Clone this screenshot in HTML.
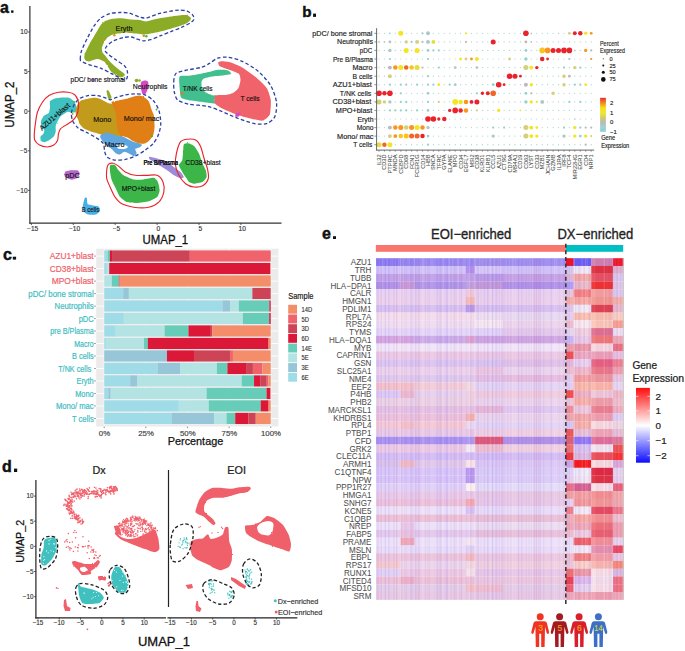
<!DOCTYPE html>
<html><head><meta charset="utf-8"><style>
html,body{margin:0;padding:0;background:#fff;width:685px;height:651px;overflow:hidden}
svg{display:block}
text{font-family:"Liberation Sans",sans-serif}
</style></head><body>
<svg width="685" height="651" viewBox="0 0 685 651">
<rect width="685" height="651" fill="#fff"/>
<defs><filter id="rough" x="-5%" y="-5%" width="110%" height="110%"><feTurbulence type="fractalNoise" baseFrequency="0.9" numOctaves="2" seed="3" result="n"/><feDisplacementMap in="SourceGraphic" in2="n" scale="1.6" xChannelSelector="R" yChannelSelector="G"/></filter></defs>
<g filter="url(#rough)">
<path d="M84.3,58.0 C84.2,57.3 84.5,54.4 84.8,53.5 C85.1,52.6 86.5,50.0 87.1,48.9 C87.7,47.8 89.8,43.4 90.5,42.1 C91.2,40.9 93.2,37.5 93.9,36.4 C94.6,35.3 96.6,31.8 97.3,30.7 C98.0,29.6 99.9,26.0 100.7,25.0 C101.5,24.0 104.2,21.7 105.3,21.1 C106.4,20.5 110.5,19.1 112.1,18.8 C113.7,18.5 119.4,18.1 121.2,18.2 C123.0,18.3 128.6,19.2 130.3,19.4 C132.0,19.6 136.6,19.6 138.2,19.8 C139.8,20.0 144.8,21.4 146.4,21.4 C148.0,21.3 152.9,19.7 154.5,19.3 C156.1,18.9 160.9,18.1 162.7,17.8 C164.5,17.5 171.1,16.5 172.9,16.2 C174.7,15.9 179.7,15.3 181.1,15.2 C182.5,15.1 186.2,14.9 187.2,15.2 C188.2,15.5 190.5,17.3 190.8,17.8 C191.1,18.3 190.7,19.8 190.3,20.3 C189.9,20.8 188.1,22.4 187.2,22.9 C186.3,23.4 182.5,24.9 181.1,25.4 C179.7,25.9 174.5,27.5 172.9,28.0 C171.3,28.5 166.4,30.0 164.7,30.5 C163.0,31.0 157.1,32.2 155.5,32.6 C153.9,33.0 149.6,33.9 148.4,34.1 C147.2,34.3 144.5,34.6 143.3,34.6 C142.1,34.6 137.4,33.8 136.1,33.6 C134.8,33.5 131.0,33.2 130.0,33.1 C129.0,33.0 126.9,32.4 125.7,32.4 C124.5,32.4 119.3,33.3 117.8,33.6 C116.3,33.9 112.1,34.8 111.0,35.3 C109.9,35.8 107.1,37.9 106.4,38.7 C105.7,39.5 104.0,42.3 103.6,43.2 C103.1,44.1 102.0,46.9 101.9,47.8 C101.8,48.7 102.1,51.5 102.4,52.3 C102.7,53.1 104.7,54.9 105.3,55.7 C105.9,56.5 107.9,59.4 108.7,60.3 C109.5,61.2 112.1,63.8 113.2,64.8 C114.3,65.8 118.9,69.6 120.0,70.5 C121.1,71.4 124.2,73.3 124.6,73.9 C125.0,74.5 124.5,75.9 124.0,76.2 C123.5,76.5 120.8,77.4 120.0,77.3 C119.2,77.2 116.4,75.6 115.5,75.0 C114.6,74.4 111.8,72.5 111.0,71.6 C110.2,70.7 108.2,67.0 107.5,66.0 C106.8,65.0 105.1,62.1 104.1,61.4 C103.1,60.7 98.8,59.1 97.3,59.1 C95.8,59.1 90.5,61.2 89.4,61.4 C88.3,61.6 86.5,61.1 86.0,60.8 C85.5,60.5 84.4,58.7 84.3,58.0 Z" fill="#8cab28"/>
<path d="M179.6,76.5 C180.6,75.4 187.1,76.0 189.3,75.7 C191.6,75.4 199.8,74.0 202.1,73.5 C204.3,73.0 210.2,71.6 211.8,71.2 C213.4,70.8 216.9,69.9 218.2,69.8 C219.5,69.7 223.5,69.7 224.6,69.8 C225.7,69.9 228.8,70.8 229.4,71.2 C230.0,71.6 231.5,73.6 231.0,74.0 C230.5,74.4 225.9,75.0 224.0,75.2 C222.1,75.5 214.0,76.2 212.0,76.5 C210.0,76.8 205.1,78.0 204.0,78.5 C202.9,79.0 201.7,81.0 201.5,82.0 C201.3,83.0 201.6,87.0 202.0,88.0 C202.4,89.0 204.9,91.8 206.0,92.5 C207.1,93.2 212.1,95.2 213.0,95.5 C213.9,95.8 215.3,95.0 215.5,95.5 C215.7,96.0 214.6,99.2 214.5,100.0 C214.4,100.8 216.3,103.3 215.0,103.5 C213.7,103.7 203.9,102.1 201.3,101.8 C198.7,101.5 191.0,100.6 189.0,100.2 C187.0,99.8 181.9,98.8 181.0,97.5 C180.1,96.2 179.7,89.1 179.6,87.0 C179.5,84.9 178.6,77.6 179.6,76.5 Z" fill="#42bf8e"/>
<path d="M218.2,62.5 C218.4,62.0 220.8,61.3 222.0,61.3 C223.2,61.3 227.9,61.7 229.9,62.3 C231.9,62.9 239.5,65.9 242.2,67.4 C244.9,68.9 254.1,75.7 256.5,77.7 C258.9,79.8 265.3,85.7 266.7,87.9 C268.1,90.1 270.5,97.4 270.8,100.1 C271.1,102.8 270.6,112.4 269.8,114.4 C269.0,116.5 264.5,120.2 262.6,120.6 C260.7,121.0 253.1,119.1 250.4,118.5 C247.8,117.9 239.0,115.4 236.1,114.4 C233.2,113.4 223.8,109.4 221.7,108.3 C219.6,107.2 215.7,104.5 215.0,103.5 C214.3,102.5 214.4,98.8 214.5,98.0 C214.6,97.2 214.4,95.6 215.5,95.3 C216.6,95.0 223.2,95.2 225.0,95.0 C226.8,94.8 231.7,93.7 233.0,93.0 C234.3,92.3 237.8,89.3 238.5,88.0 C239.2,86.7 240.4,81.4 240.5,80.0 C240.6,78.6 239.8,74.9 239.0,74.0 C238.2,73.1 233.5,71.4 232.0,70.8 C230.5,70.2 225.2,68.5 224.0,68.0 C222.8,67.5 220.1,66.5 219.5,66.0 C218.9,65.5 217.9,63.0 218.2,62.5 Z" fill="#f0636b"/>
<path d="M235.5,114.0 C235.8,113.6 238.5,112.5 239.0,112.5 C239.5,112.5 240.8,113.1 240.7,113.5 C240.6,113.9 239.0,116.2 238.5,116.5 C238.0,116.8 235.8,117.0 235.5,116.8 C235.2,116.5 235.2,114.4 235.5,114.0 Z" fill="#d54bc5"/>
<circle cx="182" cy="93.5" r="1.4" fill="#e07f19"/>
<path d="M50.0,101.3 C50.5,100.5 53.6,98.9 54.7,98.5 C55.8,98.1 60.1,97.6 61.4,97.5 C62.7,97.4 67.0,97.3 68.1,97.5 C69.1,97.7 71.2,98.9 71.9,99.4 C72.6,99.9 74.2,101.5 74.7,102.3 C75.2,103.1 76.5,106.0 76.6,107.0 C76.7,108.0 76.2,111.2 75.7,111.8 C75.2,112.4 72.7,112.7 71.9,112.7 C71.1,112.7 68.9,111.7 68.1,111.8 C67.3,111.9 65.1,113.2 64.3,113.7 C63.5,114.2 61.1,115.7 60.4,116.5 C59.7,117.3 58.1,120.3 57.6,121.3 C57.1,122.3 55.9,125.0 55.7,126.1 C55.5,127.1 55.9,130.8 55.7,131.8 C55.5,132.8 54.5,135.7 53.8,136.5 C53.1,137.3 50.0,139.7 49.0,140.3 C48.0,140.9 45.1,142.1 44.3,142.2 C43.5,142.2 41.3,141.4 40.9,140.8 C40.5,140.2 40.3,137.2 40.5,136.5 C40.7,135.8 42.9,134.4 43.3,133.7 C43.7,133.0 44.5,130.6 44.3,129.9 C44.1,129.2 41.7,127.9 41.4,127.0 C41.1,126.1 40.7,122.3 40.9,121.3 C41.1,120.2 42.8,117.2 43.3,116.5 C43.8,115.8 45.6,115.0 46.2,114.6 C46.8,114.2 48.6,113.5 49.0,112.7 C49.4,111.9 49.9,108.1 50.0,107.0 C50.1,105.9 49.5,102.1 50.0,101.3 Z" fill="#40c1c1"/>
<path d="M78.3,103.3 C78.9,102.3 80.3,100.9 81.1,100.5 C81.9,100.1 85.3,99.4 86.6,99.1 C87.8,98.8 92.3,97.8 93.6,97.7 C94.8,97.6 98.0,98.1 99.1,98.4 C100.2,98.8 103.7,100.7 104.7,101.2 C105.7,101.7 108.1,103.0 108.8,103.3 C109.5,103.6 111.2,103.7 112.0,104.0 C112.8,104.3 116.1,104.9 117.0,106.0 C117.9,107.1 120.5,113.0 121.0,115.0 C121.5,117.0 121.8,124.1 122.0,126.0 C122.2,127.9 123.1,132.7 123.0,134.0 C122.9,135.3 121.6,138.5 121.0,139.0 C120.4,139.5 118.1,139.2 117.2,139.0 C116.3,138.8 112.8,137.8 111.6,137.5 C110.3,137.2 106.1,135.9 104.7,135.5 C103.3,135.1 99.1,133.8 97.7,133.4 C96.3,133.0 92.2,132.0 90.8,131.5 C89.4,131.0 85.0,129.3 83.9,128.6 C82.8,127.9 80.3,125.0 79.7,124.1 C79.1,123.2 78.6,120.7 78.3,119.9 C78.0,119.1 76.5,116.7 76.2,115.7 C75.9,114.7 75.3,111.4 75.5,110.2 C75.7,109.0 77.7,104.3 78.3,103.3 Z" fill="#c29a1c"/>
<path d="M100.5,135.2 C101.1,134.7 105.0,133.2 106.1,133.1 C107.2,133.0 110.5,133.5 111.6,133.8 C112.7,134.1 116.1,135.6 117.2,135.9 C118.3,136.2 121.6,136.2 122.7,136.5 C123.8,136.8 127.2,138.7 128.3,139.3 C129.4,139.9 132.7,141.7 133.8,142.1 C134.9,142.5 138.5,143.2 139.3,143.5 C140.1,143.8 142.1,144.5 142.1,144.9 C142.1,145.3 140.0,147.2 139.3,147.6 C138.6,148.0 135.5,148.4 135.2,149.0 C134.9,149.6 136.7,152.5 136.6,153.2 C136.5,153.9 134.6,156.0 133.8,156.0 C133.0,156.0 129.3,153.6 128.3,153.2 C127.3,152.8 124.9,151.7 124.1,151.8 C123.3,151.9 120.7,154.5 119.9,154.6 C119.1,154.7 116.6,153.8 115.8,153.2 C115.0,152.6 112.4,149.7 111.6,149.0 C110.8,148.3 108.2,147.0 107.4,146.3 C106.6,145.6 104.0,142.9 103.3,142.1 C102.6,141.3 100.8,138.6 100.5,137.9 C100.2,137.2 99.9,135.7 100.5,135.2 Z" fill="#5ea6e0"/>
<path d="M111.6,101.9 C112.1,101.2 117.1,100.8 118.5,100.5 C119.9,100.2 124.1,99.4 125.5,99.1 C126.9,98.8 131.0,97.3 132.4,97.0 C133.8,96.7 138.1,95.5 139.3,95.6 C140.6,95.7 143.9,97.1 144.9,97.7 C145.9,98.3 148.4,100.7 149.1,101.9 C149.8,103.2 151.3,108.8 151.8,110.2 C152.3,111.6 153.6,114.0 153.9,115.7 C154.2,117.4 154.7,124.8 154.6,126.8 C154.5,128.8 153.8,133.8 153.2,135.2 C152.6,136.6 149.9,139.9 149.1,140.7 C148.3,141.5 145.9,143.2 144.9,143.5 C143.9,143.8 140.6,143.8 139.3,143.5 C138.1,143.2 133.5,141.3 132.4,140.7 C131.3,140.1 129.1,138.3 128.3,137.9 C127.5,137.5 124.8,136.8 124.0,136.5 C123.2,136.2 120.7,135.7 120.0,135.0 C119.3,134.3 117.8,131.3 117.5,130.0 C117.2,128.7 116.7,123.6 116.5,122.0 C116.3,120.4 116.3,115.5 116.0,114.0 C115.7,112.5 113.9,108.2 113.5,107.0 C113.1,105.8 111.1,102.6 111.6,101.9 Z" fill="#e07f19"/>
<path d="M110.1,165.2 C110.6,164.5 114.3,164.7 115.1,165.2 C115.9,165.7 117.7,169.3 118.5,170.3 C119.3,171.3 122.0,174.4 123.5,175.3 C125.0,176.2 131.6,179.1 133.6,179.5 C135.6,179.9 141.6,179.7 143.6,179.5 C145.6,179.3 152.3,177.6 153.7,177.8 C155.1,178.1 157.3,180.7 157.9,182.0 C158.5,183.3 159.7,188.9 159.6,190.4 C159.5,191.9 158.2,196.0 157.1,197.1 C156.0,198.2 150.7,200.7 148.7,201.3 C146.7,201.9 139.1,202.9 136.9,203.0 C134.7,203.1 128.6,202.7 126.9,202.1 C125.2,201.5 121.2,198.4 120.1,197.1 C119.0,195.8 116.7,190.4 115.9,188.7 C115.1,187.0 112.4,182.0 111.8,180.3 C111.2,178.6 110.3,173.4 110.1,171.9 C109.9,170.4 109.6,165.9 110.1,165.2 Z" fill="#3db64a"/>
<path d="M183.9,144.2 C184.5,143.4 188.0,143.2 189.0,143.4 C190.0,143.6 193.0,144.9 194.0,145.9 C195.0,146.9 198.2,151.7 199.0,153.5 C199.8,155.3 201.7,161.8 202.4,163.5 C203.1,165.2 205.4,169.0 205.8,170.3 C206.2,171.7 206.9,175.8 206.6,177.0 C206.3,178.2 203.7,181.3 202.4,182.0 C201.1,182.7 195.3,183.7 194.0,183.7 C192.7,183.7 189.8,182.7 189.0,182.0 C188.2,181.3 186.3,178.0 185.6,177.0 C184.9,176.0 183.0,173.1 182.3,171.9 C181.6,170.7 178.9,166.4 178.9,165.2 C178.9,164.0 181.9,161.5 182.3,160.2 C182.7,158.9 182.9,153.4 183.1,151.8 C183.3,150.2 183.3,145.0 183.9,144.2 Z" fill="#3db64a"/>
<path d="M149.5,156.8 C150.3,156.7 155.3,158.0 157.1,158.5 C158.9,159.0 165.4,161.1 167.1,161.9 C168.8,162.7 172.6,165.9 173.9,166.9 C175.2,167.9 179.6,170.9 180.6,171.9 C181.6,172.9 183.9,176.4 183.9,177.0 C183.9,177.6 181.6,178.5 180.6,178.3 C179.6,178.1 175.2,176.1 173.9,175.3 C172.6,174.5 168.4,171.2 167.1,170.3 C165.8,169.4 161.7,166.9 160.4,166.1 C159.1,165.3 154.8,162.6 153.7,161.9 C152.6,161.2 149.9,159.8 149.5,159.3 C149.1,158.8 148.7,156.9 149.5,156.8 Z" fill="#9d8ad8"/>
<path d="M65.4,171.5 C65.9,171.1 68.3,170.6 69.5,170.5 C70.7,170.4 76.7,170.2 77.7,170.5 C78.7,170.8 79.7,172.9 79.7,173.6 C79.7,174.3 78.5,177.1 77.7,177.7 C76.9,178.3 72.7,179.7 71.5,179.7 C70.3,179.7 66.1,177.8 65.4,177.3 C64.7,176.8 64.4,175.2 64.4,174.6 C64.4,174.0 64.9,171.9 65.4,171.5 Z" fill="#b568cc"/>
<path d="M84.8,198.1 C85.2,197.3 86.6,197.5 86.9,198.1 C87.2,198.7 86.8,203.4 87.9,204.2 C89.0,205.0 96.9,205.7 98.1,206.3 C99.3,206.9 100.3,209.6 100.1,210.4 C99.9,211.2 97.3,214.0 96.1,214.4 C94.9,214.8 89.1,214.7 87.9,214.4 C86.7,214.1 84.3,212.2 83.8,211.4 C83.3,210.6 82.7,207.6 82.8,206.3 C82.9,205.0 84.4,198.9 84.8,198.1 Z" fill="#49afe6"/>
<path d="M141.0,82.0 C141.4,81.2 144.3,80.5 145.0,80.5 C145.7,80.5 147.7,81.0 148.0,81.5 C148.3,82.0 148.6,85.0 148.5,86.0 C148.4,87.0 147.3,90.2 147.0,91.0 C146.7,91.8 145.4,94.2 145.0,94.5 C144.6,94.8 142.9,94.5 142.5,94.0 C142.1,93.5 141.2,90.2 141.0,89.0 C140.8,87.8 140.6,82.8 141.0,82.0 Z" fill="#d54bc5"/>
<path d="M106.5,91.0 C106.5,90.2 108.0,89.9 108.5,90.5 C109.0,91.1 111.3,96.1 111.5,97.0 C111.7,97.9 110.3,99.4 110.0,99.5 C109.7,99.6 108.3,98.8 108.0,98.0 C107.7,97.2 106.5,91.8 106.5,91.0 Z" fill="#8cab28"/>
</g>
<path d="M117.0,145.0 C117.8,144.5 122.5,144.2 124.0,144.5 C125.5,144.8 128.0,146.4 128.0,147.0 C128.0,147.6 125.3,148.8 124.0,149.0 C122.7,149.2 118.9,149.0 118.0,148.5 C117.1,148.0 116.2,145.5 117.0,145.0 Z" fill="#fff"/>
<circle cx="136.5" cy="80.5" r="1.8" fill="#8cab28"/>
<circle cx="114.4" cy="35.3" r="1.2" fill="#e0901c"/>
<circle cx="103.6" cy="39.8" r="0.9" fill="#e0901c"/>
<circle cx="104.1" cy="32.4" r="0.9" fill="#3cc08a"/>
<circle cx="103.0" cy="60.3" r="0.9" fill="#e0901c"/>
<circle cx="143.8" cy="35.7" r="1.3" fill="#d8901c"/>
<circle cx="146.4" cy="36.2" r="1.2" fill="#3db64a"/>
<circle cx="187.3" cy="15.3" r="0.6" fill="#f0636b"/>
<circle cx="156.5" cy="109.5" r="0.9" fill="#3db64a"/>
<circle cx="152.0" cy="136.0" r="1.1" fill="#3db64a"/>
<circle cx="74.0" cy="102.0" r="1.0" fill="#3db64a"/>
<circle cx="72.5" cy="114.0" r="1.0" fill="#c29a1c"/>
<circle cx="139.5" cy="80.5" r="1.3" fill="#8cab28"/>
<circle cx="93" cy="79.8" r="1.3" fill="#d54bc5"/>
<path d="M80.3,59.1 C80.3,57.7 80.5,53.9 81.4,51.2 C82.3,48.5 85.4,42.0 87.1,38.7 C88.8,35.4 92.1,28.9 93.9,26.2 C95.7,23.5 98.6,19.9 100.7,18.2 C102.8,16.5 107.2,14.5 109.8,13.7 C112.4,12.9 117.4,12.6 120.0,12.5 C122.6,12.4 126.4,12.5 129.1,13.1 C131.8,13.7 137.8,16.7 140.2,17.3 C142.6,17.9 144.9,18.3 147.4,17.8 C149.9,17.3 155.5,14.6 158.6,13.7 C161.7,12.8 168.2,11.6 170.9,11.1 C173.6,10.6 176.8,10.1 179.0,10.1 C181.2,10.1 185.4,10.4 187.2,11.1 C189.0,11.8 191.9,14.1 192.8,15.2 C193.7,16.3 194.2,18.3 193.9,19.3 C193.6,20.3 192.0,21.8 190.3,22.9 C188.6,24.0 183.7,26.3 181.1,27.5 C178.5,28.7 173.6,30.5 170.9,31.6 C168.2,32.7 163.4,34.6 160.7,35.7 C158.0,36.8 152.7,39.0 150.4,39.7 C148.1,40.4 145.2,40.9 143.3,40.8 C141.4,40.7 137.7,39.2 136.1,38.7 C134.5,38.2 133.1,37.2 131.4,37.0 C129.7,36.8 125.9,37.0 123.5,37.5 C121.1,38.0 115.5,39.8 113.2,41.0 C110.9,42.2 107.5,45.2 106.4,46.6 C105.3,48.0 105.0,50.1 105.3,51.2 C105.6,52.3 107.2,53.4 108.7,54.6 C110.2,55.8 114.5,58.8 116.6,60.3 C118.7,61.8 123.2,64.5 124.6,66.0 C126.0,67.5 127.1,69.9 127.4,71.6 C127.7,73.3 127.4,77.4 126.9,78.5 C126.4,79.6 125.5,80.2 123.5,79.6 C121.5,79.0 115.1,75.4 112.1,73.9 C109.1,72.4 103.7,69.4 100.7,68.2 C97.7,67.0 92.0,65.7 89.4,64.8 C86.8,63.9 82.6,62.2 81.4,61.4 C80.2,60.6 80.3,60.5 80.3,59.1 Z" fill="none" stroke="#2b3fa8" stroke-width="1.3" stroke-dasharray="3.6,2.3"/>
<path d="M173.7,81.7 C173.9,79.2 174.3,75.1 175.8,73.6 C177.3,72.1 181.6,71.3 185.0,70.5 C188.4,69.7 198.0,68.3 201.3,67.4 C204.6,66.5 207.3,64.6 209.5,63.4 C211.7,62.2 215.2,59.0 217.7,58.2 C220.2,57.4 224.6,56.8 227.9,57.2 C231.2,57.6 238.1,59.4 242.2,61.3 C246.3,63.2 254.7,68.2 258.5,71.5 C262.3,74.8 268.4,81.7 270.8,85.8 C273.2,89.9 276.0,98.1 276.5,102.2 C277.0,106.3 276.2,113.6 274.9,116.5 C273.6,119.4 269.4,122.7 266.7,123.6 C264.0,124.5 258.3,124.3 254.5,123.6 C250.7,122.9 242.5,120.1 238.1,118.5 C233.7,116.9 225.8,113.0 221.7,111.4 C217.6,109.8 211.8,107.3 207.4,106.3 C203.0,105.3 192.9,105.0 189.0,104.2 C185.1,103.4 179.8,101.7 177.8,100.1 C175.8,98.5 174.8,94.5 174.3,92.0 C173.8,89.5 173.5,84.2 173.7,81.7 Z" fill="none" stroke="#2b3fa8" stroke-width="1.3" stroke-dasharray="3.6,2.3"/>
<path d="M71.4,113.0 C71.6,110.8 73.1,106.5 74.2,104.6 C75.3,102.7 77.9,99.6 79.7,98.4 C81.5,97.2 85.6,96.0 88.0,95.6 C90.4,95.2 95.5,95.3 97.7,95.6 C99.9,95.9 103.0,97.1 104.7,97.7 C106.4,98.3 108.7,99.8 110.2,99.8 C111.7,99.8 113.8,98.4 115.8,97.7 C117.8,97.0 122.9,95.4 125.5,94.9 C128.1,94.4 132.6,93.8 135.2,93.8 C137.8,93.8 142.5,94.0 144.9,94.9 C147.3,95.8 151.3,98.5 153.2,100.5 C155.1,102.5 157.8,107.2 158.8,110.2 C159.8,113.2 160.8,119.6 160.8,122.7 C160.8,125.8 159.8,131.0 158.8,133.8 C157.8,136.6 155.1,141.3 153.2,143.5 C151.3,145.7 147.3,148.7 144.9,150.4 C142.5,152.1 137.8,154.8 135.2,156.0 C132.6,157.2 128.3,158.9 125.5,159.4 C122.7,159.9 116.8,160.4 114.4,160.1 C112.0,159.8 108.7,158.4 107.4,157.3 C106.1,156.2 105.2,153.6 104.7,151.8 C104.2,150.0 104.4,145.4 103.3,143.5 C102.2,141.6 98.6,139.4 96.4,137.9 C94.2,136.4 89.0,133.7 86.6,132.4 C84.2,131.1 80.1,129.7 78.3,128.2 C76.5,126.7 73.7,123.3 72.8,121.3 C71.9,119.3 71.2,115.2 71.4,113.0 Z" fill="none" stroke="#2b3fa8" stroke-width="1.3" stroke-dasharray="3.6,2.3"/>
<path d="M34.3,133.7 C34.4,131.2 35.3,124.2 35.7,121.3 C36.1,118.4 36.7,114.3 37.6,111.8 C38.5,109.3 40.9,104.5 42.4,102.3 C43.9,100.1 46.9,96.9 49.0,95.6 C51.1,94.3 56.0,92.7 58.5,92.3 C61.0,91.9 65.9,92.0 68.1,92.3 C70.3,92.6 73.4,93.6 74.7,94.7 C76.0,95.8 77.5,98.8 78.0,100.4 C78.5,102.0 78.7,105.0 78.5,107.0 C78.3,109.0 77.5,113.7 76.6,115.6 C75.7,117.5 73.5,119.9 71.9,121.3 C70.3,122.7 65.8,125.1 64.3,126.1 C62.8,127.1 61.2,127.9 60.4,128.9 C59.6,129.9 58.9,132.2 58.5,133.7 C58.1,135.2 58.2,138.8 57.6,140.3 C57.0,141.8 55.2,144.2 53.8,145.1 C52.4,146.0 49.0,147.0 47.1,147.0 C45.2,147.0 41.1,146.0 39.5,145.1 C37.9,144.2 35.5,141.8 34.8,140.3 C34.1,138.8 34.2,136.2 34.3,133.7 Z" fill="none" stroke="#e8262c" stroke-width="1.15"/>
<path d="M106.7,170.3 C106.9,168.4 107.5,165.3 108.4,164.4 C109.3,163.5 112.1,163.0 113.4,163.2 C114.7,163.4 116.9,164.9 118.5,166.1 C120.1,167.3 123.0,170.7 125.2,171.9 C127.4,173.1 132.4,174.8 135.3,175.3 C138.2,175.8 144.1,175.3 147.0,175.3 C149.9,175.3 155.0,174.4 157.1,175.3 C159.2,176.2 162.1,179.8 163.0,182.0 C163.9,184.2 164.4,189.4 163.8,192.1 C163.2,194.8 160.8,200.1 158.8,202.1 C156.8,204.1 152.1,206.5 148.7,207.2 C145.3,207.9 137.2,207.7 133.6,207.2 C130.0,206.7 124.3,205.1 121.8,203.8 C119.3,202.5 116.7,199.3 115.1,197.1 C113.5,194.9 111.2,189.5 110.1,187.0 C109.0,184.5 107.2,180.8 106.7,178.6 C106.2,176.4 106.5,172.2 106.7,170.3 Z" fill="none" stroke="#e8262c" stroke-width="1.15"/>
<path d="M180.6,141.7 C182.1,139.8 185.3,139.4 187.3,139.2 C189.3,139.0 193.9,139.0 195.7,140.0 C197.5,141.0 199.6,144.3 200.7,146.8 C201.8,149.3 203.2,155.6 204.1,158.5 C205.0,161.4 206.8,165.9 207.4,168.6 C208.0,171.3 208.9,176.4 208.3,178.6 C207.7,180.8 205.1,184.3 203.2,185.4 C201.3,186.5 196.3,187.2 194.0,187.0 C191.7,186.8 187.6,185.3 185.6,183.7 C183.6,182.1 180.2,177.8 178.9,175.3 C177.6,172.8 175.8,168.1 175.5,165.2 C175.2,162.3 175.7,156.6 176.4,153.5 C177.1,150.4 179.1,143.6 180.6,141.7 Z" fill="none" stroke="#e8262c" stroke-width="1.15"/>
<line x1="29.9" y1="6" x2="29.9" y2="223.7" stroke="#333" stroke-width="1.2"/>
<line x1="29.3" y1="223.1" x2="281.5" y2="223.1" stroke="#333" stroke-width="1.2"/>
<line x1="28" y1="32.0" x2="29.9" y2="32.0" stroke="#333" stroke-width="0.8"/>
<text x="27.5" y="34.3" font-size="6.5" text-anchor="end" fill="#333" font-weight="normal" stroke="#333" stroke-width="0.15" >10</text>
<line x1="28" y1="71.6" x2="29.9" y2="71.6" stroke="#333" stroke-width="0.8"/>
<text x="27.5" y="73.9" font-size="6.5" text-anchor="end" fill="#333" font-weight="normal" stroke="#333" stroke-width="0.15" >5</text>
<line x1="28" y1="111.2" x2="29.9" y2="111.2" stroke="#333" stroke-width="0.8"/>
<text x="27.5" y="113.5" font-size="6.5" text-anchor="end" fill="#333" font-weight="normal" stroke="#333" stroke-width="0.15" >0</text>
<line x1="28" y1="150.8" x2="29.9" y2="150.8" stroke="#333" stroke-width="0.8"/>
<text x="27.5" y="153.1" font-size="6.5" text-anchor="end" fill="#333" font-weight="normal" stroke="#333" stroke-width="0.15" >−5</text>
<line x1="28" y1="190.4" x2="29.9" y2="190.4" stroke="#333" stroke-width="0.8"/>
<text x="27.5" y="192.7" font-size="6.5" text-anchor="end" fill="#333" font-weight="normal" stroke="#333" stroke-width="0.15" >−10</text>
<line x1="31.4" y1="223.1" x2="31.4" y2="225" stroke="#333" stroke-width="0.8"/>
<text x="32.7" y="230.8" font-size="6.6" text-anchor="middle" fill="#333" font-weight="normal" stroke="#333" stroke-width="0.15" >−15</text>
<line x1="73.3" y1="223.1" x2="73.3" y2="225" stroke="#333" stroke-width="0.8"/>
<text x="74.6" y="230.8" font-size="6.6" text-anchor="middle" fill="#333" font-weight="normal" stroke="#333" stroke-width="0.15" >−10</text>
<line x1="115.2" y1="223.1" x2="115.2" y2="225" stroke="#333" stroke-width="0.8"/>
<text x="116.5" y="230.8" font-size="6.6" text-anchor="middle" fill="#333" font-weight="normal" stroke="#333" stroke-width="0.15" >−5</text>
<line x1="157.1" y1="223.1" x2="157.1" y2="225" stroke="#333" stroke-width="0.8"/>
<text x="158.4" y="230.8" font-size="6.6" text-anchor="middle" fill="#333" font-weight="normal" stroke="#333" stroke-width="0.15" >0</text>
<line x1="199.0" y1="223.1" x2="199.0" y2="225" stroke="#333" stroke-width="0.8"/>
<text x="200.3" y="230.8" font-size="6.6" text-anchor="middle" fill="#333" font-weight="normal" stroke="#333" stroke-width="0.15" >5</text>
<line x1="240.9" y1="223.1" x2="240.9" y2="225" stroke="#333" stroke-width="0.8"/>
<text x="242.2" y="230.8" font-size="6.6" text-anchor="middle" fill="#333" font-weight="normal" stroke="#333" stroke-width="0.15" >10</text>
<text x="165.4" y="243.9" font-size="13.3" text-anchor="middle" fill="#111" font-weight="normal" textLength="45.6" lengthAdjust="spacingAndGlyphs" stroke="#111" stroke-width="0.30" >UMAP_1</text>
<text x="14.5" y="104.6" font-size="13.3" text-anchor="middle" fill="#111" font-weight="normal" textLength="46.2" lengthAdjust="spacingAndGlyphs" transform="rotate(-90 14.5 104.6)" stroke="#111" stroke-width="0.30" >UMAP_2</text>
<text x="124.0" y="30.5" font-size="7.2" text-anchor="middle" fill="#111" font-weight="normal" stroke="#111" stroke-width="0.16" >Eryth</text>
<text x="97.8" y="82.2" font-size="7.2" text-anchor="middle" fill="#111" font-weight="normal" textLength="54.6" lengthAdjust="spacingAndGlyphs" stroke="#111" stroke-width="0.16" >pDC/ bone stromal</text>
<text x="150.2" y="89.3" font-size="7.2" text-anchor="middle" fill="#111" font-weight="normal" textLength="34.7" lengthAdjust="spacingAndGlyphs" stroke="#111" stroke-width="0.16" >Neutrophils</text>
<text x="197.6" y="90.5" font-size="7.2" text-anchor="middle" fill="#111" font-weight="normal" textLength="29.9" lengthAdjust="spacingAndGlyphs" stroke="#111" stroke-width="0.16" >T/NK cells</text>
<text x="250.0" y="100.7" font-size="7.2" text-anchor="middle" fill="#111" font-weight="normal" textLength="19.2" lengthAdjust="spacingAndGlyphs" stroke="#111" stroke-width="0.16" >T cells</text>
<text x="102.2" y="122.4" font-size="7.2" text-anchor="middle" fill="#111" font-weight="normal" stroke="#111" stroke-width="0.16" >Mono</text>
<text x="141.5" y="121.2" font-size="7.2" text-anchor="middle" fill="#111" font-weight="normal" stroke="#111" stroke-width="0.16" >Mono/ mac</text>
<text x="114.5" y="146.5" font-size="7.2" text-anchor="middle" fill="#111" font-weight="normal" stroke="#111" stroke-width="0.16" >Macro</text>
<text x="160.7" y="165.3" font-size="7.2" text-anchor="middle" fill="#111" font-weight="normal" textLength="34.4" lengthAdjust="spacingAndGlyphs" stroke="#111" stroke-width="0.16" >Pre B/Plasma</text>
<text x="203.0" y="165.3" font-size="7.2" text-anchor="middle" fill="#111" font-weight="normal" textLength="35.3" lengthAdjust="spacingAndGlyphs" stroke="#111" stroke-width="0.16" >CD38+blast</text>
<text x="72.4" y="177.6" font-size="7.2" text-anchor="middle" fill="#111" font-weight="normal" stroke="#111" stroke-width="0.16" >pDC</text>
<text x="138.5" y="191.3" font-size="7.2" text-anchor="middle" fill="#111" font-weight="normal" textLength="33.6" lengthAdjust="spacingAndGlyphs" stroke="#111" stroke-width="0.16" >MPO+blast</text>
<text x="90.4" y="211.5" font-size="7.2" text-anchor="middle" fill="#111" font-weight="normal" textLength="17.4" lengthAdjust="spacingAndGlyphs" stroke="#111" stroke-width="0.16" >B cells</text>
<text x="160.9" y="165.3" font-size="7.2" text-anchor="middle" fill="#111" font-weight="normal" textLength="34.4" lengthAdjust="spacingAndGlyphs" stroke="#111" stroke-width="0.16" >Pre B/Plasma</text>
<text x="56.2" y="118.6" font-size="7.2" text-anchor="middle" fill="#111" font-weight="normal" transform="rotate(-41 56.2 118.6)" stroke="#111" stroke-width="0.16" >AZU1+blast</text>
<text x="0.1" y="12.8" font-size="16" font-weight="bold" fill="#111" stroke="#111" stroke-width="0.45">a</text><rect x="11.1" y="10.4" width="2.4" height="2.4" fill="#111"/>
<circle cx="379.0" cy="33.3" r="0.6" fill="#9fd6d3"/>
<circle cx="384.4" cy="33.3" r="0.6" fill="#9fd6d3"/>
<circle cx="389.9" cy="33.3" r="0.84" fill="#8ed2cd"/>
<circle cx="395.3" cy="33.3" r="0.6" fill="#9fd6d3"/>
<circle cx="400.8" cy="33.3" r="2.52" fill="#f3e51f"/>
<circle cx="406.2" cy="33.3" r="0.6" fill="#9fd6d3"/>
<circle cx="411.6" cy="33.3" r="0.6" fill="#9fd6d3"/>
<circle cx="417.1" cy="33.3" r="0.6" fill="#9fd6d3"/>
<circle cx="422.5" cy="33.3" r="1.12" fill="#8ed2cd"/>
<circle cx="428.0" cy="33.3" r="1.96" fill="#a9c9c4"/>
<circle cx="433.4" cy="33.3" r="0.6" fill="#9fd6d3"/>
<circle cx="438.8" cy="33.3" r="0.6" fill="#9fd6d3"/>
<circle cx="444.3" cy="33.3" r="0.6" fill="#9fd6d3"/>
<circle cx="449.7" cy="33.3" r="0.6" fill="#9fd6d3"/>
<circle cx="455.2" cy="33.3" r="0.6" fill="#9fd6d3"/>
<circle cx="460.6" cy="33.3" r="0.6" fill="#9fd6d3"/>
<circle cx="466.0" cy="33.3" r="1.12" fill="#f3e51f"/>
<circle cx="471.5" cy="33.3" r="0.6" fill="#9fd6d3"/>
<circle cx="476.9" cy="33.3" r="0.6" fill="#9fd6d3"/>
<circle cx="482.4" cy="33.3" r="0.6" fill="#9fd6d3"/>
<circle cx="487.8" cy="33.3" r="0.6" fill="#9fd6d3"/>
<circle cx="493.2" cy="33.3" r="0.6" fill="#9fd6d3"/>
<circle cx="498.7" cy="33.3" r="0.6" fill="#9fd6d3"/>
<circle cx="504.1" cy="33.3" r="0.6" fill="#9fd6d3"/>
<circle cx="509.6" cy="33.3" r="0.6" fill="#9fd6d3"/>
<circle cx="515.0" cy="33.3" r="0.6" fill="#9fd6d3"/>
<circle cx="520.4" cy="33.3" r="0.6" fill="#9fd6d3"/>
<circle cx="525.9" cy="33.3" r="2.80" fill="#e8232b"/>
<circle cx="531.3" cy="33.3" r="0.84" fill="#8ed2cd"/>
<circle cx="536.8" cy="33.3" r="0.6" fill="#9fd6d3"/>
<circle cx="542.2" cy="33.3" r="0.6" fill="#9fd6d3"/>
<circle cx="547.6" cy="33.3" r="0.6" fill="#9fd6d3"/>
<circle cx="553.1" cy="33.3" r="0.6" fill="#9fd6d3"/>
<circle cx="558.5" cy="33.3" r="0.67" fill="#bababa"/>
<circle cx="564.0" cy="33.3" r="0.6" fill="#9fd6d3"/>
<circle cx="569.4" cy="33.3" r="1.40" fill="#d3cf7a"/>
<circle cx="574.8" cy="33.3" r="1.96" fill="#e8232b"/>
<circle cx="580.3" cy="33.3" r="2.24" fill="#e8232b"/>
<circle cx="585.7" cy="33.3" r="1.68" fill="#f3e51f"/>
<circle cx="591.2" cy="33.3" r="1.40" fill="#f8961f"/>
<line x1="374.4" y1="33.3" x2="376.6" y2="33.3" stroke="#444" stroke-width="0.6"/>
<text x="372.3" y="35.8" font-size="7.2" text-anchor="end" fill="#222" font-weight="normal" textLength="60.0" lengthAdjust="spacingAndGlyphs" stroke="#222" stroke-width="0.16" >pDC/ bone stromal</text>
<circle cx="379.0" cy="41.9" r="0.84" fill="#bababa"/>
<circle cx="384.4" cy="41.9" r="0.84" fill="#bababa"/>
<circle cx="389.9" cy="41.9" r="1.40" fill="#a9c9c4"/>
<circle cx="395.3" cy="41.9" r="0.6" fill="#9fd6d3"/>
<circle cx="400.8" cy="41.9" r="0.6" fill="#9fd6d3"/>
<circle cx="406.2" cy="41.9" r="1.68" fill="#d3cf7a"/>
<circle cx="411.6" cy="41.9" r="1.12" fill="#8ed2cd"/>
<circle cx="417.1" cy="41.9" r="1.96" fill="#d3cf7a"/>
<circle cx="422.5" cy="41.9" r="1.12" fill="#bababa"/>
<circle cx="428.0" cy="41.9" r="1.96" fill="#a9c9c4"/>
<circle cx="433.4" cy="41.9" r="1.96" fill="#e3de3c"/>
<circle cx="438.8" cy="41.9" r="0.6" fill="#9fd6d3"/>
<circle cx="444.3" cy="41.9" r="0.6" fill="#9fd6d3"/>
<circle cx="449.7" cy="41.9" r="0.6" fill="#9fd6d3"/>
<circle cx="455.2" cy="41.9" r="0.6" fill="#9fd6d3"/>
<circle cx="460.6" cy="41.9" r="0.6" fill="#9fd6d3"/>
<circle cx="466.0" cy="41.9" r="1.12" fill="#bababa"/>
<circle cx="471.5" cy="41.9" r="0.6" fill="#9fd6d3"/>
<circle cx="476.9" cy="41.9" r="0.6" fill="#9fd6d3"/>
<circle cx="482.4" cy="41.9" r="0.6" fill="#9fd6d3"/>
<circle cx="487.8" cy="41.9" r="0.6" fill="#9fd6d3"/>
<circle cx="493.2" cy="41.9" r="2.52" fill="#e8232b"/>
<circle cx="498.7" cy="41.9" r="0.6" fill="#9fd6d3"/>
<circle cx="504.1" cy="41.9" r="0.6" fill="#9fd6d3"/>
<circle cx="509.6" cy="41.9" r="0.6" fill="#9fd6d3"/>
<circle cx="515.0" cy="41.9" r="0.6" fill="#9fd6d3"/>
<circle cx="520.4" cy="41.9" r="0.6" fill="#9fd6d3"/>
<circle cx="525.9" cy="41.9" r="1.40" fill="#bababa"/>
<circle cx="531.3" cy="41.9" r="0.84" fill="#8ed2cd"/>
<circle cx="536.8" cy="41.9" r="0.6" fill="#9fd6d3"/>
<circle cx="542.2" cy="41.9" r="0.6" fill="#9fd6d3"/>
<circle cx="547.6" cy="41.9" r="0.6" fill="#9fd6d3"/>
<circle cx="553.1" cy="41.9" r="0.6" fill="#9fd6d3"/>
<circle cx="558.5" cy="41.9" r="0.6" fill="#9fd6d3"/>
<circle cx="564.0" cy="41.9" r="0.6" fill="#9fd6d3"/>
<circle cx="569.4" cy="41.9" r="0.6" fill="#9fd6d3"/>
<circle cx="574.8" cy="41.9" r="0.6" fill="#9fd6d3"/>
<circle cx="580.3" cy="41.9" r="0.6" fill="#9fd6d3"/>
<circle cx="585.7" cy="41.9" r="0.6" fill="#9fd6d3"/>
<circle cx="591.2" cy="41.9" r="0.6" fill="#9fd6d3"/>
<line x1="374.4" y1="41.9" x2="376.6" y2="41.9" stroke="#444" stroke-width="0.6"/>
<text x="373.0" y="44.4" font-size="7.2" text-anchor="end" fill="#222" font-weight="normal" textLength="36.0" lengthAdjust="spacingAndGlyphs" stroke="#222" stroke-width="0.16" >Neutrophils</text>
<circle cx="379.0" cy="50.4" r="0.6" fill="#9fd6d3"/>
<circle cx="384.4" cy="50.4" r="0.6" fill="#9fd6d3"/>
<circle cx="389.9" cy="50.4" r="1.68" fill="#a9c9c4"/>
<circle cx="395.3" cy="50.4" r="0.6" fill="#9fd6d3"/>
<circle cx="400.8" cy="50.4" r="0.6" fill="#9fd6d3"/>
<circle cx="406.2" cy="50.4" r="2.52" fill="#f3e51f"/>
<circle cx="411.6" cy="50.4" r="0.6" fill="#9fd6d3"/>
<circle cx="417.1" cy="50.4" r="2.52" fill="#f3e51f"/>
<circle cx="422.5" cy="50.4" r="0.6" fill="#9fd6d3"/>
<circle cx="428.0" cy="50.4" r="1.40" fill="#8ed2cd"/>
<circle cx="433.4" cy="50.4" r="1.12" fill="#8ed2cd"/>
<circle cx="438.8" cy="50.4" r="1.12" fill="#a9c9c4"/>
<circle cx="444.3" cy="50.4" r="0.6" fill="#9fd6d3"/>
<circle cx="449.7" cy="50.4" r="0.6" fill="#9fd6d3"/>
<circle cx="455.2" cy="50.4" r="0.6" fill="#9fd6d3"/>
<circle cx="460.6" cy="50.4" r="0.6" fill="#9fd6d3"/>
<circle cx="466.0" cy="50.4" r="0.6" fill="#9fd6d3"/>
<circle cx="471.5" cy="50.4" r="0.6" fill="#9fd6d3"/>
<circle cx="476.9" cy="50.4" r="0.6" fill="#9fd6d3"/>
<circle cx="482.4" cy="50.4" r="0.6" fill="#9fd6d3"/>
<circle cx="487.8" cy="50.4" r="0.6" fill="#9fd6d3"/>
<circle cx="493.2" cy="50.4" r="0.6" fill="#9fd6d3"/>
<circle cx="498.7" cy="50.4" r="0.6" fill="#9fd6d3"/>
<circle cx="504.1" cy="50.4" r="0.6" fill="#9fd6d3"/>
<circle cx="509.6" cy="50.4" r="0.6" fill="#9fd6d3"/>
<circle cx="515.0" cy="50.4" r="0.6" fill="#9fd6d3"/>
<circle cx="520.4" cy="50.4" r="0.6" fill="#9fd6d3"/>
<circle cx="525.9" cy="50.4" r="1.40" fill="#8ed2cd"/>
<circle cx="531.3" cy="50.4" r="0.6" fill="#9fd6d3"/>
<circle cx="536.8" cy="50.4" r="0.6" fill="#9fd6d3"/>
<circle cx="542.2" cy="50.4" r="2.80" fill="#f9c41b"/>
<circle cx="547.6" cy="50.4" r="2.80" fill="#f8961f"/>
<circle cx="553.1" cy="50.4" r="2.52" fill="#e8232b"/>
<circle cx="558.5" cy="50.4" r="2.52" fill="#e8232b"/>
<circle cx="564.0" cy="50.4" r="2.80" fill="#e8232b"/>
<circle cx="569.4" cy="50.4" r="2.80" fill="#e8232b"/>
<circle cx="574.8" cy="50.4" r="0.84" fill="#bababa"/>
<circle cx="580.3" cy="50.4" r="0.6" fill="#9fd6d3"/>
<circle cx="585.7" cy="50.4" r="1.68" fill="#f8961f"/>
<circle cx="591.2" cy="50.4" r="1.12" fill="#bababa"/>
<line x1="374.4" y1="50.4" x2="376.6" y2="50.4" stroke="#444" stroke-width="0.6"/>
<text x="372.3" y="52.9" font-size="7.2" text-anchor="end" fill="#222" font-weight="normal" textLength="12.5" lengthAdjust="spacingAndGlyphs" stroke="#222" stroke-width="0.16" >pDC</text>
<circle cx="379.0" cy="59.0" r="0.6" fill="#9fd6d3"/>
<circle cx="384.4" cy="59.0" r="0.6" fill="#9fd6d3"/>
<circle cx="389.9" cy="59.0" r="1.12" fill="#8ed2cd"/>
<circle cx="395.3" cy="59.0" r="0.6" fill="#9fd6d3"/>
<circle cx="400.8" cy="59.0" r="0.6" fill="#9fd6d3"/>
<circle cx="406.2" cy="59.0" r="0.6" fill="#9fd6d3"/>
<circle cx="411.6" cy="59.0" r="0.6" fill="#9fd6d3"/>
<circle cx="417.1" cy="59.0" r="0.6" fill="#9fd6d3"/>
<circle cx="422.5" cy="59.0" r="0.6" fill="#9fd6d3"/>
<circle cx="428.0" cy="59.0" r="1.12" fill="#8ed2cd"/>
<circle cx="433.4" cy="59.0" r="0.6" fill="#9fd6d3"/>
<circle cx="438.8" cy="59.0" r="0.6" fill="#9fd6d3"/>
<circle cx="444.3" cy="59.0" r="0.6" fill="#9fd6d3"/>
<circle cx="449.7" cy="59.0" r="0.6" fill="#9fd6d3"/>
<circle cx="455.2" cy="59.0" r="0.6" fill="#9fd6d3"/>
<circle cx="460.6" cy="59.0" r="1.40" fill="#f3e51f"/>
<circle cx="466.0" cy="59.0" r="1.40" fill="#d3cf7a"/>
<circle cx="471.5" cy="59.0" r="1.40" fill="#f8961f"/>
<circle cx="476.9" cy="59.0" r="1.96" fill="#f3e51f"/>
<circle cx="482.4" cy="59.0" r="0.6" fill="#9fd6d3"/>
<circle cx="487.8" cy="59.0" r="0.6" fill="#9fd6d3"/>
<circle cx="493.2" cy="59.0" r="0.6" fill="#9fd6d3"/>
<circle cx="498.7" cy="59.0" r="0.6" fill="#9fd6d3"/>
<circle cx="504.1" cy="59.0" r="0.6" fill="#9fd6d3"/>
<circle cx="509.6" cy="59.0" r="1.40" fill="#d3cf7a"/>
<circle cx="515.0" cy="59.0" r="0.6" fill="#9fd6d3"/>
<circle cx="520.4" cy="59.0" r="0.6" fill="#9fd6d3"/>
<circle cx="525.9" cy="59.0" r="1.68" fill="#8ed2cd"/>
<circle cx="531.3" cy="59.0" r="0.6" fill="#9fd6d3"/>
<circle cx="536.8" cy="59.0" r="0.6" fill="#9fd6d3"/>
<circle cx="542.2" cy="59.0" r="2.24" fill="#e8232b"/>
<circle cx="547.6" cy="59.0" r="1.40" fill="#e8232b"/>
<circle cx="553.1" cy="59.0" r="0.6" fill="#9fd6d3"/>
<circle cx="558.5" cy="59.0" r="0.6" fill="#9fd6d3"/>
<circle cx="564.0" cy="59.0" r="0.6" fill="#9fd6d3"/>
<circle cx="569.4" cy="59.0" r="1.12" fill="#bababa"/>
<circle cx="574.8" cy="59.0" r="0.6" fill="#9fd6d3"/>
<circle cx="580.3" cy="59.0" r="0.6" fill="#9fd6d3"/>
<circle cx="585.7" cy="59.0" r="0.6" fill="#9fd6d3"/>
<circle cx="591.2" cy="59.0" r="1.12" fill="#f8961f"/>
<line x1="374.4" y1="59.0" x2="376.6" y2="59.0" stroke="#444" stroke-width="0.6"/>
<text x="373.0" y="61.5" font-size="7.2" text-anchor="end" fill="#222" font-weight="normal" textLength="40.0" lengthAdjust="spacingAndGlyphs" stroke="#222" stroke-width="0.16" >Pre B/Plasma</text>
<circle cx="379.0" cy="67.6" r="0.6" fill="#9fd6d3"/>
<circle cx="384.4" cy="67.6" r="0.6" fill="#9fd6d3"/>
<circle cx="389.9" cy="67.6" r="1.96" fill="#bababa"/>
<circle cx="395.3" cy="67.6" r="2.24" fill="#f8961f"/>
<circle cx="400.8" cy="67.6" r="2.52" fill="#f3e51f"/>
<circle cx="406.2" cy="67.6" r="2.24" fill="#f06528"/>
<circle cx="411.6" cy="67.6" r="2.24" fill="#f9c41b"/>
<circle cx="417.1" cy="67.6" r="2.52" fill="#e3de3c"/>
<circle cx="422.5" cy="67.6" r="1.12" fill="#bababa"/>
<circle cx="428.0" cy="67.6" r="0.6" fill="#9fd6d3"/>
<circle cx="433.4" cy="67.6" r="0.6" fill="#9fd6d3"/>
<circle cx="438.8" cy="67.6" r="1.12" fill="#8ed2cd"/>
<circle cx="444.3" cy="67.6" r="0.6" fill="#9fd6d3"/>
<circle cx="449.7" cy="67.6" r="0.6" fill="#9fd6d3"/>
<circle cx="455.2" cy="67.6" r="1.40" fill="#a9c9c4"/>
<circle cx="460.6" cy="67.6" r="0.6" fill="#9fd6d3"/>
<circle cx="466.0" cy="67.6" r="0.6" fill="#9fd6d3"/>
<circle cx="471.5" cy="67.6" r="0.6" fill="#9fd6d3"/>
<circle cx="476.9" cy="67.6" r="1.40" fill="#a9c9c4"/>
<circle cx="482.4" cy="67.6" r="0.6" fill="#9fd6d3"/>
<circle cx="487.8" cy="67.6" r="0.6" fill="#9fd6d3"/>
<circle cx="493.2" cy="67.6" r="0.6" fill="#9fd6d3"/>
<circle cx="498.7" cy="67.6" r="0.6" fill="#9fd6d3"/>
<circle cx="504.1" cy="67.6" r="0.6" fill="#9fd6d3"/>
<circle cx="509.6" cy="67.6" r="0.6" fill="#9fd6d3"/>
<circle cx="515.0" cy="67.6" r="0.6" fill="#9fd6d3"/>
<circle cx="520.4" cy="67.6" r="0.6" fill="#9fd6d3"/>
<circle cx="525.9" cy="67.6" r="2.52" fill="#d3cf7a"/>
<circle cx="531.3" cy="67.6" r="1.96" fill="#f3e51f"/>
<circle cx="536.8" cy="67.6" r="1.68" fill="#e8232b"/>
<circle cx="542.2" cy="67.6" r="0.6" fill="#9fd6d3"/>
<circle cx="547.6" cy="67.6" r="0.6" fill="#9fd6d3"/>
<circle cx="553.1" cy="67.6" r="0.6" fill="#9fd6d3"/>
<circle cx="558.5" cy="67.6" r="0.6" fill="#9fd6d3"/>
<circle cx="564.0" cy="67.6" r="1.12" fill="#8ed2cd"/>
<circle cx="569.4" cy="67.6" r="0.6" fill="#9fd6d3"/>
<circle cx="574.8" cy="67.6" r="1.68" fill="#d3cf7a"/>
<circle cx="580.3" cy="67.6" r="1.12" fill="#8ed2cd"/>
<circle cx="585.7" cy="67.6" r="0.6" fill="#9fd6d3"/>
<circle cx="591.2" cy="67.6" r="0.6" fill="#9fd6d3"/>
<line x1="374.4" y1="67.6" x2="376.6" y2="67.6" stroke="#444" stroke-width="0.6"/>
<text x="372.5" y="70.1" font-size="7.2" text-anchor="end" fill="#222" font-weight="normal" textLength="20.0" lengthAdjust="spacingAndGlyphs" stroke="#222" stroke-width="0.16" >Macro</text>
<circle cx="379.0" cy="76.2" r="0.6" fill="#9fd6d3"/>
<circle cx="384.4" cy="76.2" r="0.6" fill="#9fd6d3"/>
<circle cx="389.9" cy="76.2" r="1.96" fill="#d3cf7a"/>
<circle cx="395.3" cy="76.2" r="0.6" fill="#9fd6d3"/>
<circle cx="400.8" cy="76.2" r="0.6" fill="#9fd6d3"/>
<circle cx="406.2" cy="76.2" r="0.6" fill="#9fd6d3"/>
<circle cx="411.6" cy="76.2" r="0.6" fill="#9fd6d3"/>
<circle cx="417.1" cy="76.2" r="0.6" fill="#9fd6d3"/>
<circle cx="422.5" cy="76.2" r="0.6" fill="#9fd6d3"/>
<circle cx="428.0" cy="76.2" r="1.12" fill="#8ed2cd"/>
<circle cx="433.4" cy="76.2" r="0.6" fill="#9fd6d3"/>
<circle cx="438.8" cy="76.2" r="0.6" fill="#9fd6d3"/>
<circle cx="444.3" cy="76.2" r="0.6" fill="#9fd6d3"/>
<circle cx="449.7" cy="76.2" r="0.6" fill="#9fd6d3"/>
<circle cx="455.2" cy="76.2" r="0.6" fill="#9fd6d3"/>
<circle cx="460.6" cy="76.2" r="0.6" fill="#9fd6d3"/>
<circle cx="466.0" cy="76.2" r="0.6" fill="#9fd6d3"/>
<circle cx="471.5" cy="76.2" r="0.6" fill="#9fd6d3"/>
<circle cx="476.9" cy="76.2" r="0.6" fill="#9fd6d3"/>
<circle cx="482.4" cy="76.2" r="0.6" fill="#9fd6d3"/>
<circle cx="487.8" cy="76.2" r="0.6" fill="#9fd6d3"/>
<circle cx="493.2" cy="76.2" r="0.6" fill="#9fd6d3"/>
<circle cx="498.7" cy="76.2" r="0.6" fill="#9fd6d3"/>
<circle cx="504.1" cy="76.2" r="0.6" fill="#9fd6d3"/>
<circle cx="509.6" cy="76.2" r="2.80" fill="#e8232b"/>
<circle cx="515.0" cy="76.2" r="2.52" fill="#e8232b"/>
<circle cx="520.4" cy="76.2" r="1.40" fill="#e8232b"/>
<circle cx="525.9" cy="76.2" r="0.6" fill="#9fd6d3"/>
<circle cx="531.3" cy="76.2" r="0.6" fill="#9fd6d3"/>
<circle cx="536.8" cy="76.2" r="0.6" fill="#9fd6d3"/>
<circle cx="542.2" cy="76.2" r="0.6" fill="#9fd6d3"/>
<circle cx="547.6" cy="76.2" r="0.6" fill="#9fd6d3"/>
<circle cx="553.1" cy="76.2" r="0.6" fill="#9fd6d3"/>
<circle cx="558.5" cy="76.2" r="0.6" fill="#9fd6d3"/>
<circle cx="564.0" cy="76.2" r="1.68" fill="#d3cf7a"/>
<circle cx="569.4" cy="76.2" r="1.40" fill="#bababa"/>
<circle cx="574.8" cy="76.2" r="0.6" fill="#9fd6d3"/>
<circle cx="580.3" cy="76.2" r="0.6" fill="#9fd6d3"/>
<circle cx="585.7" cy="76.2" r="0.6" fill="#9fd6d3"/>
<circle cx="591.2" cy="76.2" r="0.6" fill="#9fd6d3"/>
<line x1="374.4" y1="76.2" x2="376.6" y2="76.2" stroke="#444" stroke-width="0.6"/>
<text x="372.5" y="78.7" font-size="7.2" text-anchor="end" fill="#222" font-weight="normal" textLength="20.0" lengthAdjust="spacingAndGlyphs" stroke="#222" stroke-width="0.16" >B cells</text>
<circle cx="379.0" cy="84.7" r="0.6" fill="#9fd6d3"/>
<circle cx="384.4" cy="84.7" r="0.6" fill="#9fd6d3"/>
<circle cx="389.9" cy="84.7" r="1.12" fill="#8ed2cd"/>
<circle cx="395.3" cy="84.7" r="0.6" fill="#9fd6d3"/>
<circle cx="400.8" cy="84.7" r="1.12" fill="#8ed2cd"/>
<circle cx="406.2" cy="84.7" r="1.12" fill="#a9c9c4"/>
<circle cx="411.6" cy="84.7" r="0.6" fill="#9fd6d3"/>
<circle cx="417.1" cy="84.7" r="1.12" fill="#8ed2cd"/>
<circle cx="422.5" cy="84.7" r="0.6" fill="#9fd6d3"/>
<circle cx="428.0" cy="84.7" r="1.12" fill="#8ed2cd"/>
<circle cx="433.4" cy="84.7" r="1.12" fill="#8ed2cd"/>
<circle cx="438.8" cy="84.7" r="1.40" fill="#f3e51f"/>
<circle cx="444.3" cy="84.7" r="0.6" fill="#9fd6d3"/>
<circle cx="449.7" cy="84.7" r="1.12" fill="#8ed2cd"/>
<circle cx="455.2" cy="84.7" r="1.40" fill="#a9c9c4"/>
<circle cx="460.6" cy="84.7" r="0.6" fill="#9fd6d3"/>
<circle cx="466.0" cy="84.7" r="0.6" fill="#9fd6d3"/>
<circle cx="471.5" cy="84.7" r="0.6" fill="#9fd6d3"/>
<circle cx="476.9" cy="84.7" r="0.6" fill="#9fd6d3"/>
<circle cx="482.4" cy="84.7" r="0.6" fill="#9fd6d3"/>
<circle cx="487.8" cy="84.7" r="0.6" fill="#9fd6d3"/>
<circle cx="493.2" cy="84.7" r="1.40" fill="#8ed2cd"/>
<circle cx="498.7" cy="84.7" r="2.80" fill="#e8232b"/>
<circle cx="504.1" cy="84.7" r="1.40" fill="#e8232b"/>
<circle cx="509.6" cy="84.7" r="0.6" fill="#9fd6d3"/>
<circle cx="515.0" cy="84.7" r="0.6" fill="#9fd6d3"/>
<circle cx="520.4" cy="84.7" r="0.6" fill="#9fd6d3"/>
<circle cx="525.9" cy="84.7" r="1.96" fill="#bababa"/>
<circle cx="531.3" cy="84.7" r="1.68" fill="#f3e51f"/>
<circle cx="536.8" cy="84.7" r="0.6" fill="#9fd6d3"/>
<circle cx="542.2" cy="84.7" r="0.6" fill="#9fd6d3"/>
<circle cx="547.6" cy="84.7" r="0.6" fill="#9fd6d3"/>
<circle cx="553.1" cy="84.7" r="0.6" fill="#9fd6d3"/>
<circle cx="558.5" cy="84.7" r="0.6" fill="#9fd6d3"/>
<circle cx="564.0" cy="84.7" r="1.68" fill="#d3cf7a"/>
<circle cx="569.4" cy="84.7" r="0.6" fill="#9fd6d3"/>
<circle cx="574.8" cy="84.7" r="1.12" fill="#8ed2cd"/>
<circle cx="580.3" cy="84.7" r="1.12" fill="#8ed2cd"/>
<circle cx="585.7" cy="84.7" r="1.40" fill="#f3e51f"/>
<circle cx="591.2" cy="84.7" r="0.6" fill="#9fd6d3"/>
<line x1="374.4" y1="84.7" x2="376.6" y2="84.7" stroke="#444" stroke-width="0.6"/>
<text x="371.8" y="87.2" font-size="7.2" text-anchor="end" fill="#222" font-weight="normal" textLength="39.0" lengthAdjust="spacingAndGlyphs" stroke="#222" stroke-width="0.16" >AZU1+blast</text>
<circle cx="379.0" cy="93.3" r="2.80" fill="#e8232b"/>
<circle cx="384.4" cy="93.3" r="2.24" fill="#e8232b"/>
<circle cx="389.9" cy="93.3" r="2.80" fill="#e8232b"/>
<circle cx="395.3" cy="93.3" r="0.6" fill="#9fd6d3"/>
<circle cx="400.8" cy="93.3" r="1.12" fill="#8ed2cd"/>
<circle cx="406.2" cy="93.3" r="0.6" fill="#9fd6d3"/>
<circle cx="411.6" cy="93.3" r="0.6" fill="#9fd6d3"/>
<circle cx="417.1" cy="93.3" r="0.6" fill="#9fd6d3"/>
<circle cx="422.5" cy="93.3" r="0.6" fill="#9fd6d3"/>
<circle cx="428.0" cy="93.3" r="1.40" fill="#a9c9c4"/>
<circle cx="433.4" cy="93.3" r="0.6" fill="#9fd6d3"/>
<circle cx="438.8" cy="93.3" r="0.6" fill="#9fd6d3"/>
<circle cx="444.3" cy="93.3" r="0.6" fill="#9fd6d3"/>
<circle cx="449.7" cy="93.3" r="0.6" fill="#9fd6d3"/>
<circle cx="455.2" cy="93.3" r="0.6" fill="#9fd6d3"/>
<circle cx="460.6" cy="93.3" r="0.6" fill="#9fd6d3"/>
<circle cx="466.0" cy="93.3" r="0.6" fill="#9fd6d3"/>
<circle cx="471.5" cy="93.3" r="0.6" fill="#9fd6d3"/>
<circle cx="476.9" cy="93.3" r="1.12" fill="#8ed2cd"/>
<circle cx="482.4" cy="93.3" r="1.68" fill="#e8232b"/>
<circle cx="487.8" cy="93.3" r="1.96" fill="#e8232b"/>
<circle cx="493.2" cy="93.3" r="2.80" fill="#f06528"/>
<circle cx="498.7" cy="93.3" r="0.6" fill="#9fd6d3"/>
<circle cx="504.1" cy="93.3" r="0.6" fill="#9fd6d3"/>
<circle cx="509.6" cy="93.3" r="0.6" fill="#9fd6d3"/>
<circle cx="515.0" cy="93.3" r="0.6" fill="#9fd6d3"/>
<circle cx="520.4" cy="93.3" r="0.6" fill="#9fd6d3"/>
<circle cx="525.9" cy="93.3" r="1.40" fill="#8ed2cd"/>
<circle cx="531.3" cy="93.3" r="1.12" fill="#bababa"/>
<circle cx="536.8" cy="93.3" r="0.6" fill="#9fd6d3"/>
<circle cx="542.2" cy="93.3" r="0.6" fill="#9fd6d3"/>
<circle cx="547.6" cy="93.3" r="0.6" fill="#9fd6d3"/>
<circle cx="553.1" cy="93.3" r="1.68" fill="#d3cf7a"/>
<circle cx="558.5" cy="93.3" r="0.6" fill="#9fd6d3"/>
<circle cx="564.0" cy="93.3" r="0.6" fill="#9fd6d3"/>
<circle cx="569.4" cy="93.3" r="0.6" fill="#9fd6d3"/>
<circle cx="574.8" cy="93.3" r="0.6" fill="#9fd6d3"/>
<circle cx="580.3" cy="93.3" r="0.6" fill="#9fd6d3"/>
<circle cx="585.7" cy="93.3" r="0.6" fill="#9fd6d3"/>
<circle cx="591.2" cy="93.3" r="0.6" fill="#9fd6d3"/>
<line x1="374.4" y1="93.3" x2="376.6" y2="93.3" stroke="#444" stroke-width="0.6"/>
<text x="371.2" y="95.8" font-size="7.2" text-anchor="end" fill="#222" font-weight="normal" textLength="31.4" lengthAdjust="spacingAndGlyphs" stroke="#222" stroke-width="0.16" >T/NK cells</text>
<circle cx="379.0" cy="101.9" r="2.52" fill="#d3cf7a"/>
<circle cx="384.4" cy="101.9" r="1.68" fill="#d3cf7a"/>
<circle cx="389.9" cy="101.9" r="1.68" fill="#a9c9c4"/>
<circle cx="395.3" cy="101.9" r="0.6" fill="#9fd6d3"/>
<circle cx="400.8" cy="101.9" r="1.12" fill="#8ed2cd"/>
<circle cx="406.2" cy="101.9" r="1.12" fill="#8ed2cd"/>
<circle cx="411.6" cy="101.9" r="0.6" fill="#9fd6d3"/>
<circle cx="417.1" cy="101.9" r="0.6" fill="#9fd6d3"/>
<circle cx="422.5" cy="101.9" r="0.6" fill="#9fd6d3"/>
<circle cx="428.0" cy="101.9" r="1.12" fill="#8ed2cd"/>
<circle cx="433.4" cy="101.9" r="0.6" fill="#9fd6d3"/>
<circle cx="438.8" cy="101.9" r="1.12" fill="#d3cf7a"/>
<circle cx="444.3" cy="101.9" r="0.6" fill="#9fd6d3"/>
<circle cx="449.7" cy="101.9" r="0.6" fill="#9fd6d3"/>
<circle cx="455.2" cy="101.9" r="2.80" fill="#f3e51f"/>
<circle cx="460.6" cy="101.9" r="2.24" fill="#f3e51f"/>
<circle cx="466.0" cy="101.9" r="2.24" fill="#f8961f"/>
<circle cx="471.5" cy="101.9" r="1.96" fill="#e8232b"/>
<circle cx="476.9" cy="101.9" r="2.52" fill="#e8232b"/>
<circle cx="482.4" cy="101.9" r="0.6" fill="#9fd6d3"/>
<circle cx="487.8" cy="101.9" r="0.6" fill="#9fd6d3"/>
<circle cx="493.2" cy="101.9" r="0.6" fill="#9fd6d3"/>
<circle cx="498.7" cy="101.9" r="0.6" fill="#9fd6d3"/>
<circle cx="504.1" cy="101.9" r="0.6" fill="#9fd6d3"/>
<circle cx="509.6" cy="101.9" r="0.6" fill="#9fd6d3"/>
<circle cx="515.0" cy="101.9" r="0.6" fill="#9fd6d3"/>
<circle cx="520.4" cy="101.9" r="0.6" fill="#9fd6d3"/>
<circle cx="525.9" cy="101.9" r="1.68" fill="#8ed2cd"/>
<circle cx="531.3" cy="101.9" r="1.68" fill="#f3e51f"/>
<circle cx="536.8" cy="101.9" r="1.12" fill="#f3e51f"/>
<circle cx="542.2" cy="101.9" r="1.96" fill="#a9c9c4"/>
<circle cx="547.6" cy="101.9" r="0.6" fill="#9fd6d3"/>
<circle cx="553.1" cy="101.9" r="0.6" fill="#9fd6d3"/>
<circle cx="558.5" cy="101.9" r="0.6" fill="#9fd6d3"/>
<circle cx="564.0" cy="101.9" r="0.6" fill="#9fd6d3"/>
<circle cx="569.4" cy="101.9" r="1.12" fill="#8ed2cd"/>
<circle cx="574.8" cy="101.9" r="0.6" fill="#9fd6d3"/>
<circle cx="580.3" cy="101.9" r="1.12" fill="#8ed2cd"/>
<circle cx="585.7" cy="101.9" r="0.6" fill="#9fd6d3"/>
<circle cx="591.2" cy="101.9" r="0.6" fill="#9fd6d3"/>
<line x1="374.4" y1="101.9" x2="376.6" y2="101.9" stroke="#444" stroke-width="0.6"/>
<text x="371.2" y="104.4" font-size="7.2" text-anchor="end" fill="#222" font-weight="normal" textLength="38.7" lengthAdjust="spacingAndGlyphs" stroke="#222" stroke-width="0.16" >CD38+blast</text>
<circle cx="379.0" cy="110.4" r="0.6" fill="#9fd6d3"/>
<circle cx="384.4" cy="110.4" r="0.6" fill="#9fd6d3"/>
<circle cx="389.9" cy="110.4" r="1.12" fill="#8ed2cd"/>
<circle cx="395.3" cy="110.4" r="1.12" fill="#8ed2cd"/>
<circle cx="400.8" cy="110.4" r="1.12" fill="#8ed2cd"/>
<circle cx="406.2" cy="110.4" r="1.12" fill="#8ed2cd"/>
<circle cx="411.6" cy="110.4" r="0.6" fill="#9fd6d3"/>
<circle cx="417.1" cy="110.4" r="1.12" fill="#8ed2cd"/>
<circle cx="422.5" cy="110.4" r="0.6" fill="#9fd6d3"/>
<circle cx="428.0" cy="110.4" r="1.40" fill="#a9c9c4"/>
<circle cx="433.4" cy="110.4" r="0.6" fill="#9fd6d3"/>
<circle cx="438.8" cy="110.4" r="0.6" fill="#9fd6d3"/>
<circle cx="444.3" cy="110.4" r="0.6" fill="#9fd6d3"/>
<circle cx="449.7" cy="110.4" r="1.68" fill="#e8232b"/>
<circle cx="455.2" cy="110.4" r="2.80" fill="#e8232b"/>
<circle cx="460.6" cy="110.4" r="2.24" fill="#e8232b"/>
<circle cx="466.0" cy="110.4" r="2.24" fill="#f8961f"/>
<circle cx="471.5" cy="110.4" r="0.6" fill="#9fd6d3"/>
<circle cx="476.9" cy="110.4" r="1.12" fill="#d3cf7a"/>
<circle cx="482.4" cy="110.4" r="0.6" fill="#9fd6d3"/>
<circle cx="487.8" cy="110.4" r="0.6" fill="#9fd6d3"/>
<circle cx="493.2" cy="110.4" r="0.6" fill="#9fd6d3"/>
<circle cx="498.7" cy="110.4" r="1.68" fill="#f3e51f"/>
<circle cx="504.1" cy="110.4" r="0.6" fill="#9fd6d3"/>
<circle cx="509.6" cy="110.4" r="0.6" fill="#9fd6d3"/>
<circle cx="515.0" cy="110.4" r="0.6" fill="#9fd6d3"/>
<circle cx="520.4" cy="110.4" r="0.84" fill="#f3e51f"/>
<circle cx="525.9" cy="110.4" r="0.6" fill="#9fd6d3"/>
<circle cx="531.3" cy="110.4" r="0.6" fill="#9fd6d3"/>
<circle cx="536.8" cy="110.4" r="0.6" fill="#9fd6d3"/>
<circle cx="542.2" cy="110.4" r="0.6" fill="#9fd6d3"/>
<circle cx="547.6" cy="110.4" r="0.6" fill="#9fd6d3"/>
<circle cx="553.1" cy="110.4" r="0.6" fill="#9fd6d3"/>
<circle cx="558.5" cy="110.4" r="0.6" fill="#9fd6d3"/>
<circle cx="564.0" cy="110.4" r="0.6" fill="#9fd6d3"/>
<circle cx="569.4" cy="110.4" r="0.6" fill="#9fd6d3"/>
<circle cx="574.8" cy="110.4" r="0.6" fill="#9fd6d3"/>
<circle cx="580.3" cy="110.4" r="0.6" fill="#9fd6d3"/>
<circle cx="585.7" cy="110.4" r="0.6" fill="#9fd6d3"/>
<circle cx="591.2" cy="110.4" r="0.6" fill="#9fd6d3"/>
<line x1="374.4" y1="110.4" x2="376.6" y2="110.4" stroke="#444" stroke-width="0.6"/>
<text x="372.3" y="112.9" font-size="7.2" text-anchor="end" fill="#222" font-weight="normal" textLength="36.5" lengthAdjust="spacingAndGlyphs" stroke="#222" stroke-width="0.16" >MPO+blast</text>
<circle cx="379.0" cy="119.0" r="0.6" fill="#9fd6d3"/>
<circle cx="384.4" cy="119.0" r="0.6" fill="#9fd6d3"/>
<circle cx="389.9" cy="119.0" r="0.6" fill="#9fd6d3"/>
<circle cx="395.3" cy="119.0" r="0.6" fill="#9fd6d3"/>
<circle cx="400.8" cy="119.0" r="0.6" fill="#9fd6d3"/>
<circle cx="406.2" cy="119.0" r="0.6" fill="#9fd6d3"/>
<circle cx="411.6" cy="119.0" r="0.6" fill="#9fd6d3"/>
<circle cx="417.1" cy="119.0" r="0.6" fill="#9fd6d3"/>
<circle cx="422.5" cy="119.0" r="0.6" fill="#9fd6d3"/>
<circle cx="428.0" cy="119.0" r="2.80" fill="#e8232b"/>
<circle cx="433.4" cy="119.0" r="2.80" fill="#e8232b"/>
<circle cx="438.8" cy="119.0" r="1.68" fill="#e8232b"/>
<circle cx="444.3" cy="119.0" r="2.24" fill="#e8232b"/>
<circle cx="449.7" cy="119.0" r="0.6" fill="#9fd6d3"/>
<circle cx="455.2" cy="119.0" r="0.6" fill="#9fd6d3"/>
<circle cx="460.6" cy="119.0" r="0.6" fill="#9fd6d3"/>
<circle cx="466.0" cy="119.0" r="0.6" fill="#9fd6d3"/>
<circle cx="471.5" cy="119.0" r="0.6" fill="#9fd6d3"/>
<circle cx="476.9" cy="119.0" r="0.6" fill="#9fd6d3"/>
<circle cx="482.4" cy="119.0" r="0.6" fill="#9fd6d3"/>
<circle cx="487.8" cy="119.0" r="0.6" fill="#9fd6d3"/>
<circle cx="493.2" cy="119.0" r="0.6" fill="#9fd6d3"/>
<circle cx="498.7" cy="119.0" r="0.6" fill="#9fd6d3"/>
<circle cx="504.1" cy="119.0" r="0.6" fill="#9fd6d3"/>
<circle cx="509.6" cy="119.0" r="0.6" fill="#9fd6d3"/>
<circle cx="515.0" cy="119.0" r="0.6" fill="#9fd6d3"/>
<circle cx="520.4" cy="119.0" r="0.6" fill="#9fd6d3"/>
<circle cx="525.9" cy="119.0" r="0.6" fill="#9fd6d3"/>
<circle cx="531.3" cy="119.0" r="0.6" fill="#9fd6d3"/>
<circle cx="536.8" cy="119.0" r="0.6" fill="#9fd6d3"/>
<circle cx="542.2" cy="119.0" r="0.6" fill="#9fd6d3"/>
<circle cx="547.6" cy="119.0" r="0.6" fill="#9fd6d3"/>
<circle cx="553.1" cy="119.0" r="0.6" fill="#9fd6d3"/>
<circle cx="558.5" cy="119.0" r="0.6" fill="#9fd6d3"/>
<circle cx="564.0" cy="119.0" r="0.6" fill="#9fd6d3"/>
<circle cx="569.4" cy="119.0" r="0.6" fill="#9fd6d3"/>
<circle cx="574.8" cy="119.0" r="0.84" fill="#a9c9c4"/>
<circle cx="580.3" cy="119.0" r="0.6" fill="#9fd6d3"/>
<circle cx="585.7" cy="119.0" r="0.6" fill="#9fd6d3"/>
<circle cx="591.2" cy="119.0" r="0.6" fill="#9fd6d3"/>
<line x1="374.4" y1="119.0" x2="376.6" y2="119.0" stroke="#444" stroke-width="0.6"/>
<text x="373.5" y="121.5" font-size="7.2" text-anchor="end" fill="#222" font-weight="normal" textLength="16.0" lengthAdjust="spacingAndGlyphs" stroke="#222" stroke-width="0.16" >Eryth</text>
<circle cx="379.0" cy="127.6" r="0.6" fill="#9fd6d3"/>
<circle cx="384.4" cy="127.6" r="0.6" fill="#9fd6d3"/>
<circle cx="389.9" cy="127.6" r="1.96" fill="#bababa"/>
<circle cx="395.3" cy="127.6" r="2.24" fill="#f8961f"/>
<circle cx="400.8" cy="127.6" r="2.52" fill="#f8961f"/>
<circle cx="406.2" cy="127.6" r="2.24" fill="#d3cf7a"/>
<circle cx="411.6" cy="127.6" r="2.52" fill="#f8961f"/>
<circle cx="417.1" cy="127.6" r="2.52" fill="#f3e51f"/>
<circle cx="422.5" cy="127.6" r="2.24" fill="#f8961f"/>
<circle cx="428.0" cy="127.6" r="1.68" fill="#a9c9c4"/>
<circle cx="433.4" cy="127.6" r="0.6" fill="#9fd6d3"/>
<circle cx="438.8" cy="127.6" r="0.6" fill="#9fd6d3"/>
<circle cx="444.3" cy="127.6" r="0.6" fill="#9fd6d3"/>
<circle cx="449.7" cy="127.6" r="0.6" fill="#9fd6d3"/>
<circle cx="455.2" cy="127.6" r="0.6" fill="#9fd6d3"/>
<circle cx="460.6" cy="127.6" r="0.6" fill="#9fd6d3"/>
<circle cx="466.0" cy="127.6" r="0.6" fill="#9fd6d3"/>
<circle cx="471.5" cy="127.6" r="0.6" fill="#9fd6d3"/>
<circle cx="476.9" cy="127.6" r="0.6" fill="#9fd6d3"/>
<circle cx="482.4" cy="127.6" r="0.6" fill="#9fd6d3"/>
<circle cx="487.8" cy="127.6" r="0.6" fill="#9fd6d3"/>
<circle cx="493.2" cy="127.6" r="1.12" fill="#8ed2cd"/>
<circle cx="498.7" cy="127.6" r="0.6" fill="#9fd6d3"/>
<circle cx="504.1" cy="127.6" r="1.12" fill="#8ed2cd"/>
<circle cx="509.6" cy="127.6" r="0.6" fill="#9fd6d3"/>
<circle cx="515.0" cy="127.6" r="0.6" fill="#9fd6d3"/>
<circle cx="520.4" cy="127.6" r="0.6" fill="#9fd6d3"/>
<circle cx="525.9" cy="127.6" r="2.52" fill="#d3cf7a"/>
<circle cx="531.3" cy="127.6" r="1.96" fill="#f3e51f"/>
<circle cx="536.8" cy="127.6" r="1.40" fill="#f3e51f"/>
<circle cx="542.2" cy="127.6" r="0.6" fill="#9fd6d3"/>
<circle cx="547.6" cy="127.6" r="0.6" fill="#9fd6d3"/>
<circle cx="553.1" cy="127.6" r="0.6" fill="#9fd6d3"/>
<circle cx="558.5" cy="127.6" r="0.6" fill="#9fd6d3"/>
<circle cx="564.0" cy="127.6" r="1.12" fill="#8ed2cd"/>
<circle cx="569.4" cy="127.6" r="0.6" fill="#9fd6d3"/>
<circle cx="574.8" cy="127.6" r="1.68" fill="#f3e51f"/>
<circle cx="580.3" cy="127.6" r="1.12" fill="#8ed2cd"/>
<circle cx="585.7" cy="127.6" r="1.12" fill="#bababa"/>
<circle cx="591.2" cy="127.6" r="1.12" fill="#bababa"/>
<line x1="374.4" y1="127.6" x2="376.6" y2="127.6" stroke="#444" stroke-width="0.6"/>
<text x="373.5" y="130.1" font-size="7.2" text-anchor="end" fill="#222" font-weight="normal" textLength="16.8" lengthAdjust="spacingAndGlyphs" stroke="#222" stroke-width="0.16" >Mono</text>
<circle cx="379.0" cy="136.1" r="0.6" fill="#9fd6d3"/>
<circle cx="384.4" cy="136.1" r="0.6" fill="#9fd6d3"/>
<circle cx="389.9" cy="136.1" r="1.96" fill="#d3cf7a"/>
<circle cx="395.3" cy="136.1" r="1.96" fill="#f8961f"/>
<circle cx="400.8" cy="136.1" r="2.24" fill="#f9c41b"/>
<circle cx="406.2" cy="136.1" r="2.52" fill="#f9c41b"/>
<circle cx="411.6" cy="136.1" r="2.52" fill="#f06528"/>
<circle cx="417.1" cy="136.1" r="2.52" fill="#f06528"/>
<circle cx="422.5" cy="136.1" r="2.24" fill="#e8232b"/>
<circle cx="428.0" cy="136.1" r="1.40" fill="#8ed2cd"/>
<circle cx="433.4" cy="136.1" r="0.6" fill="#9fd6d3"/>
<circle cx="438.8" cy="136.1" r="0.6" fill="#9fd6d3"/>
<circle cx="444.3" cy="136.1" r="0.6" fill="#9fd6d3"/>
<circle cx="449.7" cy="136.1" r="0.6" fill="#9fd6d3"/>
<circle cx="455.2" cy="136.1" r="0.6" fill="#9fd6d3"/>
<circle cx="460.6" cy="136.1" r="0.6" fill="#9fd6d3"/>
<circle cx="466.0" cy="136.1" r="0.6" fill="#9fd6d3"/>
<circle cx="471.5" cy="136.1" r="0.6" fill="#9fd6d3"/>
<circle cx="476.9" cy="136.1" r="0.6" fill="#9fd6d3"/>
<circle cx="482.4" cy="136.1" r="0.6" fill="#9fd6d3"/>
<circle cx="487.8" cy="136.1" r="0.6" fill="#9fd6d3"/>
<circle cx="493.2" cy="136.1" r="1.68" fill="#a9c9c4"/>
<circle cx="498.7" cy="136.1" r="0.6" fill="#9fd6d3"/>
<circle cx="504.1" cy="136.1" r="0.6" fill="#9fd6d3"/>
<circle cx="509.6" cy="136.1" r="0.6" fill="#9fd6d3"/>
<circle cx="515.0" cy="136.1" r="0.6" fill="#9fd6d3"/>
<circle cx="520.4" cy="136.1" r="0.6" fill="#9fd6d3"/>
<circle cx="525.9" cy="136.1" r="2.52" fill="#d3cf7a"/>
<circle cx="531.3" cy="136.1" r="1.96" fill="#f3e51f"/>
<circle cx="536.8" cy="136.1" r="1.68" fill="#f3e51f"/>
<circle cx="542.2" cy="136.1" r="0.6" fill="#9fd6d3"/>
<circle cx="547.6" cy="136.1" r="0.6" fill="#9fd6d3"/>
<circle cx="553.1" cy="136.1" r="0.6" fill="#9fd6d3"/>
<circle cx="558.5" cy="136.1" r="0.6" fill="#9fd6d3"/>
<circle cx="564.0" cy="136.1" r="1.68" fill="#a9c9c4"/>
<circle cx="569.4" cy="136.1" r="0.6" fill="#9fd6d3"/>
<circle cx="574.8" cy="136.1" r="1.68" fill="#f3e51f"/>
<circle cx="580.3" cy="136.1" r="1.40" fill="#8ed2cd"/>
<circle cx="585.7" cy="136.1" r="1.68" fill="#f3e51f"/>
<circle cx="591.2" cy="136.1" r="1.12" fill="#d3cf7a"/>
<line x1="374.4" y1="136.1" x2="376.6" y2="136.1" stroke="#444" stroke-width="0.6"/>
<text x="373.5" y="138.6" font-size="7.2" text-anchor="end" fill="#222" font-weight="normal" textLength="36.5" lengthAdjust="spacingAndGlyphs" stroke="#222" stroke-width="0.16" >Mono/ mac</text>
<circle cx="379.0" cy="144.7" r="2.52" fill="#e3de3c"/>
<circle cx="384.4" cy="144.7" r="2.24" fill="#f06528"/>
<circle cx="389.9" cy="144.7" r="2.52" fill="#f3e51f"/>
<circle cx="395.3" cy="144.7" r="0.6" fill="#9fd6d3"/>
<circle cx="400.8" cy="144.7" r="0.6" fill="#9fd6d3"/>
<circle cx="406.2" cy="144.7" r="0.6" fill="#9fd6d3"/>
<circle cx="411.6" cy="144.7" r="0.6" fill="#9fd6d3"/>
<circle cx="417.1" cy="144.7" r="0.6" fill="#9fd6d3"/>
<circle cx="422.5" cy="144.7" r="0.6" fill="#9fd6d3"/>
<circle cx="428.0" cy="144.7" r="1.12" fill="#8ed2cd"/>
<circle cx="433.4" cy="144.7" r="0.6" fill="#9fd6d3"/>
<circle cx="438.8" cy="144.7" r="0.6" fill="#9fd6d3"/>
<circle cx="444.3" cy="144.7" r="0.6" fill="#9fd6d3"/>
<circle cx="449.7" cy="144.7" r="0.6" fill="#9fd6d3"/>
<circle cx="455.2" cy="144.7" r="0.6" fill="#9fd6d3"/>
<circle cx="460.6" cy="144.7" r="0.6" fill="#9fd6d3"/>
<circle cx="466.0" cy="144.7" r="0.6" fill="#9fd6d3"/>
<circle cx="471.5" cy="144.7" r="0.6" fill="#9fd6d3"/>
<circle cx="476.9" cy="144.7" r="0.6" fill="#9fd6d3"/>
<circle cx="482.4" cy="144.7" r="0.6" fill="#9fd6d3"/>
<circle cx="487.8" cy="144.7" r="0.6" fill="#9fd6d3"/>
<circle cx="493.2" cy="144.7" r="0.6" fill="#9fd6d3"/>
<circle cx="498.7" cy="144.7" r="0.6" fill="#9fd6d3"/>
<circle cx="504.1" cy="144.7" r="0.6" fill="#9fd6d3"/>
<circle cx="509.6" cy="144.7" r="0.6" fill="#9fd6d3"/>
<circle cx="515.0" cy="144.7" r="0.6" fill="#9fd6d3"/>
<circle cx="520.4" cy="144.7" r="0.6" fill="#9fd6d3"/>
<circle cx="525.9" cy="144.7" r="0.6" fill="#9fd6d3"/>
<circle cx="531.3" cy="144.7" r="0.6" fill="#9fd6d3"/>
<circle cx="536.8" cy="144.7" r="0.6" fill="#9fd6d3"/>
<circle cx="542.2" cy="144.7" r="0.6" fill="#9fd6d3"/>
<circle cx="547.6" cy="144.7" r="0.6" fill="#9fd6d3"/>
<circle cx="553.1" cy="144.7" r="0.6" fill="#9fd6d3"/>
<circle cx="558.5" cy="144.7" r="0.6" fill="#9fd6d3"/>
<circle cx="564.0" cy="144.7" r="0.6" fill="#9fd6d3"/>
<circle cx="569.4" cy="144.7" r="0.6" fill="#9fd6d3"/>
<circle cx="574.8" cy="144.7" r="0.6" fill="#9fd6d3"/>
<circle cx="580.3" cy="144.7" r="0.6" fill="#9fd6d3"/>
<circle cx="585.7" cy="144.7" r="1.12" fill="#bababa"/>
<circle cx="591.2" cy="144.7" r="0.6" fill="#9fd6d3"/>
<line x1="374.4" y1="144.7" x2="376.6" y2="144.7" stroke="#444" stroke-width="0.6"/>
<text x="372.3" y="147.2" font-size="7.2" text-anchor="end" fill="#222" font-weight="normal" textLength="19.0" lengthAdjust="spacingAndGlyphs" stroke="#222" stroke-width="0.16" >T cells</text>
<line x1="376.6" y1="28.2" x2="376.6" y2="150.5" stroke="#555" stroke-width="0.9"/>
<line x1="376.2" y1="150.1" x2="594.2" y2="150.1" stroke="#555" stroke-width="0.9"/>
<line x1="379.0" y1="150.1" x2="379.0" y2="151.7" stroke="#555" stroke-width="0.6"/>
<text x="381.0" y="154.5" font-size="5.6" text-anchor="end" fill="#4a4a4a" font-weight="normal" transform="rotate(-90 381.0 154.5)" stroke="#4a4a4a" stroke-width="0.06" >IL32</text>
<line x1="384.4" y1="150.1" x2="384.4" y2="151.7" stroke="#555" stroke-width="0.6"/>
<text x="386.4" y="154.5" font-size="5.6" text-anchor="end" fill="#4a4a4a" font-weight="normal" transform="rotate(-90 386.4 154.5)" stroke="#4a4a4a" stroke-width="0.06" >CD3D</text>
<line x1="389.9" y1="150.1" x2="389.9" y2="151.7" stroke="#555" stroke-width="0.6"/>
<text x="391.9" y="154.5" font-size="5.6" text-anchor="end" fill="#4a4a4a" font-weight="normal" transform="rotate(-90 391.9 154.5)" stroke="#4a4a4a" stroke-width="0.06" >PTPRC</text>
<line x1="395.3" y1="150.1" x2="395.3" y2="151.7" stroke="#555" stroke-width="0.6"/>
<text x="397.3" y="154.5" font-size="5.6" text-anchor="end" fill="#4a4a4a" font-weight="normal" transform="rotate(-90 397.3 154.5)" stroke="#4a4a4a" stroke-width="0.06" >MNDA</text>
<line x1="400.8" y1="150.1" x2="400.8" y2="151.7" stroke="#555" stroke-width="0.6"/>
<text x="402.8" y="154.5" font-size="5.6" text-anchor="end" fill="#4a4a4a" font-weight="normal" transform="rotate(-90 402.8 154.5)" stroke="#4a4a4a" stroke-width="0.06" >CEBPD</text>
<line x1="406.2" y1="150.1" x2="406.2" y2="151.7" stroke="#555" stroke-width="0.6"/>
<text x="408.2" y="154.5" font-size="5.6" text-anchor="end" fill="#4a4a4a" font-weight="normal" transform="rotate(-90 408.2 154.5)" stroke="#4a4a4a" stroke-width="0.06" >CD68</text>
<line x1="411.6" y1="150.1" x2="411.6" y2="151.7" stroke="#555" stroke-width="0.6"/>
<text x="413.6" y="154.5" font-size="5.6" text-anchor="end" fill="#4a4a4a" font-weight="normal" transform="rotate(-90 413.6 154.5)" stroke="#4a4a4a" stroke-width="0.06" >FCN1</text>
<line x1="417.1" y1="150.1" x2="417.1" y2="151.7" stroke="#555" stroke-width="0.6"/>
<text x="419.1" y="154.5" font-size="5.6" text-anchor="end" fill="#4a4a4a" font-weight="normal" transform="rotate(-90 419.1 154.5)" stroke="#4a4a4a" stroke-width="0.06" >FCER1G</text>
<line x1="422.5" y1="150.1" x2="422.5" y2="151.7" stroke="#555" stroke-width="0.6"/>
<text x="424.5" y="154.5" font-size="5.6" text-anchor="end" fill="#4a4a4a" font-weight="normal" transform="rotate(-90 424.5 154.5)" stroke="#4a4a4a" stroke-width="0.06" >CD14</text>
<line x1="428.0" y1="150.1" x2="428.0" y2="151.7" stroke="#555" stroke-width="0.6"/>
<text x="430.0" y="154.5" font-size="5.6" text-anchor="end" fill="#4a4a4a" font-weight="normal" transform="rotate(-90 430.0 154.5)" stroke="#4a4a4a" stroke-width="0.06" >HBB</text>
<line x1="433.4" y1="150.1" x2="433.4" y2="151.7" stroke="#555" stroke-width="0.6"/>
<text x="435.4" y="154.5" font-size="5.6" text-anchor="end" fill="#4a4a4a" font-weight="normal" transform="rotate(-90 435.4 154.5)" stroke="#4a4a4a" stroke-width="0.06" >SNCA</text>
<line x1="438.8" y1="150.1" x2="438.8" y2="151.7" stroke="#555" stroke-width="0.6"/>
<text x="440.8" y="154.5" font-size="5.6" text-anchor="end" fill="#4a4a4a" font-weight="normal" transform="rotate(-90 440.8 154.5)" stroke="#4a4a4a" stroke-width="0.06" >TFRC</text>
<line x1="444.3" y1="150.1" x2="444.3" y2="151.7" stroke="#555" stroke-width="0.6"/>
<text x="446.3" y="154.5" font-size="5.6" text-anchor="end" fill="#4a4a4a" font-weight="normal" transform="rotate(-90 446.3 154.5)" stroke="#4a4a4a" stroke-width="0.06" >GYPA</text>
<line x1="449.7" y1="150.1" x2="449.7" y2="151.7" stroke="#555" stroke-width="0.6"/>
<text x="451.7" y="154.5" font-size="5.6" text-anchor="end" fill="#4a4a4a" font-weight="normal" transform="rotate(-90 451.7 154.5)" stroke="#4a4a4a" stroke-width="0.06" >ELANE</text>
<line x1="455.2" y1="150.1" x2="455.2" y2="151.7" stroke="#555" stroke-width="0.6"/>
<text x="457.2" y="154.5" font-size="5.6" text-anchor="end" fill="#4a4a4a" font-weight="normal" transform="rotate(-90 457.2 154.5)" stroke="#4a4a4a" stroke-width="0.06" >MPO</text>
<line x1="460.6" y1="150.1" x2="460.6" y2="151.7" stroke="#555" stroke-width="0.6"/>
<text x="462.6" y="154.5" font-size="5.6" text-anchor="end" fill="#4a4a4a" font-weight="normal" transform="rotate(-90 462.6 154.5)" stroke="#4a4a4a" stroke-width="0.06" >CD34</text>
<line x1="466.0" y1="150.1" x2="466.0" y2="151.7" stroke="#555" stroke-width="0.6"/>
<text x="468.0" y="154.5" font-size="5.6" text-anchor="end" fill="#4a4a4a" font-weight="normal" transform="rotate(-90 468.0 154.5)" stroke="#4a4a4a" stroke-width="0.06" >EGFL7</text>
<line x1="471.5" y1="150.1" x2="471.5" y2="151.7" stroke="#555" stroke-width="0.6"/>
<text x="473.5" y="154.5" font-size="5.6" text-anchor="end" fill="#4a4a4a" font-weight="normal" transform="rotate(-90 473.5 154.5)" stroke="#4a4a4a" stroke-width="0.06" >MSI2</text>
<line x1="476.9" y1="150.1" x2="476.9" y2="151.7" stroke="#555" stroke-width="0.6"/>
<text x="478.9" y="154.5" font-size="5.6" text-anchor="end" fill="#4a4a4a" font-weight="normal" transform="rotate(-90 478.9 154.5)" stroke="#4a4a4a" stroke-width="0.06" >CD38</text>
<line x1="482.4" y1="150.1" x2="482.4" y2="151.7" stroke="#555" stroke-width="0.6"/>
<text x="484.4" y="154.5" font-size="5.6" text-anchor="end" fill="#4a4a4a" font-weight="normal" transform="rotate(-90 484.4 154.5)" stroke="#4a4a4a" stroke-width="0.06" >KLRD1</text>
<line x1="487.8" y1="150.1" x2="487.8" y2="151.7" stroke="#555" stroke-width="0.6"/>
<text x="489.8" y="154.5" font-size="5.6" text-anchor="end" fill="#4a4a4a" font-weight="normal" transform="rotate(-90 489.8 154.5)" stroke="#4a4a4a" stroke-width="0.06" >KLRB1</text>
<line x1="493.2" y1="150.1" x2="493.2" y2="151.7" stroke="#555" stroke-width="0.6"/>
<text x="495.2" y="154.5" font-size="5.6" text-anchor="end" fill="#4a4a4a" font-weight="normal" transform="rotate(-90 495.2 154.5)" stroke="#4a4a4a" stroke-width="0.06" >CCL5</text>
<line x1="498.7" y1="150.1" x2="498.7" y2="151.7" stroke="#555" stroke-width="0.6"/>
<text x="500.7" y="154.5" font-size="5.6" text-anchor="end" fill="#4a4a4a" font-weight="normal" transform="rotate(-90 500.7 154.5)" stroke="#4a4a4a" stroke-width="0.06" >AZU1</text>
<line x1="504.1" y1="150.1" x2="504.1" y2="151.7" stroke="#555" stroke-width="0.6"/>
<text x="506.1" y="154.5" font-size="5.6" text-anchor="end" fill="#4a4a4a" font-weight="normal" transform="rotate(-90 506.1 154.5)" stroke="#4a4a4a" stroke-width="0.06" >CTSG</text>
<line x1="509.6" y1="150.1" x2="509.6" y2="151.7" stroke="#555" stroke-width="0.6"/>
<text x="511.6" y="154.5" font-size="5.6" text-anchor="end" fill="#4a4a4a" font-weight="normal" transform="rotate(-90 511.6 154.5)" stroke="#4a4a4a" stroke-width="0.06" >CD79A</text>
<line x1="515.0" y1="150.1" x2="515.0" y2="151.7" stroke="#555" stroke-width="0.6"/>
<text x="517.0" y="154.5" font-size="5.6" text-anchor="end" fill="#4a4a4a" font-weight="normal" transform="rotate(-90 517.0 154.5)" stroke="#4a4a4a" stroke-width="0.06" >MS4A1</text>
<line x1="520.4" y1="150.1" x2="520.4" y2="151.7" stroke="#555" stroke-width="0.6"/>
<text x="522.4" y="154.5" font-size="5.6" text-anchor="end" fill="#4a4a4a" font-weight="normal" transform="rotate(-90 522.4 154.5)" stroke="#4a4a4a" stroke-width="0.06" >CD19</text>
<line x1="525.9" y1="150.1" x2="525.9" y2="151.7" stroke="#555" stroke-width="0.6"/>
<text x="527.9" y="154.5" font-size="5.6" text-anchor="end" fill="#4a4a4a" font-weight="normal" transform="rotate(-90 527.9 154.5)" stroke="#4a4a4a" stroke-width="0.06" >CD63</text>
<line x1="531.3" y1="150.1" x2="531.3" y2="151.7" stroke="#555" stroke-width="0.6"/>
<text x="533.3" y="154.5" font-size="5.6" text-anchor="end" fill="#4a4a4a" font-weight="normal" transform="rotate(-90 533.3 154.5)" stroke="#4a4a4a" stroke-width="0.06" >LYST</text>
<line x1="536.8" y1="150.1" x2="536.8" y2="151.7" stroke="#555" stroke-width="0.6"/>
<text x="538.8" y="154.5" font-size="5.6" text-anchor="end" fill="#4a4a4a" font-weight="normal" transform="rotate(-90 538.8 154.5)" stroke="#4a4a4a" stroke-width="0.06" >CD33</text>
<line x1="542.2" y1="150.1" x2="542.2" y2="151.7" stroke="#555" stroke-width="0.6"/>
<text x="544.2" y="154.5" font-size="5.6" text-anchor="end" fill="#4a4a4a" font-weight="normal" transform="rotate(-90 544.2 154.5)" stroke="#4a4a4a" stroke-width="0.06" >MZB1</text>
<line x1="547.6" y1="150.1" x2="547.6" y2="151.7" stroke="#555" stroke-width="0.6"/>
<text x="549.6" y="154.5" font-size="5.6" text-anchor="end" fill="#4a4a4a" font-weight="normal" transform="rotate(-90 549.6 154.5)" stroke="#4a4a4a" stroke-width="0.06" >JCHAIN</text>
<line x1="553.1" y1="150.1" x2="553.1" y2="151.7" stroke="#555" stroke-width="0.6"/>
<text x="555.1" y="154.5" font-size="5.6" text-anchor="end" fill="#4a4a4a" font-weight="normal" transform="rotate(-90 555.1 154.5)" stroke="#4a4a4a" stroke-width="0.06" >GZMB</text>
<line x1="558.5" y1="150.1" x2="558.5" y2="151.7" stroke="#555" stroke-width="0.6"/>
<text x="560.5" y="154.5" font-size="5.6" text-anchor="end" fill="#4a4a4a" font-weight="normal" transform="rotate(-90 560.5 154.5)" stroke="#4a4a4a" stroke-width="0.06" >IL3RA</text>
<line x1="564.0" y1="150.1" x2="564.0" y2="151.7" stroke="#555" stroke-width="0.6"/>
<text x="566.0" y="154.5" font-size="5.6" text-anchor="end" fill="#4a4a4a" font-weight="normal" transform="rotate(-90 566.0 154.5)" stroke="#4a4a4a" stroke-width="0.06" >IRF8</text>
<line x1="569.4" y1="150.1" x2="569.4" y2="151.7" stroke="#555" stroke-width="0.6"/>
<text x="571.4" y="154.5" font-size="5.6" text-anchor="end" fill="#4a4a4a" font-weight="normal" transform="rotate(-90 571.4 154.5)" stroke="#4a4a4a" stroke-width="0.06" >TCF4</text>
<line x1="574.8" y1="150.1" x2="574.8" y2="151.7" stroke="#555" stroke-width="0.6"/>
<text x="576.8" y="154.5" font-size="5.6" text-anchor="end" fill="#4a4a4a" font-weight="normal" transform="rotate(-90 576.8 154.5)" stroke="#4a4a4a" stroke-width="0.06" >MIR22HG</text>
<line x1="580.3" y1="150.1" x2="580.3" y2="151.7" stroke="#555" stroke-width="0.6"/>
<text x="582.3" y="154.5" font-size="5.6" text-anchor="end" fill="#4a4a4a" font-weight="normal" transform="rotate(-90 582.3 154.5)" stroke="#4a4a4a" stroke-width="0.06" >EGR1</text>
<line x1="585.7" y1="150.1" x2="585.7" y2="151.7" stroke="#555" stroke-width="0.6"/>
<text x="587.7" y="154.5" font-size="5.6" text-anchor="end" fill="#4a4a4a" font-weight="normal" transform="rotate(-90 587.7 154.5)" stroke="#4a4a4a" stroke-width="0.06" >CD4</text>
<line x1="591.2" y1="150.1" x2="591.2" y2="151.7" stroke="#555" stroke-width="0.6"/>
<text x="593.2" y="154.5" font-size="5.6" text-anchor="end" fill="#4a4a4a" font-weight="normal" transform="rotate(-90 593.2 154.5)" stroke="#4a4a4a" stroke-width="0.06" >NRP1</text>
<text x="600.0" y="45.5" font-size="6.6" text-anchor="start" fill="#222" font-weight="normal" textLength="18.7" lengthAdjust="spacingAndGlyphs" stroke="#222" stroke-width="0.15" >Percent</text>
<text x="600.0" y="53.0" font-size="6.6" text-anchor="start" fill="#222" font-weight="normal" textLength="24.9" lengthAdjust="spacingAndGlyphs" stroke="#222" stroke-width="0.15" >Expressed</text>
<circle cx="603.3" cy="58.7" r="0.50" fill="#111"/>
<text x="609.5" y="60.7" font-size="5.6" text-anchor="start" fill="#222" font-weight="normal" stroke="#222" stroke-width="0.13" >0</text>
<circle cx="603.3" cy="65.6" r="1.00" fill="#111"/>
<text x="609.5" y="67.6" font-size="5.6" text-anchor="start" fill="#222" font-weight="normal" stroke="#222" stroke-width="0.13" >25</text>
<circle cx="603.3" cy="72.3" r="1.50" fill="#111"/>
<text x="609.5" y="74.3" font-size="5.6" text-anchor="start" fill="#222" font-weight="normal" stroke="#222" stroke-width="0.13" >50</text>
<circle cx="603.3" cy="79.4" r="2.30" fill="#111"/>
<text x="609.5" y="81.4" font-size="5.6" text-anchor="start" fill="#222" font-weight="normal" stroke="#222" stroke-width="0.13" >75</text>
<defs><linearGradient id="gb" x1="0" y1="0" x2="0" y2="1"><stop offset="0" stop-color="#e8302a"/><stop offset="0.13" stop-color="#f47a20"/><stop offset="0.3" stop-color="#f5e21c"/><stop offset="0.45" stop-color="#ece82e"/><stop offset="0.6" stop-color="#cfc970"/><stop offset="0.72" stop-color="#bbb9b4"/><stop offset="0.86" stop-color="#a0d2d2"/><stop offset="1" stop-color="#84d4d8"/></linearGradient></defs>
<rect x="600.1" y="97.8" width="5.8" height="34" fill="url(#gb)"/>
<text x="610.0" y="105.0" font-size="6" text-anchor="start" fill="#222" font-weight="normal" stroke="#222" stroke-width="0.14" >2</text>
<text x="610.0" y="114.7" font-size="6" text-anchor="start" fill="#222" font-weight="normal" stroke="#222" stroke-width="0.14" >1</text>
<text x="610.0" y="124.2" font-size="6" text-anchor="start" fill="#222" font-weight="normal" stroke="#222" stroke-width="0.14" >0</text>
<text x="610.0" y="133.6" font-size="6" text-anchor="start" fill="#222" font-weight="normal" stroke="#222" stroke-width="0.14" >−1</text>
<text x="601.2" y="140.3" font-size="6.6" text-anchor="start" fill="#222" font-weight="normal" textLength="13.9" lengthAdjust="spacingAndGlyphs" stroke="#222" stroke-width="0.15" >Gene</text>
<text x="601.2" y="147.9" font-size="6.6" text-anchor="start" fill="#222" font-weight="normal" textLength="28.1" lengthAdjust="spacingAndGlyphs" stroke="#222" stroke-width="0.15" >Expression</text>
<text x="302.2" y="16.9" font-size="15.2" font-weight="bold" fill="#111" stroke="#111" stroke-width="0.45">b</text><rect x="313.1" y="13.6" width="2.9" height="3.3" fill="#111"/>
<rect x="96.2" y="248.7" width="182.2" height="177.8" fill="#ebebeb"/>
<line x1="104.2" y1="248.7" x2="104.2" y2="426.5" stroke="#fff" stroke-width="0.9"/>
<line x1="145.8" y1="248.7" x2="145.8" y2="426.5" stroke="#fff" stroke-width="0.9"/>
<line x1="187.4" y1="248.7" x2="187.4" y2="426.5" stroke="#fff" stroke-width="0.9"/>
<line x1="229.1" y1="248.7" x2="229.1" y2="426.5" stroke="#fff" stroke-width="0.9"/>
<line x1="270.7" y1="248.7" x2="270.7" y2="426.5" stroke="#fff" stroke-width="0.9"/>
<line x1="125.0" y1="248.7" x2="125.0" y2="426.5" stroke="#f5f5f5" stroke-width="0.4"/>
<line x1="166.6" y1="248.7" x2="166.6" y2="426.5" stroke="#f5f5f5" stroke-width="0.4"/>
<line x1="208.3" y1="248.7" x2="208.3" y2="426.5" stroke="#f5f5f5" stroke-width="0.4"/>
<line x1="249.9" y1="248.7" x2="249.9" y2="426.5" stroke="#f5f5f5" stroke-width="0.4"/>
<line x1="96.2" y1="256.1" x2="278.4" y2="256.1" stroke="#fff" stroke-width="0.9"/>
<rect x="104.20" y="250.45" width="3.55" height="11.30" fill="#a0dce7"/>
<rect x="107.70" y="250.45" width="2.21" height="11.30" fill="#67ccb8"/>
<rect x="109.86" y="250.45" width="2.21" height="11.30" fill="#dc1839"/>
<rect x="112.03" y="250.45" width="77.81" height="11.30" fill="#cc4456"/>
<rect x="189.78" y="250.45" width="80.97" height="11.30" fill="#f0636d"/>
<line x1="104.2" y1="262.2" x2="270.7" y2="262.2" stroke="#f4f4f4" stroke-width="0.7"/>
<line x1="94.2" y1="256.1" x2="95.8" y2="256.1" stroke="#444" stroke-width="0.6"/>
<text x="93.7" y="259.1" font-size="8.6" text-anchor="end" fill="#f0606a" font-weight="normal" textLength="44.0" lengthAdjust="spacingAndGlyphs" stroke="#f0606a" stroke-width="0.19" >AZU1+blast</text>
<line x1="96.2" y1="268.6" x2="278.4" y2="268.6" stroke="#fff" stroke-width="0.9"/>
<rect x="104.20" y="262.94" width="2.71" height="11.30" fill="#a0dce7"/>
<rect x="106.86" y="262.94" width="2.38" height="11.30" fill="#b3e3e3"/>
<rect x="109.20" y="262.94" width="161.06" height="11.30" fill="#dc1839"/>
<rect x="270.20" y="262.94" width="0.55" height="11.30" fill="#f48e6a"/>
<line x1="104.2" y1="274.7" x2="270.7" y2="274.7" stroke="#f4f4f4" stroke-width="0.7"/>
<line x1="94.2" y1="268.6" x2="95.8" y2="268.6" stroke="#444" stroke-width="0.6"/>
<text x="93.7" y="271.6" font-size="8.6" text-anchor="end" fill="#f0606a" font-weight="normal" textLength="44.0" lengthAdjust="spacingAndGlyphs" stroke="#f0606a" stroke-width="0.19" >CD38+blast</text>
<line x1="96.2" y1="281.1" x2="278.4" y2="281.1" stroke="#fff" stroke-width="0.9"/>
<rect x="104.20" y="275.43" width="7.71" height="11.30" fill="#b3e3e3"/>
<rect x="111.86" y="275.43" width="7.04" height="11.30" fill="#67ccb8"/>
<rect x="118.85" y="275.43" width="0.72" height="11.30" fill="#dc1839"/>
<rect x="119.52" y="275.43" width="151.23" height="11.30" fill="#f48e6a"/>
<line x1="104.2" y1="287.2" x2="270.7" y2="287.2" stroke="#f4f4f4" stroke-width="0.7"/>
<line x1="94.2" y1="281.1" x2="95.8" y2="281.1" stroke="#444" stroke-width="0.6"/>
<text x="93.7" y="284.1" font-size="8.6" text-anchor="end" fill="#f0606a" font-weight="normal" textLength="42.0" lengthAdjust="spacingAndGlyphs" stroke="#f0606a" stroke-width="0.19" >MPO+blast</text>
<line x1="96.2" y1="293.6" x2="278.4" y2="293.6" stroke="#fff" stroke-width="0.9"/>
<rect x="104.20" y="287.92" width="19.03" height="11.30" fill="#a0dce7"/>
<rect x="123.18" y="287.92" width="5.71" height="11.30" fill="#96c6d7"/>
<rect x="128.84" y="287.92" width="123.59" height="11.30" fill="#b3e3e3"/>
<rect x="252.38" y="287.92" width="18.36" height="11.30" fill="#cc4456"/>
<line x1="104.2" y1="299.7" x2="270.7" y2="299.7" stroke="#f4f4f4" stroke-width="0.7"/>
<line x1="94.2" y1="293.6" x2="95.8" y2="293.6" stroke="#444" stroke-width="0.6"/>
<text x="93.7" y="296.6" font-size="8.6" text-anchor="end" fill="#3dbdc2" font-weight="normal" textLength="65.4" lengthAdjust="spacingAndGlyphs" stroke="#3dbdc2" stroke-width="0.19" >pDC/ bone stromal</text>
<line x1="96.2" y1="306.1" x2="278.4" y2="306.1" stroke="#fff" stroke-width="0.9"/>
<rect x="104.20" y="300.41" width="118.27" height="11.30" fill="#a0dce7"/>
<rect x="222.42" y="300.41" width="7.71" height="11.30" fill="#96c6d7"/>
<rect x="230.07" y="300.41" width="8.87" height="11.30" fill="#b3e3e3"/>
<rect x="238.90" y="300.41" width="30.52" height="11.30" fill="#67ccb8"/>
<rect x="269.37" y="300.41" width="1.38" height="11.30" fill="#dc1839"/>
<line x1="104.2" y1="312.2" x2="270.7" y2="312.2" stroke="#f4f4f4" stroke-width="0.7"/>
<line x1="94.2" y1="306.1" x2="95.8" y2="306.1" stroke="#444" stroke-width="0.6"/>
<text x="93.7" y="309.1" font-size="8.6" text-anchor="end" fill="#3dbdc2" font-weight="normal" textLength="39.1" lengthAdjust="spacingAndGlyphs" stroke="#3dbdc2" stroke-width="0.19" >Neutrophils</text>
<line x1="96.2" y1="318.6" x2="278.4" y2="318.6" stroke="#fff" stroke-width="0.9"/>
<rect x="104.20" y="312.90" width="19.70" height="11.30" fill="#a0dce7"/>
<rect x="123.85" y="312.90" width="119.10" height="11.30" fill="#b3e3e3"/>
<rect x="242.89" y="312.90" width="26.36" height="11.30" fill="#67ccb8"/>
<rect x="269.20" y="312.90" width="1.55" height="11.30" fill="#dc1839"/>
<line x1="104.2" y1="324.7" x2="270.7" y2="324.7" stroke="#f4f4f4" stroke-width="0.7"/>
<line x1="94.2" y1="318.6" x2="95.8" y2="318.6" stroke="#444" stroke-width="0.6"/>
<text x="93.7" y="321.6" font-size="8.6" text-anchor="end" fill="#3dbdc2" font-weight="normal" textLength="15.0" lengthAdjust="spacingAndGlyphs" stroke="#3dbdc2" stroke-width="0.19" >pDC</text>
<line x1="96.2" y1="331.0" x2="278.4" y2="331.0" stroke="#fff" stroke-width="0.9"/>
<rect x="104.20" y="325.39" width="10.87" height="11.30" fill="#a0dce7"/>
<rect x="115.02" y="325.39" width="49.67" height="11.30" fill="#b3e3e3"/>
<rect x="164.64" y="325.39" width="23.86" height="11.30" fill="#67ccb8"/>
<rect x="188.45" y="325.39" width="22.36" height="11.30" fill="#dc1839"/>
<rect x="210.76" y="325.39" width="1.55" height="11.30" fill="#cc4456"/>
<rect x="212.26" y="325.39" width="58.49" height="11.30" fill="#f48e6a"/>
<line x1="104.2" y1="337.2" x2="270.7" y2="337.2" stroke="#f4f4f4" stroke-width="0.7"/>
<line x1="94.2" y1="331.0" x2="95.8" y2="331.0" stroke="#444" stroke-width="0.6"/>
<text x="93.7" y="334.0" font-size="8.6" text-anchor="end" fill="#3dbdc2" font-weight="normal" textLength="43.4" lengthAdjust="spacingAndGlyphs" stroke="#3dbdc2" stroke-width="0.19" >pre B/Plasma</text>
<line x1="96.2" y1="343.5" x2="278.4" y2="343.5" stroke="#fff" stroke-width="0.9"/>
<rect x="104.20" y="337.88" width="1.72" height="11.30" fill="#a0dce7"/>
<rect x="105.87" y="337.88" width="38.18" height="11.30" fill="#b3e3e3"/>
<rect x="143.99" y="337.88" width="3.88" height="11.30" fill="#67ccb8"/>
<rect x="147.82" y="337.88" width="120.76" height="11.30" fill="#dc1839"/>
<rect x="268.54" y="337.88" width="2.21" height="11.30" fill="#f48e6a"/>
<line x1="104.2" y1="349.7" x2="270.7" y2="349.7" stroke="#f4f4f4" stroke-width="0.7"/>
<line x1="94.2" y1="343.5" x2="95.8" y2="343.5" stroke="#444" stroke-width="0.6"/>
<text x="93.7" y="346.5" font-size="8.6" text-anchor="end" fill="#3dbdc2" font-weight="normal" textLength="19.4" lengthAdjust="spacingAndGlyphs" stroke="#3dbdc2" stroke-width="0.19" >Macro</text>
<line x1="96.2" y1="356.0" x2="278.4" y2="356.0" stroke="#fff" stroke-width="0.9"/>
<rect x="104.20" y="350.37" width="62.82" height="11.30" fill="#96c6d7"/>
<rect x="166.97" y="350.37" width="27.86" height="11.30" fill="#dc1839"/>
<rect x="194.78" y="350.37" width="35.35" height="11.30" fill="#cc4456"/>
<rect x="230.07" y="350.37" width="2.88" height="11.30" fill="#f0636d"/>
<rect x="232.90" y="350.37" width="37.85" height="11.30" fill="#f48e6a"/>
<line x1="104.2" y1="362.2" x2="270.7" y2="362.2" stroke="#f4f4f4" stroke-width="0.7"/>
<line x1="94.2" y1="356.0" x2="95.8" y2="356.0" stroke="#444" stroke-width="0.6"/>
<text x="93.7" y="359.0" font-size="8.6" text-anchor="end" fill="#3dbdc2" font-weight="normal" textLength="21.7" lengthAdjust="spacingAndGlyphs" stroke="#3dbdc2" stroke-width="0.19" >B cells</text>
<line x1="96.2" y1="368.5" x2="278.4" y2="368.5" stroke="#fff" stroke-width="0.9"/>
<rect x="104.20" y="362.86" width="53.66" height="11.30" fill="#a0dce7"/>
<rect x="157.81" y="362.86" width="22.36" height="11.30" fill="#96c6d7"/>
<rect x="180.12" y="362.86" width="36.85" height="11.30" fill="#b3e3e3"/>
<rect x="216.92" y="362.86" width="10.54" height="11.30" fill="#67ccb8"/>
<rect x="227.41" y="362.86" width="19.36" height="11.30" fill="#dc1839"/>
<rect x="246.72" y="362.86" width="6.21" height="11.30" fill="#cc4456"/>
<rect x="252.88" y="362.86" width="9.54" height="11.30" fill="#f0636d"/>
<rect x="262.38" y="362.86" width="8.37" height="11.30" fill="#f48e6a"/>
<line x1="104.2" y1="374.7" x2="270.7" y2="374.7" stroke="#f4f4f4" stroke-width="0.7"/>
<line x1="94.2" y1="368.5" x2="95.8" y2="368.5" stroke="#444" stroke-width="0.6"/>
<text x="91.2" y="371.5" font-size="8.6" text-anchor="end" fill="#3dbdc2" font-weight="normal" textLength="33.0" lengthAdjust="spacingAndGlyphs" stroke="#3dbdc2" stroke-width="0.19" >T/NK cells</text>
<line x1="96.2" y1="381.0" x2="278.4" y2="381.0" stroke="#fff" stroke-width="0.9"/>
<rect x="104.20" y="375.35" width="26.02" height="11.30" fill="#a0dce7"/>
<rect x="130.17" y="375.35" width="7.21" height="11.30" fill="#96c6d7"/>
<rect x="137.33" y="375.35" width="104.45" height="11.30" fill="#b3e3e3"/>
<rect x="241.73" y="375.35" width="12.37" height="11.30" fill="#67ccb8"/>
<rect x="254.05" y="375.35" width="6.21" height="11.30" fill="#dc1839"/>
<rect x="260.21" y="375.35" width="6.54" height="11.30" fill="#cc4456"/>
<rect x="266.70" y="375.35" width="1.71" height="11.30" fill="#f0636d"/>
<rect x="268.37" y="375.35" width="2.38" height="11.30" fill="#f48e6a"/>
<line x1="104.2" y1="387.1" x2="270.7" y2="387.1" stroke="#f4f4f4" stroke-width="0.7"/>
<line x1="94.2" y1="381.0" x2="95.8" y2="381.0" stroke="#444" stroke-width="0.6"/>
<text x="93.7" y="384.0" font-size="8.6" text-anchor="end" fill="#3dbdc2" font-weight="normal" textLength="17.2" lengthAdjust="spacingAndGlyphs" stroke="#3dbdc2" stroke-width="0.19" >Eryth</text>
<line x1="96.2" y1="393.5" x2="278.4" y2="393.5" stroke="#fff" stroke-width="0.9"/>
<rect x="104.20" y="387.84" width="4.21" height="11.30" fill="#a0dce7"/>
<rect x="108.36" y="387.84" width="2.38" height="11.30" fill="#96c6d7"/>
<rect x="110.69" y="387.84" width="95.95" height="11.30" fill="#b3e3e3"/>
<rect x="206.60" y="387.84" width="59.99" height="11.30" fill="#67ccb8"/>
<rect x="266.54" y="387.84" width="3.88" height="11.30" fill="#dc1839"/>
<rect x="270.37" y="387.84" width="0.38" height="11.30" fill="#f48e6a"/>
<line x1="104.2" y1="399.6" x2="270.7" y2="399.6" stroke="#f4f4f4" stroke-width="0.7"/>
<line x1="94.2" y1="393.5" x2="95.8" y2="393.5" stroke="#444" stroke-width="0.6"/>
<text x="93.7" y="396.5" font-size="8.6" text-anchor="end" fill="#3dbdc2" font-weight="normal" textLength="18.5" lengthAdjust="spacingAndGlyphs" stroke="#3dbdc2" stroke-width="0.19" >Mono</text>
<line x1="96.2" y1="406.0" x2="278.4" y2="406.0" stroke="#fff" stroke-width="0.9"/>
<rect x="104.20" y="400.33" width="74.64" height="11.30" fill="#a0dce7"/>
<rect x="178.79" y="400.33" width="30.02" height="11.30" fill="#b3e3e3"/>
<rect x="208.76" y="400.33" width="52.00" height="11.30" fill="#67ccb8"/>
<rect x="260.71" y="400.33" width="7.88" height="11.30" fill="#dc1839"/>
<rect x="268.54" y="400.33" width="2.21" height="11.30" fill="#f48e6a"/>
<line x1="104.2" y1="412.1" x2="270.7" y2="412.1" stroke="#f4f4f4" stroke-width="0.7"/>
<line x1="94.2" y1="406.0" x2="95.8" y2="406.0" stroke="#444" stroke-width="0.6"/>
<text x="93.7" y="409.0" font-size="8.6" text-anchor="end" fill="#3dbdc2" font-weight="normal" textLength="37.8" lengthAdjust="spacingAndGlyphs" stroke="#3dbdc2" stroke-width="0.19" >Mono/ mac</text>
<line x1="96.2" y1="418.5" x2="278.4" y2="418.5" stroke="#fff" stroke-width="0.9"/>
<rect x="104.20" y="412.82" width="67.82" height="11.30" fill="#a0dce7"/>
<rect x="171.97" y="412.82" width="42.17" height="11.30" fill="#96c6d7"/>
<rect x="214.09" y="412.82" width="12.54" height="11.30" fill="#b3e3e3"/>
<rect x="226.58" y="412.82" width="8.71" height="11.30" fill="#67ccb8"/>
<rect x="235.24" y="412.82" width="13.20" height="11.30" fill="#dc1839"/>
<rect x="248.39" y="412.82" width="7.38" height="11.30" fill="#cc4456"/>
<rect x="255.71" y="412.82" width="15.04" height="11.30" fill="#f48e6a"/>
<line x1="104.2" y1="424.6" x2="270.7" y2="424.6" stroke="#f4f4f4" stroke-width="0.7"/>
<line x1="94.2" y1="418.5" x2="95.8" y2="418.5" stroke="#444" stroke-width="0.6"/>
<text x="93.7" y="421.5" font-size="8.6" text-anchor="end" fill="#3dbdc2" font-weight="normal" textLength="21.7" lengthAdjust="spacingAndGlyphs" stroke="#3dbdc2" stroke-width="0.19" >T cells</text>
<line x1="104.2" y1="426.5" x2="104.2" y2="428.1" stroke="#444" stroke-width="0.6"/>
<text x="104.5" y="435.5" font-size="7.8" text-anchor="middle" fill="#444" font-weight="normal" stroke="#444" stroke-width="0.18" >0%</text>
<line x1="145.8" y1="426.5" x2="145.8" y2="428.1" stroke="#444" stroke-width="0.6"/>
<text x="146.1" y="435.5" font-size="7.8" text-anchor="middle" fill="#444" font-weight="normal" stroke="#444" stroke-width="0.18" >25%</text>
<line x1="187.4" y1="426.5" x2="187.4" y2="428.1" stroke="#444" stroke-width="0.6"/>
<text x="187.8" y="435.5" font-size="7.8" text-anchor="middle" fill="#444" font-weight="normal" stroke="#444" stroke-width="0.18" >50%</text>
<line x1="229.1" y1="426.5" x2="229.1" y2="428.1" stroke="#444" stroke-width="0.6"/>
<text x="229.4" y="435.5" font-size="7.8" text-anchor="middle" fill="#444" font-weight="normal" stroke="#444" stroke-width="0.18" >75%</text>
<line x1="270.7" y1="426.5" x2="270.7" y2="428.1" stroke="#444" stroke-width="0.6"/>
<text x="271.0" y="435.5" font-size="7.8" text-anchor="middle" fill="#444" font-weight="normal" stroke="#444" stroke-width="0.18" >100%</text>
<text x="195.5" y="445.0" font-size="11.2" text-anchor="middle" fill="#111" font-weight="normal" textLength="55.5" lengthAdjust="spacingAndGlyphs" stroke="#111" stroke-width="0.25" >Percentage</text>
<text x="288.2" y="299.4" font-size="8.4" text-anchor="start" fill="#222" font-weight="normal" textLength="25.3" lengthAdjust="spacingAndGlyphs" stroke="#222" stroke-width="0.19" >Sample</text>
<rect x="288.2" y="304.8" width="8.8" height="8.9" fill="#f48e6a"/>
<text x="301.6" y="311.8" font-size="6.6" text-anchor="start" fill="#333" font-weight="normal" textLength="10.7" lengthAdjust="spacingAndGlyphs" stroke="#333" stroke-width="0.15" >14D</text>
<rect x="288.2" y="314.5" width="8.8" height="8.9" fill="#f0636d"/>
<text x="301.6" y="321.5" font-size="6.6" text-anchor="start" fill="#333" font-weight="normal" textLength="7.4" lengthAdjust="spacingAndGlyphs" stroke="#333" stroke-width="0.15" >5D</text>
<rect x="288.2" y="324.2" width="8.8" height="8.9" fill="#cc4456"/>
<text x="301.6" y="331.2" font-size="6.6" text-anchor="start" fill="#333" font-weight="normal" textLength="7.4" lengthAdjust="spacingAndGlyphs" stroke="#333" stroke-width="0.15" >3D</text>
<rect x="288.2" y="333.9" width="8.8" height="8.9" fill="#dc1839"/>
<text x="301.6" y="340.9" font-size="6.6" text-anchor="start" fill="#333" font-weight="normal" textLength="7.4" lengthAdjust="spacingAndGlyphs" stroke="#333" stroke-width="0.15" >6D</text>
<rect x="288.2" y="343.6" width="8.8" height="8.9" fill="#67ccb8"/>
<text x="301.6" y="350.6" font-size="6.6" text-anchor="start" fill="#333" font-weight="normal" textLength="10.3" lengthAdjust="spacingAndGlyphs" stroke="#333" stroke-width="0.15" >14E</text>
<rect x="288.2" y="353.4" width="8.8" height="8.9" fill="#b3e3e3"/>
<text x="301.6" y="360.4" font-size="6.6" text-anchor="start" fill="#333" font-weight="normal" textLength="7.1" lengthAdjust="spacingAndGlyphs" stroke="#333" stroke-width="0.15" >5E</text>
<rect x="288.2" y="363.1" width="8.8" height="8.9" fill="#96c6d7"/>
<text x="301.6" y="370.1" font-size="6.6" text-anchor="start" fill="#333" font-weight="normal" textLength="7.1" lengthAdjust="spacingAndGlyphs" stroke="#333" stroke-width="0.15" >3E</text>
<rect x="288.2" y="372.8" width="8.8" height="8.9" fill="#a0dce7"/>
<text x="301.6" y="379.8" font-size="6.6" text-anchor="start" fill="#333" font-weight="normal" textLength="7.1" lengthAdjust="spacingAndGlyphs" stroke="#333" stroke-width="0.15" >6E</text>
<text x="3.1" y="259.6" font-size="16" font-weight="bold" fill="#111" stroke="#111" stroke-width="0.45">c</text><rect x="12.8" y="256.7" width="3.3" height="2.9" fill="#111"/>
<g fill="#f0606a"><circle cx="114.7" cy="489.6" r="0.80"/><circle cx="68.7" cy="502.9" r="0.80"/><circle cx="107.5" cy="491.0" r="0.80"/><circle cx="76.1" cy="489.8" r="0.80"/><circle cx="94.2" cy="491.0" r="0.80"/><circle cx="69.2" cy="498.3" r="0.80"/><circle cx="83.9" cy="490.3" r="0.80"/><circle cx="117.3" cy="490.3" r="0.80"/><circle cx="113.3" cy="486.9" r="0.80"/><circle cx="73.6" cy="493.1" r="0.80"/><circle cx="69.7" cy="506.7" r="0.80"/><circle cx="77.1" cy="493.4" r="0.80"/><circle cx="80.6" cy="495.0" r="0.80"/><circle cx="91.5" cy="491.6" r="0.80"/><circle cx="74.8" cy="496.0" r="0.80"/><circle cx="70.5" cy="500.4" r="0.80"/><circle cx="88.3" cy="496.6" r="0.80"/><circle cx="71.5" cy="497.8" r="0.80"/><circle cx="111.2" cy="491.2" r="0.80"/><circle cx="110.5" cy="486.7" r="0.80"/><circle cx="103.5" cy="492.7" r="0.80"/><circle cx="115.2" cy="486.6" r="0.80"/><circle cx="115.4" cy="490.7" r="0.80"/><circle cx="101.2" cy="495.8" r="0.80"/><circle cx="85.7" cy="490.6" r="0.80"/><circle cx="112.5" cy="489.1" r="0.80"/><circle cx="87.8" cy="494.3" r="0.80"/><circle cx="109.7" cy="488.7" r="0.80"/><circle cx="110.3" cy="487.5" r="0.80"/><circle cx="112.6" cy="490.3" r="0.80"/><circle cx="100.8" cy="491.1" r="0.80"/><circle cx="77.4" cy="493.1" r="0.80"/><circle cx="100.2" cy="495.3" r="0.80"/><circle cx="77.7" cy="495.5" r="0.80"/><circle cx="111.2" cy="487.9" r="0.80"/><circle cx="101.1" cy="497.9" r="0.80"/><circle cx="88.3" cy="490.1" r="0.80"/><circle cx="93.1" cy="492.9" r="0.80"/><circle cx="76.7" cy="493.7" r="0.80"/><circle cx="114.0" cy="491.8" r="0.80"/><circle cx="95.2" cy="496.9" r="0.80"/><circle cx="101.6" cy="494.5" r="0.80"/><circle cx="112.1" cy="491.1" r="0.80"/><circle cx="71.2" cy="505.9" r="0.80"/><circle cx="97.0" cy="493.1" r="0.80"/><circle cx="110.4" cy="492.0" r="0.80"/><circle cx="65.6" cy="499.9" r="0.80"/><circle cx="72.9" cy="494.3" r="0.80"/><circle cx="73.8" cy="497.2" r="0.80"/><circle cx="100.4" cy="491.2" r="0.80"/><circle cx="66.7" cy="505.4" r="0.80"/><circle cx="98.3" cy="494.3" r="0.80"/><circle cx="69.2" cy="503.3" r="0.80"/><circle cx="101.4" cy="492.5" r="0.80"/><circle cx="67.0" cy="506.3" r="0.80"/><circle cx="74.4" cy="501.0" r="0.80"/><circle cx="70.9" cy="497.3" r="0.80"/><circle cx="65.9" cy="504.3" r="0.80"/><circle cx="116.5" cy="488.6" r="0.80"/><circle cx="78.6" cy="493.3" r="0.80"/><circle cx="94.7" cy="493.2" r="0.80"/><circle cx="78.1" cy="491.8" r="0.80"/><circle cx="64.2" cy="504.3" r="0.80"/><circle cx="102.3" cy="493.6" r="0.80"/><circle cx="111.4" cy="490.2" r="0.80"/><circle cx="99.2" cy="488.6" r="0.80"/><circle cx="86.2" cy="493.7" r="0.80"/><circle cx="77.3" cy="496.2" r="0.80"/><circle cx="65.5" cy="500.1" r="0.80"/><circle cx="71.3" cy="501.4" r="0.80"/><circle cx="92.9" cy="491.2" r="0.80"/><circle cx="71.9" cy="500.6" r="0.80"/><circle cx="114.6" cy="488.7" r="0.80"/><circle cx="82.9" cy="496.0" r="0.80"/><circle cx="66.1" cy="506.0" r="0.80"/><circle cx="67.7" cy="504.3" r="0.80"/><circle cx="68.0" cy="505.9" r="0.80"/><circle cx="95.9" cy="494.1" r="0.80"/><circle cx="88.1" cy="498.4" r="0.80"/><circle cx="116.4" cy="487.7" r="0.80"/><circle cx="71.7" cy="494.4" r="0.80"/><circle cx="93.3" cy="493.9" r="0.80"/><circle cx="95.2" cy="494.4" r="0.80"/><circle cx="71.0" cy="492.3" r="0.80"/><circle cx="83.3" cy="492.8" r="0.80"/><circle cx="67.5" cy="505.6" r="0.80"/><circle cx="82.3" cy="495.7" r="0.80"/><circle cx="75.2" cy="496.0" r="0.80"/><circle cx="69.9" cy="502.5" r="0.80"/><circle cx="73.8" cy="496.8" r="0.80"/><circle cx="89.1" cy="491.5" r="0.80"/><circle cx="96.3" cy="493.7" r="0.80"/><circle cx="76.5" cy="498.7" r="0.80"/><circle cx="100.8" cy="489.5" r="0.80"/><circle cx="84.1" cy="490.2" r="0.80"/><circle cx="67.8" cy="504.7" r="0.80"/><circle cx="83.0" cy="491.6" r="0.80"/><circle cx="68.9" cy="502.4" r="0.80"/><circle cx="105.4" cy="490.0" r="0.80"/><circle cx="113.1" cy="491.5" r="0.80"/><circle cx="94.4" cy="491.7" r="0.80"/><circle cx="79.9" cy="499.0" r="0.80"/><circle cx="66.7" cy="506.3" r="0.80"/><circle cx="76.2" cy="492.2" r="0.80"/><circle cx="107.9" cy="491.0" r="0.80"/><circle cx="85.0" cy="492.8" r="0.80"/><circle cx="82.6" cy="491.5" r="0.80"/><circle cx="93.1" cy="493.4" r="0.80"/><circle cx="68.2" cy="503.4" r="0.80"/><circle cx="113.9" cy="491.3" r="0.80"/><circle cx="68.7" cy="503.4" r="0.80"/><circle cx="92.1" cy="491.9" r="0.80"/><circle cx="81.6" cy="489.3" r="0.80"/><circle cx="81.6" cy="493.8" r="0.80"/><circle cx="70.4" cy="501.3" r="0.80"/><circle cx="108.7" cy="491.6" r="0.80"/><circle cx="96.2" cy="496.6" r="0.80"/><circle cx="66.5" cy="505.8" r="0.80"/><circle cx="97.3" cy="493.9" r="0.80"/><circle cx="87.9" cy="489.8" r="0.80"/><circle cx="79.6" cy="489.0" r="0.80"/><circle cx="75.1" cy="493.9" r="0.80"/><circle cx="89.4" cy="487.9" r="0.80"/><circle cx="106.0" cy="492.5" r="0.80"/><circle cx="113.4" cy="490.3" r="0.80"/><circle cx="71.7" cy="494.5" r="0.80"/><circle cx="87.2" cy="493.1" r="0.80"/><circle cx="99.0" cy="495.5" r="0.80"/><circle cx="111.2" cy="486.4" r="0.80"/><circle cx="67.3" cy="501.4" r="0.80"/><circle cx="79.2" cy="494.1" r="0.80"/><circle cx="82.9" cy="493.0" r="0.80"/><circle cx="72.0" cy="505.7" r="0.80"/><circle cx="117.1" cy="490.6" r="0.80"/><circle cx="96.7" cy="494.6" r="0.80"/><circle cx="74.2" cy="496.0" r="0.80"/><circle cx="97.8" cy="492.3" r="0.80"/><circle cx="89.3" cy="491.2" r="0.80"/><circle cx="65.0" cy="499.2" r="0.80"/><circle cx="102.7" cy="491.0" r="0.80"/><circle cx="66.1" cy="500.8" r="0.80"/><circle cx="73.5" cy="493.8" r="0.80"/><circle cx="109.9" cy="487.0" r="0.80"/><circle cx="82.1" cy="493.8" r="0.80"/><circle cx="116.8" cy="488.8" r="0.80"/><circle cx="68.0" cy="498.5" r="0.80"/><circle cx="84.2" cy="496.0" r="0.80"/><circle cx="110.4" cy="490.9" r="0.80"/><circle cx="69.3" cy="496.6" r="0.80"/><circle cx="82.2" cy="492.8" r="0.80"/><circle cx="101.0" cy="495.9" r="0.80"/><circle cx="86.3" cy="491.8" r="0.80"/><circle cx="114.2" cy="487.2" r="0.80"/><circle cx="97.3" cy="496.5" r="0.80"/><circle cx="103.5" cy="493.1" r="0.80"/><circle cx="95.1" cy="492.0" r="0.80"/><circle cx="82.2" cy="489.9" r="0.80"/><circle cx="95.9" cy="488.1" r="0.80"/><circle cx="63.9" cy="505.4" r="0.80"/><circle cx="110.6" cy="491.1" r="0.80"/><circle cx="96.8" cy="493.5" r="0.80"/><circle cx="113.6" cy="488.9" r="0.80"/><circle cx="100.7" cy="488.9" r="0.80"/><circle cx="109.4" cy="487.6" r="0.80"/><circle cx="70.6" cy="502.8" r="0.80"/><circle cx="69.1" cy="495.2" r="0.80"/><circle cx="102.1" cy="491.2" r="0.80"/><circle cx="105.7" cy="491.0" r="0.80"/><circle cx="68.7" cy="499.4" r="0.80"/><circle cx="72.4" cy="493.4" r="0.80"/><circle cx="91.8" cy="491.8" r="0.80"/><circle cx="115.1" cy="489.0" r="0.80"/><circle cx="70.8" cy="504.8" r="0.80"/><circle cx="107.7" cy="491.3" r="0.80"/><circle cx="97.3" cy="493.4" r="0.80"/><circle cx="97.8" cy="490.8" r="0.80"/><circle cx="78.0" cy="492.6" r="0.80"/><circle cx="69.6" cy="507.2" r="0.80"/><circle cx="68.8" cy="503.3" r="0.80"/><circle cx="102.4" cy="491.0" r="0.80"/><circle cx="104.1" cy="489.3" r="0.80"/><circle cx="105.2" cy="493.7" r="0.80"/><circle cx="109.5" cy="491.6" r="0.80"/><circle cx="80.8" cy="493.9" r="0.80"/><circle cx="85.7" cy="493.1" r="0.80"/><circle cx="91.3" cy="493.6" r="0.80"/><circle cx="114.4" cy="487.0" r="0.80"/><circle cx="80.7" cy="494.9" r="0.80"/><circle cx="84.4" cy="494.4" r="0.80"/><circle cx="96.7" cy="491.9" r="0.80"/><circle cx="87.1" cy="488.5" r="0.80"/><circle cx="67.6" cy="502.9" r="0.80"/><circle cx="106.8" cy="490.4" r="0.80"/><circle cx="105.9" cy="494.7" r="0.80"/><circle cx="97.0" cy="490.0" r="0.80"/><circle cx="71.4" cy="503.7" r="0.80"/><circle cx="95.8" cy="491.2" r="0.80"/><circle cx="109.1" cy="492.6" r="0.80"/><circle cx="105.2" cy="490.5" r="0.80"/><circle cx="71.9" cy="494.5" r="0.80"/><circle cx="85.3" cy="493.3" r="0.80"/><circle cx="115.1" cy="490.6" r="0.80"/><circle cx="70.4" cy="501.9" r="0.80"/><circle cx="79.9" cy="490.9" r="0.80"/><circle cx="77.3" cy="495.1" r="0.80"/><circle cx="72.1" cy="499.2" r="0.80"/><circle cx="84.5" cy="491.9" r="0.80"/><circle cx="114.0" cy="493.9" r="0.80"/><circle cx="84.6" cy="489.8" r="0.80"/><circle cx="77.1" cy="489.1" r="0.80"/><circle cx="69.4" cy="502.2" r="0.80"/><circle cx="98.8" cy="494.6" r="0.80"/><circle cx="80.5" cy="490.5" r="0.80"/><circle cx="75.7" cy="496.8" r="0.80"/><circle cx="105.8" cy="490.2" r="0.80"/><circle cx="106.6" cy="489.9" r="0.80"/><circle cx="78.8" cy="496.5" r="0.80"/><circle cx="88.2" cy="489.8" r="0.80"/><circle cx="99.8" cy="496.4" r="0.80"/><circle cx="102.5" cy="491.2" r="0.80"/><circle cx="110.7" cy="493.9" r="0.80"/><circle cx="115.2" cy="487.1" r="0.80"/><circle cx="75.2" cy="490.8" r="0.80"/><circle cx="80.1" cy="490.6" r="0.80"/><circle cx="81.5" cy="495.5" r="0.80"/><circle cx="78.9" cy="497.7" r="0.80"/><circle cx="86.4" cy="494.3" r="0.80"/><circle cx="114.4" cy="488.0" r="0.80"/><circle cx="71.8" cy="501.7" r="0.80"/><circle cx="79.4" cy="493.2" r="0.80"/><circle cx="113.2" cy="492.3" r="0.80"/><circle cx="84.2" cy="490.6" r="0.80"/><circle cx="90.4" cy="493.6" r="0.80"/><circle cx="81.1" cy="497.1" r="0.80"/><circle cx="75.0" cy="492.4" r="0.80"/><circle cx="76.8" cy="492.1" r="0.80"/><circle cx="113.1" cy="490.5" r="0.80"/><circle cx="72.8" cy="497.0" r="0.80"/><circle cx="72.3" cy="493.5" r="0.80"/><circle cx="78.6" cy="493.6" r="0.80"/><circle cx="73.6" cy="494.6" r="0.80"/><circle cx="78.4" cy="495.9" r="0.80"/><circle cx="80.3" cy="493.0" r="0.80"/><circle cx="69.8" cy="499.5" r="0.80"/><circle cx="107.4" cy="487.8" r="0.80"/><circle cx="71.6" cy="501.2" r="0.80"/><circle cx="89.2" cy="494.4" r="0.80"/><circle cx="103.4" cy="490.5" r="0.80"/><circle cx="94.4" cy="487.3" r="0.80"/><circle cx="81.2" cy="497.6" r="0.80"/><circle cx="86.4" cy="491.8" r="0.80"/><circle cx="107.3" cy="490.0" r="0.80"/><circle cx="93.7" cy="491.0" r="0.80"/><circle cx="115.6" cy="487.0" r="0.80"/><circle cx="116.7" cy="489.6" r="0.80"/><circle cx="82.7" cy="491.0" r="0.80"/><circle cx="89.3" cy="494.3" r="0.80"/><circle cx="116.7" cy="488.5" r="0.80"/><circle cx="72.8" cy="502.1" r="0.80"/><circle cx="111.7" cy="488.6" r="0.80"/></g>
<g fill="#f0606a"><circle cx="71.7" cy="509.7" r="0.80"/><circle cx="77.0" cy="516.4" r="0.80"/><circle cx="76.9" cy="517.2" r="0.80"/><circle cx="80.2" cy="520.5" r="0.80"/><circle cx="70.9" cy="511.6" r="0.80"/><circle cx="70.8" cy="518.2" r="0.80"/><circle cx="82.2" cy="519.3" r="0.80"/><circle cx="69.1" cy="509.9" r="0.80"/><circle cx="76.3" cy="518.1" r="0.80"/><circle cx="79.9" cy="517.8" r="0.80"/><circle cx="76.1" cy="519.5" r="0.80"/><circle cx="75.8" cy="517.2" r="0.80"/><circle cx="69.6" cy="514.0" r="0.80"/><circle cx="74.2" cy="515.0" r="0.80"/><circle cx="77.3" cy="519.8" r="0.80"/><circle cx="82.8" cy="521.2" r="0.80"/><circle cx="73.0" cy="513.7" r="0.80"/><circle cx="82.9" cy="521.5" r="0.80"/><circle cx="80.2" cy="521.7" r="0.80"/><circle cx="70.1" cy="510.9" r="0.80"/><circle cx="83.6" cy="521.8" r="0.80"/><circle cx="71.3" cy="512.4" r="0.80"/><circle cx="76.0" cy="514.3" r="0.80"/><circle cx="75.7" cy="517.1" r="0.80"/><circle cx="75.0" cy="517.8" r="0.80"/><circle cx="82.6" cy="521.5" r="0.80"/><circle cx="78.5" cy="522.1" r="0.80"/><circle cx="69.6" cy="509.7" r="0.80"/><circle cx="77.8" cy="522.7" r="0.80"/><circle cx="76.7" cy="515.6" r="0.80"/><circle cx="78.0" cy="518.9" r="0.80"/><circle cx="74.2" cy="518.3" r="0.80"/><circle cx="69.6" cy="513.6" r="0.80"/><circle cx="81.1" cy="524.1" r="0.80"/><circle cx="67.9" cy="509.1" r="0.80"/><circle cx="70.2" cy="508.4" r="0.80"/><circle cx="71.5" cy="511.9" r="0.80"/><circle cx="69.4" cy="505.6" r="0.80"/><circle cx="75.2" cy="518.6" r="0.80"/><circle cx="71.9" cy="512.8" r="0.80"/><circle cx="79.3" cy="522.3" r="0.80"/><circle cx="82.5" cy="523.4" r="0.80"/><circle cx="70.7" cy="513.3" r="0.80"/><circle cx="66.5" cy="508.7" r="0.80"/><circle cx="71.2" cy="508.8" r="0.80"/><circle cx="68.6" cy="510.6" r="0.80"/><circle cx="66.8" cy="508.8" r="0.80"/><circle cx="82.7" cy="522.3" r="0.80"/><circle cx="82.1" cy="520.9" r="0.80"/><circle cx="74.5" cy="516.2" r="0.80"/><circle cx="78.5" cy="516.1" r="0.80"/><circle cx="77.8" cy="516.1" r="0.80"/><circle cx="83.0" cy="521.6" r="0.80"/><circle cx="78.6" cy="518.5" r="0.80"/><circle cx="71.7" cy="509.7" r="0.80"/><circle cx="72.4" cy="518.3" r="0.80"/><circle cx="74.6" cy="517.0" r="0.80"/><circle cx="76.2" cy="516.4" r="0.80"/><circle cx="68.0" cy="506.5" r="0.80"/><circle cx="68.6" cy="507.2" r="0.80"/><circle cx="78.7" cy="515.4" r="0.80"/><circle cx="72.3" cy="513.0" r="0.80"/><circle cx="78.4" cy="518.3" r="0.80"/><circle cx="67.9" cy="508.1" r="0.80"/><circle cx="77.0" cy="518.7" r="0.80"/><circle cx="74.5" cy="514.1" r="0.80"/><circle cx="77.0" cy="516.0" r="0.80"/><circle cx="71.1" cy="512.9" r="0.80"/><circle cx="73.8" cy="512.1" r="0.80"/><circle cx="73.6" cy="512.5" r="0.80"/><circle cx="78.0" cy="520.8" r="0.80"/><circle cx="78.6" cy="519.0" r="0.80"/><circle cx="71.7" cy="512.3" r="0.80"/><circle cx="69.1" cy="513.1" r="0.80"/><circle cx="71.3" cy="508.4" r="0.80"/><circle cx="67.8" cy="509.7" r="0.80"/><circle cx="73.3" cy="511.1" r="0.80"/><circle cx="72.2" cy="515.9" r="0.80"/><circle cx="80.0" cy="521.2" r="0.80"/><circle cx="76.6" cy="518.3" r="0.80"/></g>
<path d="M116.0,532.0 C116.6,532.3 119.8,536.3 121.0,537.0 C122.2,537.7 126.5,538.9 128.0,539.0 C129.5,539.1 134.5,538.4 136.0,538.0 C137.5,537.6 141.6,535.6 143.0,535.0 C144.4,534.4 148.8,532.0 150.0,531.5 C151.2,531.0 154.2,529.4 155.0,530.0 C155.8,530.6 157.8,536.1 158.2,538.0 C158.6,539.9 159.8,547.7 159.4,549.1 C159.0,550.5 156.0,552.3 154.6,552.3 C153.2,552.3 147.2,549.9 144.9,549.1 C142.7,548.3 134.5,545.2 132.1,544.2 C129.7,543.2 122.7,540.5 121.0,539.5 C119.3,538.5 115.5,534.8 115.0,534.0 C114.5,533.2 115.4,531.7 116.0,532.0 Z" fill="#f0606a" filter="url(#rough)"/>
<path d="M113.8,526 L118.5,525.2 L120.5,530 L121.5,536 L116,533 Z" fill="#f0606a" filter="url(#rough)"/>
<g fill="#f0606a"><circle cx="134.5" cy="520.1" r="0.65"/><circle cx="121.8" cy="525.3" r="0.65"/><circle cx="154.6" cy="533.6" r="0.65"/><circle cx="139.9" cy="522.7" r="0.65"/><circle cx="127.5" cy="536.3" r="0.65"/><circle cx="131.2" cy="530.0" r="0.65"/><circle cx="142.6" cy="530.9" r="0.65"/><circle cx="138.7" cy="520.6" r="0.65"/><circle cx="137.5" cy="518.8" r="0.65"/><circle cx="155.3" cy="535.0" r="0.65"/><circle cx="140.3" cy="523.2" r="0.65"/><circle cx="138.8" cy="525.6" r="0.65"/><circle cx="142.3" cy="525.9" r="0.65"/><circle cx="125.4" cy="523.3" r="0.65"/><circle cx="121.0" cy="530.0" r="0.65"/><circle cx="130.0" cy="528.1" r="0.65"/><circle cx="137.4" cy="524.1" r="0.65"/><circle cx="135.1" cy="521.1" r="0.65"/><circle cx="143.6" cy="522.7" r="0.65"/><circle cx="132.9" cy="532.5" r="0.65"/><circle cx="131.6" cy="528.6" r="0.65"/><circle cx="148.7" cy="529.8" r="0.65"/><circle cx="128.4" cy="523.8" r="0.65"/><circle cx="126.1" cy="526.5" r="0.65"/><circle cx="135.0" cy="536.6" r="0.65"/><circle cx="143.2" cy="534.0" r="0.65"/><circle cx="130.5" cy="520.9" r="0.65"/><circle cx="136.3" cy="519.8" r="0.65"/><circle cx="130.4" cy="518.9" r="0.65"/><circle cx="120.8" cy="527.2" r="0.65"/><circle cx="123.9" cy="528.0" r="0.65"/><circle cx="149.1" cy="525.5" r="0.65"/><circle cx="128.5" cy="525.5" r="0.65"/><circle cx="120.6" cy="525.7" r="0.65"/><circle cx="128.8" cy="535.5" r="0.65"/><circle cx="151.3" cy="527.3" r="0.65"/><circle cx="128.6" cy="521.2" r="0.65"/><circle cx="128.1" cy="535.1" r="0.65"/><circle cx="138.3" cy="518.8" r="0.65"/><circle cx="127.3" cy="535.2" r="0.65"/><circle cx="132.2" cy="530.6" r="0.65"/><circle cx="150.1" cy="530.3" r="0.65"/><circle cx="150.7" cy="527.9" r="0.65"/><circle cx="144.5" cy="531.2" r="0.65"/><circle cx="129.6" cy="536.2" r="0.65"/><circle cx="143.7" cy="528.8" r="0.65"/><circle cx="145.1" cy="523.8" r="0.65"/><circle cx="153.6" cy="533.1" r="0.65"/><circle cx="137.4" cy="527.9" r="0.65"/><circle cx="142.1" cy="527.1" r="0.65"/><circle cx="152.6" cy="529.6" r="0.65"/><circle cx="124.6" cy="524.5" r="0.65"/><circle cx="148.8" cy="527.8" r="0.65"/><circle cx="140.2" cy="524.9" r="0.65"/><circle cx="128.2" cy="527.1" r="0.65"/><circle cx="123.6" cy="529.9" r="0.65"/><circle cx="136.0" cy="534.8" r="0.65"/><circle cx="130.9" cy="534.4" r="0.65"/><circle cx="135.5" cy="533.6" r="0.65"/><circle cx="125.7" cy="535.2" r="0.65"/><circle cx="138.3" cy="524.0" r="0.65"/><circle cx="131.2" cy="528.3" r="0.65"/><circle cx="138.0" cy="531.9" r="0.65"/><circle cx="137.9" cy="518.5" r="0.65"/><circle cx="128.7" cy="534.6" r="0.65"/><circle cx="133.0" cy="532.9" r="0.65"/><circle cx="145.3" cy="529.6" r="0.65"/><circle cx="131.3" cy="536.0" r="0.65"/><circle cx="137.2" cy="535.9" r="0.65"/><circle cx="131.0" cy="535.0" r="0.65"/><circle cx="149.6" cy="529.7" r="0.65"/><circle cx="136.3" cy="519.8" r="0.65"/><circle cx="141.4" cy="524.2" r="0.65"/><circle cx="134.7" cy="536.5" r="0.65"/><circle cx="126.1" cy="530.6" r="0.65"/><circle cx="131.8" cy="523.2" r="0.65"/><circle cx="141.7" cy="527.3" r="0.65"/><circle cx="123.7" cy="530.5" r="0.65"/><circle cx="145.3" cy="532.5" r="0.65"/><circle cx="143.0" cy="534.3" r="0.65"/><circle cx="130.9" cy="536.3" r="0.65"/><circle cx="134.9" cy="529.4" r="0.65"/><circle cx="153.8" cy="531.6" r="0.65"/><circle cx="131.2" cy="521.7" r="0.65"/><circle cx="131.8" cy="530.0" r="0.65"/><circle cx="134.6" cy="525.3" r="0.65"/><circle cx="126.3" cy="528.2" r="0.65"/><circle cx="146.0" cy="529.7" r="0.65"/><circle cx="133.3" cy="536.8" r="0.65"/><circle cx="143.3" cy="520.2" r="0.65"/><circle cx="142.5" cy="523.4" r="0.65"/><circle cx="127.8" cy="536.3" r="0.65"/><circle cx="153.7" cy="533.2" r="0.65"/><circle cx="124.9" cy="521.9" r="0.65"/><circle cx="125.5" cy="533.4" r="0.65"/><circle cx="145.5" cy="528.3" r="0.65"/><circle cx="139.4" cy="520.2" r="0.65"/><circle cx="131.4" cy="519.4" r="0.65"/><circle cx="130.4" cy="535.5" r="0.65"/><circle cx="146.3" cy="532.2" r="0.65"/><circle cx="153.1" cy="531.9" r="0.65"/><circle cx="140.8" cy="531.4" r="0.65"/><circle cx="147.1" cy="528.4" r="0.65"/><circle cx="138.6" cy="520.1" r="0.65"/><circle cx="134.3" cy="531.2" r="0.65"/><circle cx="134.1" cy="525.7" r="0.65"/><circle cx="128.2" cy="528.5" r="0.65"/><circle cx="137.6" cy="531.9" r="0.65"/><circle cx="126.3" cy="534.2" r="0.65"/><circle cx="133.8" cy="534.6" r="0.65"/><circle cx="151.4" cy="529.2" r="0.65"/><circle cx="123.3" cy="529.8" r="0.65"/><circle cx="143.6" cy="522.2" r="0.65"/><circle cx="152.3" cy="530.7" r="0.65"/><circle cx="131.1" cy="535.6" r="0.65"/><circle cx="143.3" cy="524.0" r="0.65"/><circle cx="144.6" cy="531.5" r="0.65"/><circle cx="142.5" cy="527.9" r="0.65"/><circle cx="122.3" cy="531.8" r="0.65"/><circle cx="138.4" cy="528.3" r="0.65"/><circle cx="142.3" cy="522.1" r="0.65"/><circle cx="151.8" cy="529.9" r="0.65"/><circle cx="137.7" cy="519.9" r="0.65"/><circle cx="133.1" cy="535.5" r="0.65"/><circle cx="130.7" cy="525.0" r="0.65"/><circle cx="130.7" cy="531.3" r="0.65"/><circle cx="149.6" cy="531.6" r="0.65"/><circle cx="136.1" cy="520.6" r="0.65"/><circle cx="148.4" cy="525.4" r="0.65"/><circle cx="131.6" cy="529.9" r="0.65"/><circle cx="129.1" cy="527.6" r="0.65"/><circle cx="130.3" cy="536.0" r="0.65"/><circle cx="124.3" cy="532.7" r="0.65"/><circle cx="138.5" cy="519.3" r="0.65"/><circle cx="132.3" cy="526.4" r="0.65"/><circle cx="128.6" cy="534.5" r="0.65"/><circle cx="130.6" cy="528.8" r="0.65"/><circle cx="122.1" cy="534.6" r="0.65"/><circle cx="126.1" cy="531.9" r="0.65"/><circle cx="126.2" cy="521.2" r="0.65"/><circle cx="142.6" cy="524.5" r="0.65"/><circle cx="154.1" cy="531.6" r="0.65"/><circle cx="124.5" cy="526.9" r="0.65"/><circle cx="140.3" cy="528.2" r="0.65"/><circle cx="133.2" cy="532.4" r="0.65"/><circle cx="151.6" cy="532.8" r="0.65"/><circle cx="127.7" cy="521.9" r="0.65"/><circle cx="141.3" cy="521.0" r="0.65"/><circle cx="143.3" cy="524.1" r="0.65"/><circle cx="133.2" cy="531.7" r="0.65"/><circle cx="126.6" cy="534.2" r="0.65"/><circle cx="131.0" cy="531.9" r="0.65"/><circle cx="134.4" cy="519.8" r="0.65"/><circle cx="133.7" cy="526.6" r="0.65"/><circle cx="132.9" cy="526.2" r="0.65"/><circle cx="135.4" cy="519.3" r="0.65"/><circle cx="130.6" cy="528.6" r="0.65"/><circle cx="126.2" cy="529.8" r="0.65"/><circle cx="142.4" cy="529.4" r="0.65"/><circle cx="136.1" cy="533.6" r="0.65"/><circle cx="126.3" cy="522.9" r="0.65"/><circle cx="136.0" cy="523.5" r="0.65"/><circle cx="143.7" cy="520.5" r="0.65"/><circle cx="132.5" cy="531.0" r="0.65"/><circle cx="132.1" cy="528.1" r="0.65"/><circle cx="140.2" cy="524.5" r="0.65"/><circle cx="137.4" cy="519.4" r="0.65"/><circle cx="146.6" cy="529.4" r="0.65"/><circle cx="142.5" cy="528.3" r="0.65"/><circle cx="137.6" cy="535.0" r="0.65"/><circle cx="127.3" cy="526.8" r="0.65"/><circle cx="130.1" cy="531.3" r="0.65"/><circle cx="156.2" cy="535.5" r="0.65"/><circle cx="130.3" cy="525.6" r="0.65"/><circle cx="122.0" cy="526.0" r="0.65"/><circle cx="122.3" cy="525.8" r="0.65"/><circle cx="139.2" cy="525.8" r="0.65"/><circle cx="122.8" cy="530.3" r="0.65"/><circle cx="145.0" cy="530.1" r="0.65"/><circle cx="138.9" cy="528.4" r="0.65"/><circle cx="136.0" cy="519.7" r="0.65"/><circle cx="123.2" cy="532.8" r="0.65"/><circle cx="131.7" cy="524.0" r="0.65"/><circle cx="129.9" cy="529.2" r="0.65"/><circle cx="123.8" cy="530.3" r="0.65"/><circle cx="125.3" cy="532.9" r="0.65"/><circle cx="140.2" cy="525.8" r="0.65"/><circle cx="130.9" cy="524.4" r="0.65"/><circle cx="148.5" cy="527.9" r="0.65"/><circle cx="139.9" cy="522.1" r="0.65"/><circle cx="143.3" cy="520.5" r="0.65"/><circle cx="137.8" cy="530.5" r="0.65"/><circle cx="140.2" cy="529.0" r="0.65"/><circle cx="141.2" cy="521.0" r="0.65"/><circle cx="136.6" cy="523.9" r="0.65"/><circle cx="130.9" cy="523.5" r="0.65"/><circle cx="130.8" cy="523.5" r="0.65"/><circle cx="127.3" cy="527.0" r="0.65"/><circle cx="130.5" cy="524.6" r="0.65"/><circle cx="144.8" cy="523.5" r="0.65"/></g>
<g fill="#f0606a"><circle cx="132.9" cy="516.2" r="0.65"/><circle cx="137.2" cy="518.0" r="0.65"/><circle cx="135.7" cy="517.1" r="0.65"/><circle cx="145.3" cy="520.7" r="0.65"/><circle cx="119.4" cy="525.0" r="0.65"/><circle cx="125.2" cy="522.8" r="0.65"/><circle cx="149.2" cy="523.8" r="0.65"/><circle cx="153.7" cy="532.7" r="0.65"/><circle cx="129.8" cy="521.0" r="0.65"/><circle cx="146.8" cy="521.1" r="0.65"/><circle cx="119.3" cy="523.5" r="0.65"/><circle cx="131.0" cy="519.0" r="0.65"/><circle cx="127.7" cy="519.8" r="0.65"/><circle cx="149.7" cy="526.3" r="0.65"/><circle cx="132.2" cy="516.2" r="0.65"/><circle cx="154.4" cy="531.7" r="0.65"/><circle cx="132.0" cy="521.5" r="0.65"/><circle cx="151.1" cy="527.6" r="0.65"/><circle cx="150.9" cy="525.1" r="0.65"/><circle cx="125.0" cy="521.5" r="0.65"/><circle cx="130.9" cy="518.1" r="0.65"/><circle cx="147.1" cy="523.2" r="0.65"/><circle cx="146.7" cy="525.7" r="0.65"/><circle cx="139.2" cy="518.4" r="0.65"/><circle cx="155.8" cy="528.8" r="0.65"/><circle cx="137.5" cy="518.3" r="0.65"/><circle cx="144.2" cy="520.4" r="0.65"/><circle cx="124.7" cy="521.9" r="0.65"/><circle cx="127.8" cy="519.1" r="0.65"/><circle cx="141.3" cy="519.3" r="0.65"/><circle cx="146.2" cy="521.3" r="0.65"/><circle cx="140.0" cy="519.0" r="0.65"/><circle cx="154.9" cy="531.5" r="0.65"/><circle cx="152.4" cy="525.2" r="0.65"/><circle cx="128.2" cy="520.4" r="0.65"/><circle cx="124.0" cy="522.7" r="0.65"/><circle cx="118.5" cy="523.7" r="0.65"/><circle cx="122.5" cy="521.1" r="0.65"/><circle cx="145.5" cy="524.2" r="0.65"/><circle cx="124.6" cy="521.0" r="0.65"/><circle cx="145.0" cy="521.3" r="0.65"/><circle cx="120.0" cy="525.8" r="0.65"/><circle cx="140.7" cy="519.0" r="0.65"/><circle cx="124.6" cy="521.6" r="0.65"/><circle cx="134.4" cy="518.7" r="0.65"/><circle cx="148.0" cy="524.3" r="0.65"/><circle cx="137.8" cy="518.3" r="0.65"/><circle cx="126.8" cy="520.7" r="0.65"/><circle cx="145.2" cy="523.2" r="0.65"/><circle cx="122.8" cy="522.4" r="0.65"/><circle cx="127.3" cy="519.8" r="0.65"/><circle cx="123.8" cy="522.8" r="0.65"/><circle cx="136.6" cy="518.2" r="0.65"/><circle cx="153.8" cy="528.4" r="0.65"/><circle cx="153.6" cy="528.1" r="0.65"/><circle cx="126.4" cy="521.2" r="0.65"/><circle cx="145.3" cy="523.0" r="0.65"/><circle cx="126.3" cy="518.5" r="0.65"/><circle cx="136.2" cy="518.7" r="0.65"/><circle cx="130.8" cy="518.8" r="0.65"/><circle cx="125.8" cy="525.2" r="0.65"/><circle cx="131.9" cy="520.0" r="0.65"/><circle cx="139.8" cy="517.0" r="0.65"/><circle cx="143.4" cy="519.7" r="0.65"/><circle cx="139.8" cy="517.9" r="0.65"/><circle cx="144.7" cy="521.2" r="0.65"/><circle cx="146.1" cy="522.1" r="0.65"/><circle cx="138.1" cy="517.0" r="0.65"/><circle cx="150.9" cy="526.2" r="0.65"/><circle cx="132.2" cy="517.5" r="0.65"/><circle cx="125.6" cy="520.9" r="0.65"/><circle cx="135.0" cy="516.2" r="0.65"/><circle cx="127.0" cy="518.5" r="0.65"/><circle cx="144.4" cy="521.6" r="0.65"/><circle cx="127.2" cy="518.9" r="0.65"/><circle cx="121.9" cy="525.0" r="0.65"/><circle cx="152.4" cy="530.6" r="0.65"/><circle cx="124.9" cy="522.0" r="0.65"/><circle cx="155.5" cy="531.3" r="0.65"/><circle cx="140.0" cy="517.6" r="0.65"/><circle cx="151.3" cy="528.2" r="0.65"/><circle cx="145.9" cy="520.3" r="0.65"/><circle cx="147.9" cy="525.3" r="0.65"/><circle cx="144.6" cy="520.1" r="0.65"/><circle cx="151.1" cy="525.3" r="0.65"/><circle cx="143.0" cy="519.7" r="0.65"/><circle cx="132.8" cy="517.2" r="0.65"/><circle cx="155.4" cy="528.5" r="0.65"/><circle cx="124.9" cy="525.1" r="0.65"/><circle cx="148.0" cy="524.3" r="0.65"/><circle cx="155.5" cy="533.6" r="0.65"/><circle cx="123.6" cy="519.3" r="0.65"/><circle cx="125.6" cy="519.5" r="0.65"/><circle cx="122.9" cy="521.4" r="0.65"/><circle cx="154.9" cy="531.2" r="0.65"/><circle cx="136.6" cy="518.6" r="0.65"/><circle cx="126.3" cy="521.3" r="0.65"/><circle cx="120.6" cy="524.9" r="0.65"/><circle cx="124.4" cy="521.0" r="0.65"/><circle cx="150.9" cy="523.8" r="0.65"/><circle cx="135.9" cy="517.6" r="0.65"/><circle cx="153.1" cy="527.8" r="0.65"/><circle cx="135.5" cy="518.4" r="0.65"/><circle cx="127.0" cy="521.4" r="0.65"/><circle cx="148.8" cy="524.2" r="0.65"/><circle cx="126.6" cy="520.9" r="0.65"/><circle cx="122.9" cy="524.5" r="0.65"/><circle cx="150.3" cy="525.2" r="0.65"/><circle cx="144.4" cy="518.8" r="0.65"/><circle cx="141.3" cy="519.7" r="0.65"/><circle cx="121.5" cy="525.3" r="0.65"/><circle cx="145.5" cy="521.7" r="0.65"/><circle cx="135.8" cy="518.3" r="0.65"/><circle cx="121.2" cy="523.9" r="0.65"/><circle cx="119.8" cy="522.9" r="0.65"/><circle cx="137.0" cy="519.2" r="0.65"/><circle cx="153.0" cy="531.8" r="0.65"/><circle cx="126.9" cy="523.3" r="0.65"/><circle cx="152.8" cy="529.2" r="0.65"/><circle cx="143.2" cy="521.8" r="0.65"/><circle cx="157.2" cy="530.7" r="0.65"/><circle cx="121.8" cy="525.2" r="0.65"/><circle cx="154.8" cy="528.5" r="0.65"/><circle cx="155.8" cy="531.8" r="0.65"/><circle cx="131.0" cy="517.2" r="0.65"/><circle cx="130.6" cy="517.6" r="0.65"/><circle cx="124.3" cy="521.1" r="0.65"/><circle cx="143.7" cy="520.9" r="0.65"/><circle cx="135.3" cy="519.1" r="0.65"/><circle cx="153.6" cy="530.8" r="0.65"/><circle cx="144.4" cy="520.5" r="0.65"/><circle cx="154.5" cy="532.1" r="0.65"/><circle cx="137.2" cy="517.8" r="0.65"/><circle cx="151.5" cy="526.1" r="0.65"/><circle cx="153.5" cy="529.2" r="0.65"/><circle cx="144.7" cy="522.5" r="0.65"/><circle cx="155.1" cy="531.4" r="0.65"/><circle cx="123.4" cy="522.4" r="0.65"/><circle cx="155.2" cy="527.5" r="0.65"/><circle cx="137.1" cy="519.6" r="0.65"/><circle cx="151.3" cy="527.5" r="0.65"/><circle cx="137.9" cy="521.1" r="0.65"/><circle cx="119.4" cy="525.5" r="0.65"/><circle cx="135.9" cy="518.1" r="0.65"/><circle cx="153.2" cy="533.2" r="0.65"/><circle cx="135.6" cy="517.1" r="0.65"/><circle cx="149.7" cy="525.1" r="0.65"/><circle cx="157.4" cy="530.5" r="0.65"/><circle cx="151.7" cy="527.1" r="0.65"/><circle cx="125.1" cy="520.4" r="0.65"/><circle cx="136.1" cy="517.1" r="0.65"/><circle cx="126.2" cy="523.2" r="0.65"/><circle cx="127.0" cy="520.5" r="0.65"/><circle cx="122.2" cy="523.1" r="0.65"/><circle cx="119.5" cy="525.9" r="0.65"/><circle cx="148.5" cy="524.3" r="0.65"/><circle cx="130.2" cy="520.2" r="0.65"/><circle cx="133.7" cy="518.2" r="0.65"/><circle cx="119.8" cy="526.1" r="0.65"/><circle cx="136.0" cy="518.0" r="0.65"/><circle cx="123.0" cy="521.5" r="0.65"/><circle cx="153.9" cy="530.9" r="0.65"/><circle cx="144.1" cy="520.3" r="0.65"/><circle cx="126.5" cy="521.6" r="0.65"/><circle cx="134.0" cy="520.3" r="0.65"/><circle cx="124.3" cy="521.0" r="0.65"/><circle cx="145.0" cy="521.7" r="0.65"/><circle cx="150.9" cy="522.7" r="0.65"/><circle cx="144.3" cy="521.8" r="0.65"/><circle cx="154.4" cy="531.2" r="0.65"/></g>
<g fill="#f0606a"><circle cx="123.1" cy="528.7" r="0.65"/><circle cx="123.5" cy="528.6" r="0.65"/><circle cx="126.8" cy="530.2" r="0.65"/><circle cx="125.8" cy="530.9" r="0.65"/><circle cx="123.8" cy="529.6" r="0.65"/><circle cx="123.6" cy="531.4" r="0.65"/><circle cx="127.6" cy="532.9" r="0.65"/><circle cx="131.7" cy="533.0" r="0.65"/><circle cx="123.4" cy="529.6" r="0.65"/><circle cx="125.9" cy="533.0" r="0.65"/><circle cx="123.6" cy="528.5" r="0.65"/><circle cx="130.6" cy="532.3" r="0.65"/><circle cx="123.3" cy="529.3" r="0.65"/><circle cx="130.7" cy="534.9" r="0.65"/><circle cx="123.4" cy="529.2" r="0.65"/><circle cx="127.9" cy="530.9" r="0.65"/><circle cx="126.1" cy="531.9" r="0.65"/><circle cx="124.8" cy="528.9" r="0.65"/><circle cx="123.4" cy="526.8" r="0.65"/><circle cx="122.4" cy="529.2" r="0.65"/><circle cx="128.2" cy="532.3" r="0.65"/><circle cx="123.4" cy="528.9" r="0.65"/><circle cx="128.6" cy="531.9" r="0.65"/><circle cx="125.8" cy="531.3" r="0.65"/><circle cx="122.3" cy="528.3" r="0.65"/><circle cx="127.3" cy="530.4" r="0.65"/><circle cx="124.2" cy="530.7" r="0.65"/><circle cx="127.7" cy="530.2" r="0.65"/><circle cx="121.8" cy="528.9" r="0.65"/><circle cx="121.6" cy="528.9" r="0.65"/><circle cx="128.0" cy="531.8" r="0.65"/><circle cx="130.3" cy="534.2" r="0.65"/><circle cx="127.2" cy="532.5" r="0.65"/><circle cx="129.1" cy="531.2" r="0.65"/><circle cx="126.1" cy="531.8" r="0.65"/><circle cx="128.1" cy="532.6" r="0.65"/><circle cx="131.0" cy="532.7" r="0.65"/><circle cx="122.8" cy="529.4" r="0.65"/><circle cx="125.4" cy="530.5" r="0.65"/><circle cx="127.5" cy="533.5" r="0.65"/></g>
<g fill="#f0606a"><circle cx="89.1" cy="545.8" r="0.75"/><circle cx="100.3" cy="555.6" r="0.75"/><circle cx="91.9" cy="550.0" r="0.75"/><circle cx="82.4" cy="546.6" r="0.75"/><circle cx="99.3" cy="556.2" r="0.75"/><circle cx="72.3" cy="541.9" r="0.75"/><circle cx="82.7" cy="546.8" r="0.75"/><circle cx="88.1" cy="548.1" r="0.75"/><circle cx="66.0" cy="540.7" r="0.75"/><circle cx="94.4" cy="557.8" r="0.75"/><circle cx="90.8" cy="551.9" r="0.75"/><circle cx="66.4" cy="547.2" r="0.75"/><circle cx="88.7" cy="545.8" r="0.75"/><circle cx="94.9" cy="555.1" r="0.75"/><circle cx="71.1" cy="548.4" r="0.75"/><circle cx="89.3" cy="558.5" r="0.75"/><circle cx="73.4" cy="551.5" r="0.75"/><circle cx="91.2" cy="547.1" r="0.75"/><circle cx="69.9" cy="550.0" r="0.75"/><circle cx="98.4" cy="558.0" r="0.75"/><circle cx="96.1" cy="555.6" r="0.75"/><circle cx="69.1" cy="548.0" r="0.75"/><circle cx="68.1" cy="546.5" r="0.75"/><circle cx="87.7" cy="545.9" r="0.75"/><circle cx="66.9" cy="539.6" r="0.75"/><circle cx="75.3" cy="546.9" r="0.75"/><circle cx="95.8" cy="552.0" r="0.75"/><circle cx="83.3" cy="546.8" r="0.75"/><circle cx="87.2" cy="552.8" r="0.75"/><circle cx="64.7" cy="542.1" r="0.75"/><circle cx="92.4" cy="550.3" r="0.75"/><circle cx="93.7" cy="551.5" r="0.75"/><circle cx="78.2" cy="547.8" r="0.75"/><circle cx="67.3" cy="541.7" r="0.75"/><circle cx="70.0" cy="547.8" r="0.75"/><circle cx="93.1" cy="550.2" r="0.75"/><circle cx="94.6" cy="558.4" r="0.75"/><circle cx="77.5" cy="547.5" r="0.75"/><circle cx="85.1" cy="546.2" r="0.75"/><circle cx="93.6" cy="549.6" r="0.75"/><circle cx="93.2" cy="552.3" r="0.75"/><circle cx="97.2" cy="557.7" r="0.75"/><circle cx="69.7" cy="542.4" r="0.75"/><circle cx="93.7" cy="558.3" r="0.75"/><circle cx="77.9" cy="551.0" r="0.75"/></g>
<g fill="#f0606a"><circle cx="88.6" cy="541.3" r="0.75"/><circle cx="83.0" cy="536.7" r="0.75"/><circle cx="78.5" cy="544.9" r="0.75"/><circle cx="74.8" cy="530.5" r="0.75"/><circle cx="73.8" cy="532.4" r="0.75"/><circle cx="76.2" cy="532.6" r="0.75"/><circle cx="68.4" cy="533.5" r="0.75"/><circle cx="75.6" cy="537.7" r="0.75"/></g>
<path d="M72.0,561.9 C72.2,561.5 74.2,560.9 75.0,561.0 C75.8,561.1 79.0,562.2 80.0,562.5 C81.0,562.8 83.6,563.8 84.9,563.9 C86.2,564.0 91.6,564.3 92.9,563.9 C94.2,563.5 97.2,560.1 97.9,559.9 C98.6,559.7 100.0,561.2 99.9,561.9 C99.8,562.6 97.8,566.0 96.9,566.9 C96.0,567.8 91.5,570.2 90.9,570.9 C90.3,571.6 91.8,573.5 90.9,573.9 C90.0,574.3 83.3,575.3 82.0,574.9 C80.7,574.5 78.9,570.9 78.0,569.9 C77.1,568.9 73.6,565.7 73.0,564.9 C72.4,564.1 71.8,562.3 72.0,561.9 Z M80.0,567.9 C80.4,567.5 84.1,566.7 84.9,566.9 C85.7,567.1 88.0,569.4 87.9,569.9 C87.8,570.4 84.6,571.8 83.9,571.9 C83.2,572.0 81.4,571.3 81.0,570.9 C80.6,570.5 79.6,568.3 80.0,567.9 Z" fill="#f0606a" fill-rule="evenodd" filter="url(#rough)"/>
<path d="M98.0,576.5 C98.3,576.0 101.2,576.0 102.0,576.0 C102.8,576.0 105.7,576.5 106.0,577.0 C106.3,577.5 105.9,580.2 105.5,580.5 C105.1,580.8 102.7,580.0 102.0,580.0 C101.3,580.0 99.4,580.9 99.0,580.5 C98.6,580.1 97.7,577.0 98.0,576.5 Z" fill="#f0606a" filter="url(#rough)"/>
<g fill="#f0606a"><circle cx="108.5" cy="585.5" r="0.65"/><circle cx="108.3" cy="583.2" r="0.65"/><circle cx="112.0" cy="583.0" r="0.65"/><circle cx="110.6" cy="584.3" r="0.65"/><circle cx="109.8" cy="584.5" r="0.65"/><circle cx="108.8" cy="586.2" r="0.65"/><circle cx="108.4" cy="583.2" r="0.65"/><circle cx="108.1" cy="583.3" r="0.65"/><circle cx="109.5" cy="582.6" r="0.65"/><circle cx="108.3" cy="585.1" r="0.65"/><circle cx="109.5" cy="585.3" r="0.65"/><circle cx="109.4" cy="585.5" r="0.65"/></g>
<path d="M64,600 L66,599 L67,606 L70.5,608 L70,611 L65,611 L63.5,606 Z" fill="#f0606a"/>
<circle cx="56.5" cy="587.9" r="0.8" fill="#f0606a"/><circle cx="58" cy="588.4" r="0.7" fill="#f0606a"/>
<circle cx="87.4" cy="629.3" r="0.9" fill="#f0606a"/>
<path d="M44.7,539.5 C45.8,538.4 53.1,537.1 54.3,537.3 C55.5,537.5 56.3,540.3 56.5,541.6 C56.7,542.9 56.9,548.5 56.5,550.2 C56.1,551.9 53.3,557.3 52.2,558.8 C51.1,560.3 46.8,564.8 45.7,565.3 C44.6,565.8 41.8,565.3 41.4,564.2 C41.0,563.1 41.2,556.1 41.4,554.5 C41.6,552.9 43.3,549.6 43.6,548.1 C43.9,546.6 43.6,540.6 44.7,539.5 Z" fill="#3fc1bf" filter="url(#rough)"/>
<path d="M78.0,582.5 C78.2,581.6 79.9,586.2 81.2,586.8 C82.5,587.4 89.1,588.4 90.9,588.9 C92.7,589.4 98.2,591.3 99.5,592.2 C100.8,593.1 103.8,596.4 103.8,597.5 C103.8,598.6 101.0,602.2 99.5,602.9 C98.0,603.5 90.4,604.0 88.7,604.0 C87.0,604.0 83.3,603.8 82.3,602.9 C81.3,602.0 79.5,597.4 79.1,595.4 C78.7,593.4 77.8,583.4 78.0,582.5 Z" fill="#3fc1bf" filter="url(#rough)"/>
<path d="M114.5,567.4 C115.4,566.5 118.8,566.5 119.9,567.4 C121.0,568.3 124.4,574.3 125.3,576.0 C126.2,577.7 128.5,583.0 128.5,584.6 C128.5,586.2 126.3,591.4 125.3,592.2 C124.3,593.0 120.1,593.0 118.8,592.2 C117.5,591.4 113.2,586.2 112.4,584.6 C111.7,583.0 111.1,577.7 111.3,576.0 C111.5,574.3 113.6,568.3 114.5,567.4 Z" fill="#3fc1bf" filter="url(#rough)"/>
<g fill="#ffffff"><circle cx="43.9" cy="556.6" r="0.55"/><circle cx="51.0" cy="550.7" r="0.55"/><circle cx="44.7" cy="559.5" r="0.55"/><circle cx="53.6" cy="551.6" r="0.55"/><circle cx="49.0" cy="543.9" r="0.55"/><circle cx="50.2" cy="539.2" r="0.55"/><circle cx="53.4" cy="543.8" r="0.55"/><circle cx="48.9" cy="540.5" r="0.55"/><circle cx="55.8" cy="547.6" r="0.55"/><circle cx="43.7" cy="560.2" r="0.55"/><circle cx="43.3" cy="563.3" r="0.55"/><circle cx="48.2" cy="552.8" r="0.55"/><circle cx="46.6" cy="550.9" r="0.55"/><circle cx="54.5" cy="543.9" r="0.55"/></g>
<g fill="#ffffff"><circle cx="114.5" cy="570.4" r="0.55"/><circle cx="122.5" cy="576.0" r="0.55"/><circle cx="121.6" cy="590.5" r="0.55"/><circle cx="123.1" cy="590.3" r="0.55"/><circle cx="126.5" cy="582.0" r="0.55"/><circle cx="116.6" cy="572.1" r="0.55"/><circle cx="125.9" cy="581.9" r="0.55"/><circle cx="127.4" cy="586.6" r="0.55"/><circle cx="123.3" cy="582.6" r="0.55"/><circle cx="116.7" cy="586.8" r="0.55"/><circle cx="127.7" cy="583.5" r="0.55"/><circle cx="122.8" cy="572.0" r="0.55"/><circle cx="112.1" cy="580.6" r="0.55"/><circle cx="120.0" cy="580.2" r="0.55"/></g>
<g fill="#ffffff"><circle cx="93.7" cy="592.5" r="0.50"/><circle cx="83.8" cy="592.9" r="0.50"/><circle cx="84.6" cy="593.1" r="0.50"/><circle cx="96.6" cy="592.4" r="0.50"/><circle cx="91.8" cy="598.7" r="0.50"/><circle cx="98.4" cy="595.8" r="0.50"/><circle cx="95.4" cy="596.4" r="0.50"/><circle cx="93.2" cy="597.2" r="0.50"/></g>
<path d="M40.4,545.9 C41.0,542.8 42.2,539.8 43.6,538.4 C45.0,537.0 48.1,536.3 50.0,536.3 C51.9,536.3 55.4,536.6 56.5,538.4 C57.6,540.2 57.8,545.0 57.6,548.1 C57.4,551.2 56.9,555.9 55.4,558.8 C53.9,561.7 50.0,565.9 47.9,567.4 C45.8,568.9 42.6,569.8 41.4,568.5 C40.2,567.2 39.9,562.2 39.7,558.8 C39.6,555.4 39.8,549.0 40.4,545.9 Z" fill="none" stroke="#222" stroke-width="1.3" stroke-dasharray="3.4,2.2"/>
<path d="M75.8,587.9 C76.4,586.0 77.8,584.1 80.1,583.6 C82.4,583.1 87.3,583.6 90.9,584.6 C94.5,585.6 101.3,588.1 103.8,590.0 C106.3,591.9 107.7,595.2 107.7,597.5 C107.7,599.8 106.0,603.4 103.8,605.0 C101.6,606.6 96.4,608.3 93.0,608.3 C89.6,608.3 83.7,606.8 81.2,605.0 C78.7,603.2 77.1,599.1 76.3,596.5 C75.5,593.9 75.2,589.8 75.8,587.9 Z" fill="none" stroke="#222" stroke-width="1.3" stroke-dasharray="3.4,2.2"/>
<path d="M110.2,569.6 C111.3,568.0 114.6,565.5 116.7,565.3 C118.8,565.1 122.4,566.6 124.2,568.5 C126.0,570.4 127.7,575.5 128.5,578.2 C129.3,580.9 130.1,584.5 129.6,586.8 C129.1,589.0 127.1,592.4 125.3,593.2 C123.5,594.0 119.9,593.5 117.8,592.2 C115.7,590.9 112.6,587.0 111.3,584.6 C110.0,582.2 109.4,578.2 109.2,576.0 C109.0,573.8 109.1,571.2 110.2,569.6 Z" fill="none" stroke="#222" stroke-width="1.3" stroke-dasharray="3.4,2.2"/>
<path d="M205.9,491.2 C206.9,490.6 210.7,488.3 212.3,488.0 C213.9,487.7 220.0,487.9 221.9,488.0 C223.8,488.1 229.8,488.9 231.6,488.8 C233.4,488.7 237.8,487.4 239.6,487.2 C241.4,487.0 248.1,486.5 249.2,486.7 C250.3,486.9 251.0,488.3 250.8,488.8 C250.6,489.3 248.9,491.5 247.6,492.0 C246.3,492.5 239.8,493.3 238.0,493.7 C236.2,494.1 231.4,495.7 230.0,496.1 C228.6,496.5 225.1,497.5 223.5,497.7 C221.9,497.9 215.5,497.5 213.9,497.7 C212.3,497.9 208.5,499.3 207.5,500.1 C206.5,500.9 204.6,504.6 204.3,505.7 C204.0,506.8 203.9,510.3 204.3,511.3 C204.7,512.3 207.4,514.5 208.3,515.3 C209.2,516.1 212.4,518.5 213.1,519.3 C213.8,520.1 215.5,522.8 215.5,523.4 C215.5,524.0 213.7,525.2 213.1,525.0 C212.5,524.8 210.0,522.6 209.1,521.8 C208.2,521.0 205.3,517.6 204.3,516.9 C203.3,516.2 199.6,515.0 198.7,514.5 C197.8,514.0 195.6,513.0 195.4,512.1 C195.2,511.2 196.6,507.0 197.0,505.7 C197.4,504.4 198.9,500.4 199.5,499.3 C200.1,498.2 202.1,495.3 202.7,494.5 C203.3,493.7 204.9,491.8 205.9,491.2 Z" fill="#f0606a" filter="url(#rough)"/>
<path d="M245.2,525.8 C245.8,525.0 250.9,525.4 252.4,525.0 C253.9,524.6 259.1,522.7 260.5,521.8 C261.9,520.9 265.5,516.4 266.9,516.1 C268.3,515.8 273.3,517.6 274.9,518.5 C276.5,519.4 281.6,523.4 283.0,525.0 C284.4,526.6 287.8,532.7 288.6,534.6 C289.4,536.5 290.9,542.5 291.0,544.2 C291.1,545.9 290.4,551.0 289.4,551.5 C288.4,552.0 283.2,549.7 281.4,549.1 C279.6,548.5 273.6,546.4 271.7,545.8 C269.8,545.1 264.0,543.4 262.1,542.6 C260.2,541.8 254.0,538.8 252.4,537.8 C250.8,536.8 246.7,534.2 246.0,533.0 C245.3,531.8 244.6,526.6 245.2,525.8 Z" fill="#f0606a" filter="url(#rough)"/>
<path d="M257.3,526.6 C257.8,525.4 260.6,523.3 262.1,522.6 C263.6,521.9 267.0,520.9 268.5,521.0 C270.0,521.1 272.8,522.0 273.3,523.4 C273.8,524.8 273.1,529.8 272.5,531.4 C271.9,533.0 269.9,535.0 268.5,535.4 C267.1,535.8 263.5,535.1 262.1,534.6 C260.7,534.1 258.7,532.5 258.1,531.4 C257.5,530.3 256.8,527.8 257.3,526.6 Z" fill="#fff" filter="url(#rough)"/>
<path d="M190.8,541.5 C191.4,540.5 195.0,539.5 196.2,539.2 C197.4,538.9 201.7,539.0 202.7,538.6 C203.7,538.2 205.9,535.4 206.5,535.0 C207.1,534.6 208.1,534.4 208.5,534.8 C208.9,535.2 209.8,538.7 210.7,539.0 C211.6,539.3 215.9,537.9 217.1,537.5 C218.3,537.1 221.9,535.6 222.7,534.6 C223.5,533.6 224.5,528.2 225.1,527.5 C225.7,526.8 228.0,526.4 228.4,527.8 C228.8,529.1 228.9,538.9 229.2,541.0 C229.5,543.1 231.5,547.2 231.8,549.1 C232.1,551.0 232.1,558.5 231.8,560.3 C231.5,562.1 230.1,565.7 229.0,566.7 C227.9,567.7 222.5,570.1 221.0,570.2 C219.5,570.3 215.2,568.5 214.0,568.0 C212.8,567.5 210.1,565.5 209.0,565.0 C207.9,564.5 204.7,563.0 203.5,562.5 C202.3,562.0 198.1,560.2 197.0,559.5 C195.9,558.8 192.8,556.5 192.2,555.5 C191.5,554.5 190.6,550.5 190.5,549.1 C190.4,547.7 190.2,542.5 190.8,541.5 Z" fill="#f0606a" filter="url(#rough)"/>
<circle cx="211.5" cy="518.6" r="0.7" fill="#f0606a"/>
<circle cx="221.5" cy="527.3" r="0.7" fill="#f0606a"/>
<circle cx="222.5" cy="528.5" r="0.7" fill="#f0606a"/>
<circle cx="200.3" cy="526.6" r="0.7" fill="#f0606a"/>
<circle cx="199.0" cy="527.5" r="0.7" fill="#f0606a"/>
<circle cx="218.0" cy="532.5" r="0.7" fill="#f0606a"/>
<circle cx="212.0" cy="533.0" r="0.7" fill="#f0606a"/>
<path d="M231,577 L236,579 L246,586 L245,589 L239,586 L231,580 Z" fill="#f0606a"/>
<path d="M185.5,585 L192,584 L193,588 L188,589 Z" fill="#f0606a"/>
<path d="M196.5,601 L198,601 L198.5,606 L201.5,608.5 L200,612 L196,611 L195.5,606 Z" fill="#f0606a"/>
<g fill="#3fc1bf"><circle cx="186.0" cy="542.6" r="0.65"/><circle cx="186.1" cy="539.7" r="0.65"/><circle cx="187.1" cy="539.1" r="0.65"/><circle cx="185.3" cy="541.3" r="0.65"/><circle cx="190.0" cy="544.8" r="0.65"/><circle cx="183.3" cy="540.7" r="0.65"/><circle cx="187.4" cy="542.9" r="0.65"/><circle cx="187.6" cy="545.6" r="0.65"/><circle cx="179.9" cy="547.0" r="0.65"/><circle cx="186.6" cy="537.6" r="0.65"/><circle cx="183.1" cy="548.7" r="0.65"/><circle cx="182.4" cy="544.1" r="0.65"/><circle cx="184.1" cy="537.8" r="0.65"/><circle cx="186.2" cy="548.0" r="0.65"/><circle cx="180.2" cy="539.9" r="0.65"/><circle cx="185.0" cy="547.6" r="0.65"/><circle cx="187.2" cy="543.9" r="0.65"/><circle cx="185.9" cy="541.9" r="0.65"/><circle cx="186.4" cy="538.5" r="0.65"/><circle cx="180.3" cy="547.5" r="0.65"/><circle cx="183.8" cy="540.2" r="0.65"/><circle cx="181.8" cy="545.0" r="0.65"/><circle cx="180.5" cy="538.6" r="0.65"/><circle cx="184.4" cy="539.1" r="0.65"/><circle cx="187.1" cy="547.7" r="0.65"/><circle cx="188.9" cy="543.2" r="0.65"/><circle cx="182.9" cy="542.7" r="0.65"/><circle cx="178.1" cy="546.3" r="0.65"/><circle cx="182.6" cy="541.2" r="0.65"/><circle cx="179.1" cy="542.8" r="0.65"/></g>
<g fill="#3fc1bf"><circle cx="211.2" cy="588.4" r="0.65"/><circle cx="211.6" cy="588.8" r="0.65"/><circle cx="209.3" cy="587.7" r="0.65"/><circle cx="212.4" cy="591.9" r="0.65"/><circle cx="208.7" cy="584.6" r="0.65"/><circle cx="212.9" cy="580.6" r="0.65"/><circle cx="212.6" cy="589.2" r="0.65"/><circle cx="209.1" cy="580.2" r="0.65"/><circle cx="211.7" cy="580.9" r="0.65"/><circle cx="209.3" cy="583.6" r="0.65"/><circle cx="211.1" cy="592.6" r="0.65"/><circle cx="211.6" cy="589.6" r="0.65"/><circle cx="211.5" cy="589.9" r="0.65"/><circle cx="211.2" cy="584.2" r="0.65"/><circle cx="213.9" cy="590.6" r="0.65"/><circle cx="210.2" cy="583.4" r="0.65"/><circle cx="210.0" cy="581.1" r="0.65"/><circle cx="213.4" cy="586.0" r="0.65"/><circle cx="214.7" cy="592.7" r="0.65"/><circle cx="213.4" cy="584.0" r="0.65"/><circle cx="208.8" cy="583.7" r="0.65"/><circle cx="208.7" cy="580.9" r="0.65"/><circle cx="211.9" cy="586.7" r="0.65"/><circle cx="209.5" cy="584.0" r="0.65"/><circle cx="210.1" cy="593.3" r="0.65"/><circle cx="209.5" cy="585.9" r="0.65"/><circle cx="214.0" cy="589.6" r="0.65"/><circle cx="209.5" cy="583.9" r="0.65"/></g>
<g fill="#3fc1bf"><circle cx="230.3" cy="596.9" r="0.65"/><circle cx="231.7" cy="592.3" r="0.65"/><circle cx="228.9" cy="598.3" r="0.65"/><circle cx="231.8" cy="596.4" r="0.65"/><circle cx="230.9" cy="597.0" r="0.65"/><circle cx="228.0" cy="595.0" r="0.65"/><circle cx="229.4" cy="594.6" r="0.65"/><circle cx="232.9" cy="591.2" r="0.65"/><circle cx="230.6" cy="591.8" r="0.65"/><circle cx="227.9" cy="593.8" r="0.65"/><circle cx="231.4" cy="592.5" r="0.65"/><circle cx="231.9" cy="591.5" r="0.65"/><circle cx="229.8" cy="594.8" r="0.65"/><circle cx="231.2" cy="595.3" r="0.65"/><circle cx="229.7" cy="591.3" r="0.65"/><circle cx="229.5" cy="594.3" r="0.65"/><circle cx="231.8" cy="597.1" r="0.65"/><circle cx="227.8" cy="593.1" r="0.65"/><circle cx="229.5" cy="595.6" r="0.65"/><circle cx="232.7" cy="595.5" r="0.65"/></g>
<g fill="#3fc1bf"><circle cx="246.7" cy="580.7" r="0.65"/><circle cx="250.3" cy="584.0" r="0.65"/><circle cx="246.1" cy="571.6" r="0.65"/><circle cx="245.8" cy="571.5" r="0.65"/><circle cx="250.7" cy="569.6" r="0.65"/><circle cx="249.0" cy="571.3" r="0.65"/><circle cx="247.0" cy="575.6" r="0.65"/><circle cx="251.6" cy="579.2" r="0.65"/><circle cx="251.4" cy="583.1" r="0.65"/><circle cx="251.5" cy="581.9" r="0.65"/><circle cx="246.7" cy="584.0" r="0.65"/><circle cx="248.6" cy="582.1" r="0.65"/><circle cx="249.3" cy="575.6" r="0.65"/><circle cx="247.6" cy="575.6" r="0.65"/><circle cx="247.2" cy="569.3" r="0.65"/><circle cx="251.5" cy="583.0" r="0.65"/><circle cx="249.2" cy="582.0" r="0.65"/><circle cx="245.6" cy="580.5" r="0.65"/><circle cx="248.3" cy="570.5" r="0.65"/><circle cx="246.2" cy="577.5" r="0.65"/><circle cx="246.7" cy="576.2" r="0.65"/><circle cx="249.6" cy="574.9" r="0.65"/><circle cx="245.6" cy="576.8" r="0.65"/><circle cx="246.5" cy="571.7" r="0.65"/><circle cx="246.2" cy="574.3" r="0.65"/><circle cx="244.9" cy="569.8" r="0.65"/><circle cx="251.4" cy="583.8" r="0.65"/><circle cx="249.9" cy="570.2" r="0.65"/><circle cx="248.0" cy="584.4" r="0.65"/><circle cx="246.2" cy="584.1" r="0.65"/><circle cx="247.7" cy="581.3" r="0.65"/><circle cx="249.6" cy="581.5" r="0.65"/><circle cx="246.3" cy="579.3" r="0.65"/><circle cx="249.4" cy="578.8" r="0.65"/><circle cx="247.6" cy="581.6" r="0.65"/><circle cx="247.4" cy="572.9" r="0.65"/><circle cx="245.9" cy="580.7" r="0.65"/><circle cx="245.5" cy="571.5" r="0.65"/><circle cx="249.2" cy="577.9" r="0.65"/><circle cx="247.4" cy="568.9" r="0.65"/><circle cx="245.5" cy="573.0" r="0.65"/><circle cx="246.8" cy="578.9" r="0.65"/><circle cx="247.6" cy="583.7" r="0.65"/><circle cx="248.7" cy="586.4" r="0.65"/><circle cx="248.9" cy="576.5" r="0.65"/><circle cx="250.2" cy="572.9" r="0.65"/><circle cx="252.2" cy="581.8" r="0.65"/><circle cx="246.7" cy="580.7" r="0.65"/><circle cx="251.7" cy="572.2" r="0.65"/><circle cx="249.5" cy="574.1" r="0.65"/></g>
<path d="M170.4,543.8 C170.9,540.4 171.7,532.8 173.6,529.8 C175.5,526.8 180.6,524.5 183.3,524.0 C186.0,523.5 190.4,524.6 191.9,526.6 C193.4,528.6 193.5,533.4 193.0,537.3 C192.5,541.2 190.5,548.8 188.6,552.4 C186.7,556.0 182.4,559.7 180.0,561.0 C177.6,562.3 173.9,562.3 172.5,561.0 C171.1,559.7 170.7,555.0 170.4,552.4 C170.1,549.8 169.9,547.2 170.4,543.8 Z" fill="none" stroke="#222" stroke-width="1.3" stroke-dasharray="3.4,2.2"/>
<path d="M203.7,583.6 C205.0,581.9 209.4,579.7 212.3,579.7 C215.2,579.7 220.1,582.4 223.0,583.6 C225.9,584.8 229.9,586.1 231.6,587.9 C233.3,589.7 234.5,593.1 234.2,595.4 C233.9,597.6 231.8,601.6 229.5,602.9 C227.2,604.2 221.9,604.6 218.7,604.0 C215.5,603.4 210.3,600.5 208.0,598.6 C205.7,596.7 203.9,593.4 203.3,591.1 C202.7,588.9 202.3,585.3 203.7,583.6 Z" fill="none" stroke="#222" stroke-width="1.3" stroke-dasharray="3.4,2.2"/>
<path d="M243.5,564.2 C244.6,561.9 247.8,559.0 249.9,558.8 C252.0,558.6 255.7,560.8 257.4,563.1 C259.1,565.4 261.0,570.7 261.3,573.9 C261.6,577.1 260.8,582.5 259.6,584.6 C258.4,586.7 255.0,588.0 253.1,587.9 C251.2,587.8 248.2,585.7 246.7,583.6 C245.2,581.5 243.3,576.8 242.8,573.9 C242.3,571.0 242.4,566.5 243.5,564.2 Z" fill="none" stroke="#222" stroke-width="1.3" stroke-dasharray="3.4,2.2"/>
<line x1="35.9" y1="480" x2="35.9" y2="618.4" stroke="#222" stroke-width="1.2"/>
<line x1="35.3" y1="617.9" x2="166" y2="617.9" stroke="#222" stroke-width="1.2"/>
<line x1="167.4" y1="617.9" x2="297.3" y2="617.9" stroke="#222" stroke-width="1.2"/>
<line x1="168.5" y1="470" x2="168.5" y2="607" stroke="#222" stroke-width="1.2"/>
<line x1="34" y1="496.1" x2="35.9" y2="496.1" stroke="#222" stroke-width="0.7"/>
<text x="33.5" y="498.3" font-size="6.3" text-anchor="end" fill="#333" font-weight="normal" stroke="#333" stroke-width="0.14" >10</text>
<line x1="34" y1="521.2" x2="35.9" y2="521.2" stroke="#222" stroke-width="0.7"/>
<text x="33.5" y="523.5" font-size="6.3" text-anchor="end" fill="#333" font-weight="normal" stroke="#333" stroke-width="0.14" >5</text>
<line x1="34" y1="546.4" x2="35.9" y2="546.4" stroke="#222" stroke-width="0.7"/>
<text x="33.5" y="548.6" font-size="6.3" text-anchor="end" fill="#333" font-weight="normal" stroke="#333" stroke-width="0.14" >0</text>
<line x1="34" y1="571.5" x2="35.9" y2="571.5" stroke="#222" stroke-width="0.7"/>
<text x="33.5" y="573.8" font-size="6.3" text-anchor="end" fill="#333" font-weight="normal" stroke="#333" stroke-width="0.14" >−5</text>
<line x1="34" y1="596.7" x2="35.9" y2="596.7" stroke="#222" stroke-width="0.7"/>
<text x="33.5" y="598.9" font-size="6.3" text-anchor="end" fill="#333" font-weight="normal" stroke="#333" stroke-width="0.14" >−10</text>
<line x1="38.0" y1="617.9" x2="38.0" y2="619.6" stroke="#222" stroke-width="0.7"/>
<text x="38.0" y="625.0" font-size="6.3" text-anchor="middle" fill="#333" font-weight="normal" stroke="#333" stroke-width="0.14" >−15</text>
<line x1="59.2" y1="617.9" x2="59.2" y2="619.6" stroke="#222" stroke-width="0.7"/>
<text x="59.2" y="625.0" font-size="6.3" text-anchor="middle" fill="#333" font-weight="normal" stroke="#333" stroke-width="0.14" >−10</text>
<line x1="80.5" y1="617.9" x2="80.5" y2="619.6" stroke="#222" stroke-width="0.7"/>
<text x="80.5" y="625.0" font-size="6.3" text-anchor="middle" fill="#333" font-weight="normal" stroke="#333" stroke-width="0.14" >−5</text>
<line x1="101.7" y1="617.9" x2="101.7" y2="619.6" stroke="#222" stroke-width="0.7"/>
<text x="101.7" y="625.0" font-size="6.3" text-anchor="middle" fill="#333" font-weight="normal" stroke="#333" stroke-width="0.14" >0</text>
<line x1="123.0" y1="617.9" x2="123.0" y2="619.6" stroke="#222" stroke-width="0.7"/>
<text x="123.0" y="625.0" font-size="6.3" text-anchor="middle" fill="#333" font-weight="normal" stroke="#333" stroke-width="0.14" >5</text>
<line x1="144.2" y1="617.9" x2="144.2" y2="619.6" stroke="#222" stroke-width="0.7"/>
<text x="144.2" y="625.0" font-size="6.3" text-anchor="middle" fill="#333" font-weight="normal" stroke="#333" stroke-width="0.14" >10</text>
<line x1="170.2" y1="617.9" x2="170.2" y2="619.6" stroke="#222" stroke-width="0.7"/>
<text x="170.2" y="625.0" font-size="6.3" text-anchor="middle" fill="#333" font-weight="normal" stroke="#333" stroke-width="0.14" >−15</text>
<line x1="191.4" y1="617.9" x2="191.4" y2="619.6" stroke="#222" stroke-width="0.7"/>
<text x="191.4" y="625.0" font-size="6.3" text-anchor="middle" fill="#333" font-weight="normal" stroke="#333" stroke-width="0.14" >−10</text>
<line x1="212.7" y1="617.9" x2="212.7" y2="619.6" stroke="#222" stroke-width="0.7"/>
<text x="212.7" y="625.0" font-size="6.3" text-anchor="middle" fill="#333" font-weight="normal" stroke="#333" stroke-width="0.14" >−5</text>
<line x1="233.9" y1="617.9" x2="233.9" y2="619.6" stroke="#222" stroke-width="0.7"/>
<text x="233.9" y="625.0" font-size="6.3" text-anchor="middle" fill="#333" font-weight="normal" stroke="#333" stroke-width="0.14" >0</text>
<line x1="255.2" y1="617.9" x2="255.2" y2="619.6" stroke="#222" stroke-width="0.7"/>
<text x="255.2" y="625.0" font-size="6.3" text-anchor="middle" fill="#333" font-weight="normal" stroke="#333" stroke-width="0.14" >5</text>
<line x1="276.4" y1="617.9" x2="276.4" y2="619.6" stroke="#222" stroke-width="0.7"/>
<text x="276.4" y="625.0" font-size="6.3" text-anchor="middle" fill="#333" font-weight="normal" stroke="#333" stroke-width="0.14" >10</text>
<text x="164.0" y="646.0" font-size="13" text-anchor="middle" fill="#111" font-weight="normal" stroke="#111" stroke-width="0.29" >UMAP_1</text>
<text x="23.6" y="541.3" font-size="11.3" text-anchor="middle" fill="#111" font-weight="normal" textLength="43.0" lengthAdjust="spacingAndGlyphs" transform="rotate(-90 23.6 541.3)" stroke="#111" stroke-width="0.25" >UMAP_2</text>
<text x="99.0" y="474.3" font-size="10.8" text-anchor="middle" fill="#222" font-weight="normal" stroke="#222" stroke-width="0.24" >Dx</text>
<text x="236.6" y="474.3" font-size="10.8" text-anchor="middle" fill="#222" font-weight="normal" stroke="#222" stroke-width="0.24" >EOI</text>
<circle cx="275.3" cy="600.8" r="1.5" fill="#3fc1bf"/>
<circle cx="276.2" cy="612" r="1.5" fill="#f0606a"/>
<text x="277.8" y="603.9" font-size="7.2" text-anchor="start" fill="#333" font-weight="normal" stroke="#333" stroke-width="0.16" >Dx−enriched</text>
<text x="278.0" y="615.1" font-size="7.2" text-anchor="start" fill="#333" font-weight="normal" stroke="#333" stroke-width="0.16" >EOI−enriched</text>
<text x="1.9" y="472.0" font-size="16" font-weight="bold" fill="#111" stroke="#111" stroke-width="0.45">d</text><rect x="14.0" y="468.6" width="3.2" height="3.4" fill="#111"/>
<rect x="376.00" y="258.20" width="24.70" height="7.86" fill="#8a78f0"/>
<rect x="400.60" y="258.20" width="14.10" height="7.86" fill="#9484f0"/>
<rect x="414.60" y="258.20" width="51.30" height="7.86" fill="#9a88f0"/>
<rect x="465.80" y="258.20" width="9.20" height="7.86" fill="#9a88f0"/>
<rect x="474.90" y="258.20" width="28.20" height="7.86" fill="#a490ec"/>
<rect x="503.00" y="258.20" width="62.90" height="7.86" fill="#a08ef0"/>
<rect x="565.80" y="258.20" width="7.90" height="7.86" fill="#f01020"/>
<rect x="573.60" y="258.20" width="17.80" height="7.86" fill="#6a5cf5"/>
<rect x="591.30" y="258.20" width="21.90" height="7.86" fill="#d080b0"/>
<rect x="613.10" y="258.20" width="10.20" height="7.86" fill="#f01525"/>
<text x="371.4" y="265.3" font-size="9" text-anchor="end" fill="#505050" font-weight="normal" textLength="20.6" lengthAdjust="spacingAndGlyphs" stroke="#505050" stroke-width="0.06" >AZU1</text>
<rect x="376.00" y="265.96" width="24.70" height="7.86" fill="#d0c0f8"/>
<rect x="400.60" y="265.96" width="14.10" height="7.86" fill="#d0c0f8"/>
<rect x="414.60" y="265.96" width="51.30" height="7.86" fill="#d0c0f8"/>
<rect x="465.80" y="265.96" width="9.20" height="7.86" fill="#b090f0"/>
<rect x="474.90" y="265.96" width="28.20" height="7.86" fill="#d8c8f8"/>
<rect x="503.00" y="265.96" width="62.90" height="7.86" fill="#d0c0f8"/>
<rect x="565.80" y="265.96" width="7.90" height="7.86" fill="#d8c8f0"/>
<rect x="573.60" y="265.96" width="17.80" height="7.86" fill="#f0e8f5"/>
<rect x="591.30" y="265.96" width="21.90" height="7.86" fill="#e03040"/>
<rect x="613.10" y="265.96" width="10.20" height="7.86" fill="#e0b0d0"/>
<text x="371.4" y="273.0" font-size="9" text-anchor="end" fill="#505050" font-weight="normal" textLength="16.6" lengthAdjust="spacingAndGlyphs" stroke="#505050" stroke-width="0.06" >TRH</text>
<rect x="376.00" y="273.73" width="24.70" height="7.86" fill="#c0a0e8"/>
<rect x="400.60" y="273.73" width="14.10" height="7.86" fill="#c0a0e8"/>
<rect x="414.60" y="273.73" width="51.30" height="7.86" fill="#c0a0e8"/>
<rect x="465.80" y="273.73" width="9.20" height="7.86" fill="#c0a0e8"/>
<rect x="474.90" y="273.73" width="28.20" height="7.86" fill="#bc9ce8"/>
<rect x="503.00" y="273.73" width="62.90" height="7.86" fill="#c4a0e4"/>
<rect x="565.80" y="273.73" width="7.90" height="7.86" fill="#e0b8d8"/>
<rect x="573.60" y="273.73" width="17.80" height="7.86" fill="#f4a8a8"/>
<rect x="591.30" y="273.73" width="21.90" height="7.86" fill="#e85060"/>
<rect x="613.10" y="273.73" width="10.20" height="7.86" fill="#d8c8f0"/>
<text x="371.4" y="280.8" font-size="9" text-anchor="end" fill="#505050" font-weight="normal" textLength="21.5" lengthAdjust="spacingAndGlyphs" stroke="#505050" stroke-width="0.06" >TUBB</text>
<rect x="376.00" y="281.49" width="24.70" height="7.86" fill="#b090e8"/>
<rect x="400.60" y="281.49" width="14.10" height="7.86" fill="#c898d8"/>
<rect x="414.60" y="281.49" width="51.30" height="7.86" fill="#b094e8"/>
<rect x="465.80" y="281.49" width="9.20" height="7.86" fill="#c0a0e0"/>
<rect x="474.90" y="281.49" width="28.20" height="7.86" fill="#c49ada"/>
<rect x="503.00" y="281.49" width="62.90" height="7.86" fill="#b090e8"/>
<rect x="565.80" y="281.49" width="7.90" height="7.86" fill="#b0a0f8"/>
<rect x="573.60" y="281.49" width="17.80" height="7.86" fill="#eab8c8"/>
<rect x="591.30" y="281.49" width="21.90" height="7.86" fill="#f03030"/>
<rect x="613.10" y="281.49" width="10.20" height="7.86" fill="#e0c8e8"/>
<text x="371.4" y="288.6" font-size="9" text-anchor="end" fill="#505050" font-weight="normal" textLength="40.9" lengthAdjust="spacingAndGlyphs" stroke="#505050" stroke-width="0.06" >HLA−DPA1</text>
<rect x="376.00" y="289.25" width="24.70" height="7.86" fill="#e8d0f0"/>
<rect x="400.60" y="289.25" width="14.10" height="7.86" fill="#e8d0f0"/>
<rect x="414.60" y="289.25" width="51.30" height="7.86" fill="#e8d0f0"/>
<rect x="465.80" y="289.25" width="9.20" height="7.86" fill="#f0c8d8"/>
<rect x="474.90" y="289.25" width="28.20" height="7.86" fill="#e8d0f0"/>
<rect x="503.00" y="289.25" width="62.90" height="7.86" fill="#e8d0f0"/>
<rect x="565.80" y="289.25" width="7.90" height="7.86" fill="#e8c8e0"/>
<rect x="573.60" y="289.25" width="17.80" height="7.86" fill="#f58080"/>
<rect x="591.30" y="289.25" width="21.90" height="7.86" fill="#f4a0a0"/>
<rect x="613.10" y="289.25" width="10.20" height="7.86" fill="#dcc8f0"/>
<text x="371.4" y="296.3" font-size="9" text-anchor="end" fill="#505050" font-weight="normal" textLength="21.5" lengthAdjust="spacingAndGlyphs" stroke="#505050" stroke-width="0.06" >CALR</text>
<rect x="376.00" y="297.01" width="24.70" height="7.86" fill="#ecd0ec"/>
<rect x="400.60" y="297.01" width="14.10" height="7.86" fill="#ecd0ec"/>
<rect x="414.60" y="297.01" width="51.30" height="7.86" fill="#ecd0ec"/>
<rect x="465.80" y="297.01" width="9.20" height="7.86" fill="#f4b8b8"/>
<rect x="474.90" y="297.01" width="28.20" height="7.86" fill="#ecd0ec"/>
<rect x="503.00" y="297.01" width="62.90" height="7.86" fill="#ecd0ec"/>
<rect x="565.80" y="297.01" width="7.90" height="7.86" fill="#f8b0a8"/>
<rect x="573.60" y="297.01" width="17.80" height="7.86" fill="#f8a8a0"/>
<rect x="591.30" y="297.01" width="21.90" height="7.86" fill="#f49890"/>
<rect x="613.10" y="297.01" width="10.20" height="7.86" fill="#f4b0a8"/>
<text x="371.4" y="304.1" font-size="9" text-anchor="end" fill="#505050" font-weight="normal" textLength="29.2" lengthAdjust="spacingAndGlyphs" stroke="#505050" stroke-width="0.06" >HMGN1</text>
<rect x="376.00" y="304.78" width="24.70" height="7.86" fill="#d8c0f0"/>
<rect x="400.60" y="304.78" width="14.10" height="7.86" fill="#d8c0f0"/>
<rect x="414.60" y="304.78" width="51.30" height="7.86" fill="#d8c0f0"/>
<rect x="465.80" y="304.78" width="9.20" height="7.86" fill="#b898e8"/>
<rect x="474.90" y="304.78" width="28.20" height="7.86" fill="#d8c0f0"/>
<rect x="503.00" y="304.78" width="62.90" height="7.86" fill="#d8c0f0"/>
<rect x="565.80" y="304.78" width="7.90" height="7.86" fill="#e0c8ec"/>
<rect x="573.60" y="304.78" width="17.80" height="7.86" fill="#f0e8f8"/>
<rect x="591.30" y="304.78" width="21.90" height="7.86" fill="#e04050"/>
<rect x="613.10" y="304.78" width="10.20" height="7.86" fill="#e8b8d0"/>
<text x="371.4" y="311.9" font-size="9" text-anchor="end" fill="#505050" font-weight="normal" textLength="29.2" lengthAdjust="spacingAndGlyphs" stroke="#505050" stroke-width="0.06" >PDLIM1</text>
<rect x="376.00" y="312.54" width="24.70" height="7.86" fill="#f4dcec"/>
<rect x="400.60" y="312.54" width="14.10" height="7.86" fill="#f4dcec"/>
<rect x="414.60" y="312.54" width="51.30" height="7.86" fill="#f4dcec"/>
<rect x="465.80" y="312.54" width="9.20" height="7.86" fill="#f4dcec"/>
<rect x="474.90" y="312.54" width="28.20" height="7.86" fill="#f0e0f0"/>
<rect x="503.00" y="312.54" width="62.90" height="7.86" fill="#e8d8f0"/>
<rect x="565.80" y="312.54" width="7.90" height="7.86" fill="#e8d0f0"/>
<rect x="573.60" y="312.54" width="17.80" height="7.86" fill="#fbc0b0"/>
<rect x="591.30" y="312.54" width="21.90" height="7.86" fill="#fbc0b0"/>
<rect x="613.10" y="312.54" width="10.20" height="7.86" fill="#fbcfc0"/>
<text x="371.4" y="319.6" font-size="9" text-anchor="end" fill="#505050" font-weight="normal" textLength="25.6" lengthAdjust="spacingAndGlyphs" stroke="#505050" stroke-width="0.06" >RPL7A</text>
<rect x="376.00" y="320.30" width="24.70" height="7.86" fill="#f0dcf0"/>
<rect x="400.60" y="320.30" width="14.10" height="7.86" fill="#f0dcf0"/>
<rect x="414.60" y="320.30" width="51.30" height="7.86" fill="#f0dcf0"/>
<rect x="465.80" y="320.30" width="9.20" height="7.86" fill="#f0dcf0"/>
<rect x="474.90" y="320.30" width="28.20" height="7.86" fill="#f8e8f0"/>
<rect x="503.00" y="320.30" width="62.90" height="7.86" fill="#ecd4ec"/>
<rect x="565.80" y="320.30" width="7.90" height="7.86" fill="#f0c0d0"/>
<rect x="573.60" y="320.30" width="17.80" height="7.86" fill="#f8e8ee"/>
<rect x="591.30" y="320.30" width="21.90" height="7.86" fill="#fcc8b8"/>
<rect x="613.10" y="320.30" width="10.20" height="7.86" fill="#f8a090"/>
<text x="371.4" y="327.4" font-size="9" text-anchor="end" fill="#505050" font-weight="normal" textLength="25.6" lengthAdjust="spacingAndGlyphs" stroke="#505050" stroke-width="0.06" >RPS24</text>
<rect x="376.00" y="328.07" width="24.70" height="7.86" fill="#e4d4f8"/>
<rect x="400.60" y="328.07" width="14.10" height="7.86" fill="#e4d4f8"/>
<rect x="414.60" y="328.07" width="51.30" height="7.86" fill="#e4d4f8"/>
<rect x="465.80" y="328.07" width="9.20" height="7.86" fill="#e4d4f8"/>
<rect x="474.90" y="328.07" width="28.20" height="7.86" fill="#e4d4f8"/>
<rect x="503.00" y="328.07" width="62.90" height="7.86" fill="#e4c8ec"/>
<rect x="565.80" y="328.07" width="7.90" height="7.86" fill="#e8d8f4"/>
<rect x="573.60" y="328.07" width="17.80" height="7.86" fill="#f0d0e0"/>
<rect x="591.30" y="328.07" width="21.90" height="7.86" fill="#e07090"/>
<rect x="613.10" y="328.07" width="10.20" height="7.86" fill="#eee0f4"/>
<text x="371.4" y="335.1" font-size="9" text-anchor="end" fill="#505050" font-weight="normal" textLength="22.4" lengthAdjust="spacingAndGlyphs" stroke="#505050" stroke-width="0.06" >TYMS</text>
<rect x="376.00" y="335.83" width="24.70" height="7.86" fill="#d4a4e0"/>
<rect x="400.60" y="335.83" width="14.10" height="7.86" fill="#d4a4e0"/>
<rect x="414.60" y="335.83" width="51.30" height="7.86" fill="#ccaae8"/>
<rect x="465.80" y="335.83" width="9.20" height="7.86" fill="#dca0d0"/>
<rect x="474.90" y="335.83" width="28.20" height="7.86" fill="#d0a6e2"/>
<rect x="503.00" y="335.83" width="62.90" height="7.86" fill="#d0a6e2"/>
<rect x="565.80" y="335.83" width="7.90" height="7.86" fill="#c8b8f8"/>
<rect x="573.60" y="335.83" width="17.80" height="7.86" fill="#e8c8e8"/>
<rect x="591.30" y="335.83" width="21.90" height="7.86" fill="#f07878"/>
<rect x="613.10" y="335.83" width="10.20" height="7.86" fill="#f0a8b8"/>
<text x="371.4" y="342.9" font-size="9" text-anchor="end" fill="#505050" font-weight="normal" textLength="42.4" lengthAdjust="spacingAndGlyphs" stroke="#505050" stroke-width="0.06" >HLA−DQA1</text>
<rect x="376.00" y="343.59" width="24.70" height="7.86" fill="#f0e4f8"/>
<rect x="400.60" y="343.59" width="14.10" height="7.86" fill="#f0e4f8"/>
<rect x="414.60" y="343.59" width="51.30" height="7.86" fill="#f0e4f8"/>
<rect x="465.80" y="343.59" width="9.20" height="7.86" fill="#f0e4f8"/>
<rect x="474.90" y="343.59" width="28.20" height="7.86" fill="#f0e4f8"/>
<rect x="503.00" y="343.59" width="62.90" height="7.86" fill="#f0e4f8"/>
<rect x="565.80" y="343.59" width="7.90" height="7.86" fill="#eca0b0"/>
<rect x="573.60" y="343.59" width="17.80" height="7.86" fill="#ec98a8"/>
<rect x="591.30" y="343.59" width="21.90" height="7.86" fill="#f8d8e0"/>
<rect x="613.10" y="343.59" width="10.20" height="7.86" fill="#ec7080"/>
<text x="371.4" y="350.7" font-size="9" text-anchor="end" fill="#505050" font-weight="normal" textLength="17.5" lengthAdjust="spacingAndGlyphs" stroke="#505050" stroke-width="0.06" >MYB</text>
<rect x="376.00" y="351.36" width="24.70" height="7.86" fill="#ecc8e4"/>
<rect x="400.60" y="351.36" width="14.10" height="7.86" fill="#ecc8e4"/>
<rect x="414.60" y="351.36" width="51.30" height="7.86" fill="#ecc8e4"/>
<rect x="465.80" y="351.36" width="9.20" height="7.86" fill="#ecc8e4"/>
<rect x="474.90" y="351.36" width="28.20" height="7.86" fill="#ecc8e4"/>
<rect x="503.00" y="351.36" width="62.90" height="7.86" fill="#ecc8e4"/>
<rect x="565.80" y="351.36" width="7.90" height="7.86" fill="#f05050"/>
<rect x="573.60" y="351.36" width="17.80" height="7.86" fill="#eca8c0"/>
<rect x="591.30" y="351.36" width="21.90" height="7.86" fill="#eca0b8"/>
<rect x="613.10" y="351.36" width="10.20" height="7.86" fill="#e8c0e0"/>
<text x="371.4" y="358.4" font-size="9" text-anchor="end" fill="#505050" font-weight="normal" textLength="35.0" lengthAdjust="spacingAndGlyphs" stroke="#505050" stroke-width="0.06" >CAPRIN1</text>
<rect x="376.00" y="359.12" width="24.70" height="7.86" fill="#dcc4f0"/>
<rect x="400.60" y="359.12" width="14.10" height="7.86" fill="#dcc4f0"/>
<rect x="414.60" y="359.12" width="51.30" height="7.86" fill="#dcc4f0"/>
<rect x="465.80" y="359.12" width="9.20" height="7.86" fill="#dcc4f0"/>
<rect x="474.90" y="359.12" width="28.20" height="7.86" fill="#dcc4f0"/>
<rect x="503.00" y="359.12" width="62.90" height="7.86" fill="#e0c0e8"/>
<rect x="565.80" y="359.12" width="7.90" height="7.86" fill="#e8b8d8"/>
<rect x="573.60" y="359.12" width="17.80" height="7.86" fill="#e8d0f0"/>
<rect x="591.30" y="359.12" width="21.90" height="7.86" fill="#e86080"/>
<rect x="613.10" y="359.12" width="10.20" height="7.86" fill="#f08090"/>
<text x="371.4" y="366.2" font-size="9" text-anchor="end" fill="#505050" font-weight="normal" textLength="17.5" lengthAdjust="spacingAndGlyphs" stroke="#505050" stroke-width="0.06" >GSN</text>
<rect x="376.00" y="366.88" width="24.70" height="7.86" fill="#ecd0ec"/>
<rect x="400.60" y="366.88" width="14.10" height="7.86" fill="#ecd0ec"/>
<rect x="414.60" y="366.88" width="51.30" height="7.86" fill="#ecd0ec"/>
<rect x="465.80" y="366.88" width="9.20" height="7.86" fill="#ecd0ec"/>
<rect x="474.90" y="366.88" width="28.20" height="7.86" fill="#ecc8e0"/>
<rect x="503.00" y="366.88" width="62.90" height="7.86" fill="#ead4ee"/>
<rect x="565.80" y="366.88" width="7.90" height="7.86" fill="#f0c0d0"/>
<rect x="573.60" y="366.88" width="17.80" height="7.86" fill="#f0b8c8"/>
<rect x="591.30" y="366.88" width="21.90" height="7.86" fill="#ec7888"/>
<rect x="613.10" y="366.88" width="10.20" height="7.86" fill="#f0a0b0"/>
<text x="371.4" y="374.0" font-size="9" text-anchor="end" fill="#505050" font-weight="normal" textLength="34.6" lengthAdjust="spacingAndGlyphs" stroke="#505050" stroke-width="0.06" >SLC25A1</text>
<rect x="376.00" y="374.64" width="24.70" height="7.86" fill="#e0c8ec"/>
<rect x="400.60" y="374.64" width="14.10" height="7.86" fill="#e0c8ec"/>
<rect x="414.60" y="374.64" width="51.30" height="7.86" fill="#e0c8ec"/>
<rect x="465.80" y="374.64" width="9.20" height="7.86" fill="#e0c8ec"/>
<rect x="474.90" y="374.64" width="28.20" height="7.86" fill="#e4c0e4"/>
<rect x="503.00" y="374.64" width="62.90" height="7.86" fill="#e6bce0"/>
<rect x="565.80" y="374.64" width="7.90" height="7.86" fill="#e8d0f0"/>
<rect x="573.60" y="374.64" width="17.80" height="7.86" fill="#f4a0a0"/>
<rect x="591.30" y="374.64" width="21.90" height="7.86" fill="#f098a0"/>
<rect x="613.10" y="374.64" width="10.20" height="7.86" fill="#e8c8e4"/>
<text x="371.4" y="381.7" font-size="9" text-anchor="end" fill="#505050" font-weight="normal" textLength="22.4" lengthAdjust="spacingAndGlyphs" stroke="#505050" stroke-width="0.06" >NME4</text>
<rect x="376.00" y="382.41" width="24.70" height="7.86" fill="#f4c0c8"/>
<rect x="400.60" y="382.41" width="14.10" height="7.86" fill="#f4c0c8"/>
<rect x="414.60" y="382.41" width="51.30" height="7.86" fill="#f4ccd8"/>
<rect x="465.80" y="382.41" width="9.20" height="7.86" fill="#f0d8e0"/>
<rect x="474.90" y="382.41" width="28.20" height="7.86" fill="#e4d4f4"/>
<rect x="503.00" y="382.41" width="62.90" height="7.86" fill="#e4d4f4"/>
<rect x="565.80" y="382.41" width="7.90" height="7.86" fill="#e4d0f4"/>
<rect x="573.60" y="382.41" width="17.80" height="7.86" fill="#fbb8a8"/>
<rect x="591.30" y="382.41" width="21.90" height="7.86" fill="#fbb8a8"/>
<rect x="613.10" y="382.41" width="10.20" height="7.86" fill="#e8d8f4"/>
<text x="371.4" y="389.5" font-size="9" text-anchor="end" fill="#505050" font-weight="normal" textLength="20.2" lengthAdjust="spacingAndGlyphs" stroke="#505050" stroke-width="0.06" >EEF2</text>
<rect x="376.00" y="390.17" width="24.70" height="7.86" fill="#dcc8f4"/>
<rect x="400.60" y="390.17" width="14.10" height="7.86" fill="#ecb8d0"/>
<rect x="414.60" y="390.17" width="51.30" height="7.86" fill="#e8d0ec"/>
<rect x="465.80" y="390.17" width="9.20" height="7.86" fill="#f0d0e0"/>
<rect x="474.90" y="390.17" width="28.20" height="7.86" fill="#f0cce0"/>
<rect x="503.00" y="390.17" width="62.90" height="7.86" fill="#f0cce0"/>
<rect x="565.80" y="390.17" width="7.90" height="7.86" fill="#f45050"/>
<rect x="573.60" y="390.17" width="17.80" height="7.86" fill="#f0b0c0"/>
<rect x="591.30" y="390.17" width="21.90" height="7.86" fill="#f0c8d8"/>
<rect x="613.10" y="390.17" width="10.20" height="7.86" fill="#f0b8c8"/>
<text x="371.4" y="397.3" font-size="9" text-anchor="end" fill="#505050" font-weight="normal" textLength="21.1" lengthAdjust="spacingAndGlyphs" stroke="#505050" stroke-width="0.06" >P4HB</text>
<rect x="376.00" y="397.93" width="24.70" height="7.86" fill="#ecd0e4"/>
<rect x="400.60" y="397.93" width="14.10" height="7.86" fill="#ecd0e4"/>
<rect x="414.60" y="397.93" width="51.30" height="7.86" fill="#ecd0e4"/>
<rect x="465.80" y="397.93" width="9.20" height="7.86" fill="#ecd0e4"/>
<rect x="474.90" y="397.93" width="28.20" height="7.86" fill="#ecd4ec"/>
<rect x="503.00" y="397.93" width="62.90" height="7.86" fill="#ecd4ec"/>
<rect x="565.80" y="397.93" width="7.90" height="7.86" fill="#f0c8dc"/>
<rect x="573.60" y="397.93" width="17.80" height="7.86" fill="#f8b0a8"/>
<rect x="591.30" y="397.93" width="21.90" height="7.86" fill="#f0a0a8"/>
<rect x="613.10" y="397.93" width="10.20" height="7.86" fill="#f0c0cc"/>
<text x="371.4" y="405.0" font-size="9" text-anchor="end" fill="#505050" font-weight="normal" textLength="21.1" lengthAdjust="spacingAndGlyphs" stroke="#505050" stroke-width="0.06" >PHB2</text>
<rect x="376.00" y="405.70" width="24.70" height="7.86" fill="#e4c0e4"/>
<rect x="400.60" y="405.70" width="14.10" height="7.86" fill="#e4c0e4"/>
<rect x="414.60" y="405.70" width="51.30" height="7.86" fill="#e4c0e4"/>
<rect x="465.80" y="405.70" width="9.20" height="7.86" fill="#e4c0e4"/>
<rect x="474.90" y="405.70" width="28.20" height="7.86" fill="#e8b8d8"/>
<rect x="503.00" y="405.70" width="62.90" height="7.86" fill="#e0c8f0"/>
<rect x="565.80" y="405.70" width="7.90" height="7.86" fill="#f09098"/>
<rect x="573.60" y="405.70" width="17.80" height="7.86" fill="#ecc8e0"/>
<rect x="591.30" y="405.70" width="21.90" height="7.86" fill="#ec8090"/>
<rect x="613.10" y="405.70" width="10.20" height="7.86" fill="#f0b0c0"/>
<text x="371.4" y="412.8" font-size="9" text-anchor="end" fill="#505050" font-weight="normal" textLength="43.5" lengthAdjust="spacingAndGlyphs" stroke="#505050" stroke-width="0.06" >MARCKSL1</text>
<rect x="376.00" y="413.46" width="24.70" height="7.86" fill="#ecc0dc"/>
<rect x="400.60" y="413.46" width="14.10" height="7.86" fill="#ecc0dc"/>
<rect x="414.60" y="413.46" width="51.30" height="7.86" fill="#ecc0dc"/>
<rect x="465.80" y="413.46" width="9.20" height="7.86" fill="#f4b0b0"/>
<rect x="474.90" y="413.46" width="28.20" height="7.86" fill="#ecd4ec"/>
<rect x="503.00" y="413.46" width="62.90" height="7.86" fill="#ecd4ec"/>
<rect x="565.80" y="413.46" width="7.90" height="7.86" fill="#f0a8b0"/>
<rect x="573.60" y="413.46" width="17.80" height="7.86" fill="#f4a8a8"/>
<rect x="591.30" y="413.46" width="21.90" height="7.86" fill="#f0a0b0"/>
<rect x="613.10" y="413.46" width="10.20" height="7.86" fill="#e0d0f4"/>
<text x="371.4" y="420.5" font-size="9" text-anchor="end" fill="#505050" font-weight="normal" textLength="38.1" lengthAdjust="spacingAndGlyphs" stroke="#505050" stroke-width="0.06" >KHDRBS1</text>
<rect x="376.00" y="421.22" width="24.70" height="7.86" fill="#f4c8d4"/>
<rect x="400.60" y="421.22" width="14.10" height="7.86" fill="#f4c0c8"/>
<rect x="414.60" y="421.22" width="51.30" height="7.86" fill="#f4c8d4"/>
<rect x="465.80" y="421.22" width="9.20" height="7.86" fill="#e8d8f0"/>
<rect x="474.90" y="421.22" width="28.20" height="7.86" fill="#e4d4f4"/>
<rect x="503.00" y="421.22" width="62.90" height="7.86" fill="#e4d4f4"/>
<rect x="565.80" y="421.22" width="7.90" height="7.86" fill="#d8c8f4"/>
<rect x="573.60" y="421.22" width="17.80" height="7.86" fill="#f8b0a8"/>
<rect x="591.30" y="421.22" width="21.90" height="7.86" fill="#f8dce0"/>
<rect x="613.10" y="421.22" width="10.20" height="7.86" fill="#f0d8e0"/>
<text x="371.4" y="428.3" font-size="9" text-anchor="end" fill="#505050" font-weight="normal" textLength="20.2" lengthAdjust="spacingAndGlyphs" stroke="#505050" stroke-width="0.06" >RPL4</text>
<rect x="376.00" y="428.99" width="24.70" height="7.86" fill="#e8c8e8"/>
<rect x="400.60" y="428.99" width="14.10" height="7.86" fill="#e8c8e8"/>
<rect x="414.60" y="428.99" width="51.30" height="7.86" fill="#e8c8e8"/>
<rect x="465.80" y="428.99" width="9.20" height="7.86" fill="#e8c8e8"/>
<rect x="474.90" y="428.99" width="28.20" height="7.86" fill="#f0d0e4"/>
<rect x="503.00" y="428.99" width="62.90" height="7.86" fill="#f0d0e4"/>
<rect x="565.80" y="428.99" width="7.90" height="7.86" fill="#f05858"/>
<rect x="573.60" y="428.99" width="17.80" height="7.86" fill="#e8c0d8"/>
<rect x="591.30" y="428.99" width="21.90" height="7.86" fill="#f0a8b8"/>
<rect x="613.10" y="428.99" width="10.20" height="7.86" fill="#e8c0d8"/>
<text x="371.4" y="436.1" font-size="9" text-anchor="end" fill="#505050" font-weight="normal" textLength="25.6" lengthAdjust="spacingAndGlyphs" stroke="#505050" stroke-width="0.06" >PTBP1</text>
<rect x="376.00" y="436.75" width="24.70" height="7.86" fill="#a890f0"/>
<rect x="400.60" y="436.75" width="14.10" height="7.86" fill="#a890f0"/>
<rect x="414.60" y="436.75" width="51.30" height="7.86" fill="#a890f0"/>
<rect x="465.80" y="436.75" width="9.20" height="7.86" fill="#b098f0"/>
<rect x="474.90" y="436.75" width="28.20" height="7.86" fill="#e05a78"/>
<rect x="503.00" y="436.75" width="62.90" height="7.86" fill="#b090e8"/>
<rect x="565.80" y="436.75" width="7.90" height="7.86" fill="#e06070"/>
<rect x="573.60" y="436.75" width="17.80" height="7.86" fill="#9078f8"/>
<rect x="591.30" y="436.75" width="21.90" height="7.86" fill="#e07098"/>
<rect x="613.10" y="436.75" width="10.20" height="7.86" fill="#e07898"/>
<text x="371.4" y="443.8" font-size="9" text-anchor="end" fill="#505050" font-weight="normal" textLength="16.6" lengthAdjust="spacingAndGlyphs" stroke="#505050" stroke-width="0.06" >CFD</text>
<rect x="376.00" y="444.51" width="24.70" height="7.86" fill="#ecc8e4"/>
<rect x="400.60" y="444.51" width="14.10" height="7.86" fill="#ecc8e4"/>
<rect x="414.60" y="444.51" width="51.30" height="7.86" fill="#ecc8e4"/>
<rect x="465.80" y="444.51" width="9.20" height="7.86" fill="#f4e8f4"/>
<rect x="474.90" y="444.51" width="28.20" height="7.86" fill="#f0c0d0"/>
<rect x="503.00" y="444.51" width="62.90" height="7.86" fill="#f0d0e0"/>
<rect x="565.80" y="444.51" width="7.90" height="7.86" fill="#f07070"/>
<rect x="573.60" y="444.51" width="17.80" height="7.86" fill="#d8c0f0"/>
<rect x="591.30" y="444.51" width="21.90" height="7.86" fill="#f4e4f0"/>
<rect x="613.10" y="444.51" width="10.20" height="7.86" fill="#f05050"/>
<text x="371.4" y="451.6" font-size="9" text-anchor="end" fill="#505050" font-weight="normal" textLength="22.0" lengthAdjust="spacingAndGlyphs" stroke="#505050" stroke-width="0.06" >GRK2</text>
<rect x="376.00" y="452.27" width="24.70" height="7.86" fill="#d4bcf4"/>
<rect x="400.60" y="452.27" width="14.10" height="7.86" fill="#d4bcf4"/>
<rect x="414.60" y="452.27" width="51.30" height="7.86" fill="#d4bcf4"/>
<rect x="465.80" y="452.27" width="9.20" height="7.86" fill="#d4bcf4"/>
<rect x="474.90" y="452.27" width="28.20" height="7.86" fill="#d4bcf4"/>
<rect x="503.00" y="452.27" width="62.90" height="7.86" fill="#d4bcf4"/>
<rect x="565.80" y="452.27" width="7.90" height="7.86" fill="#f03838"/>
<rect x="573.60" y="452.27" width="17.80" height="7.86" fill="#dcb8e0"/>
<rect x="591.30" y="452.27" width="21.90" height="7.86" fill="#ec5058"/>
<rect x="613.10" y="452.27" width="10.20" height="7.86" fill="#f83030"/>
<text x="371.4" y="459.4" font-size="9" text-anchor="end" fill="#505050" font-weight="normal" textLength="35.3" lengthAdjust="spacingAndGlyphs" stroke="#505050" stroke-width="0.06" >CLEC11A</text>
<rect x="376.00" y="460.04" width="24.70" height="7.86" fill="#d8c0ec"/>
<rect x="400.60" y="460.04" width="14.10" height="7.86" fill="#f0b8c8"/>
<rect x="414.60" y="460.04" width="51.30" height="7.86" fill="#e0c8ec"/>
<rect x="465.80" y="460.04" width="9.20" height="7.86" fill="#f8e4e8"/>
<rect x="474.90" y="460.04" width="28.20" height="7.86" fill="#dcc8f4"/>
<rect x="503.00" y="460.04" width="62.90" height="7.86" fill="#dcc8f4"/>
<rect x="565.80" y="460.04" width="7.90" height="7.86" fill="#d0a8e0"/>
<rect x="573.60" y="460.04" width="17.80" height="7.86" fill="#f81818"/>
<rect x="591.30" y="460.04" width="21.90" height="7.86" fill="#f8dce0"/>
<rect x="613.10" y="460.04" width="10.20" height="7.86" fill="#dca8d8"/>
<text x="371.4" y="467.1" font-size="9" text-anchor="end" fill="#505050" font-weight="normal" textLength="28.3" lengthAdjust="spacingAndGlyphs" stroke="#505050" stroke-width="0.06" >ARMH1</text>
<rect x="376.00" y="467.80" width="24.70" height="7.86" fill="#d8c4f8"/>
<rect x="400.60" y="467.80" width="14.10" height="7.86" fill="#d8c4f8"/>
<rect x="414.60" y="467.80" width="51.30" height="7.86" fill="#d8c4f8"/>
<rect x="465.80" y="467.80" width="9.20" height="7.86" fill="#b898f0"/>
<rect x="474.90" y="467.80" width="28.20" height="7.86" fill="#dcccf8"/>
<rect x="503.00" y="467.80" width="62.90" height="7.86" fill="#dcccf8"/>
<rect x="565.80" y="467.80" width="7.90" height="7.86" fill="#e0d4f8"/>
<rect x="573.60" y="467.80" width="17.80" height="7.86" fill="#f0e8f8"/>
<rect x="591.30" y="467.80" width="21.90" height="7.86" fill="#e02840"/>
<rect x="613.10" y="467.80" width="10.20" height="7.86" fill="#e8d4f0"/>
<text x="371.4" y="474.9" font-size="9" text-anchor="end" fill="#505050" font-weight="normal" textLength="36.8" lengthAdjust="spacingAndGlyphs" stroke="#505050" stroke-width="0.06" >C1QTNF4</text>
<rect x="376.00" y="475.56" width="24.70" height="7.86" fill="#d8c4f8"/>
<rect x="400.60" y="475.56" width="14.10" height="7.86" fill="#d8c4f8"/>
<rect x="414.60" y="475.56" width="51.30" height="7.86" fill="#d8c4f8"/>
<rect x="465.80" y="475.56" width="9.20" height="7.86" fill="#b898f0"/>
<rect x="474.90" y="475.56" width="28.20" height="7.86" fill="#dcccf8"/>
<rect x="503.00" y="475.56" width="62.90" height="7.86" fill="#dcccf8"/>
<rect x="565.80" y="475.56" width="7.90" height="7.86" fill="#e8d0f0"/>
<rect x="573.60" y="475.56" width="17.80" height="7.86" fill="#f0e4f4"/>
<rect x="591.30" y="475.56" width="21.90" height="7.86" fill="#e03040"/>
<rect x="613.10" y="475.56" width="10.20" height="7.86" fill="#e8d0f0"/>
<text x="371.4" y="482.6" font-size="9" text-anchor="end" fill="#505050" font-weight="normal" textLength="18.8" lengthAdjust="spacingAndGlyphs" stroke="#505050" stroke-width="0.06" >NPW</text>
<rect x="376.00" y="483.33" width="24.70" height="7.86" fill="#e0d0f8"/>
<rect x="400.60" y="483.33" width="14.10" height="7.86" fill="#e0d0f8"/>
<rect x="414.60" y="483.33" width="51.30" height="7.86" fill="#e0d0f8"/>
<rect x="465.80" y="483.33" width="9.20" height="7.86" fill="#fcf0f0"/>
<rect x="474.90" y="483.33" width="28.20" height="7.86" fill="#e4dcf8"/>
<rect x="503.00" y="483.33" width="62.90" height="7.86" fill="#e4dcf8"/>
<rect x="565.80" y="483.33" width="7.90" height="7.86" fill="#ec7088"/>
<rect x="573.60" y="483.33" width="17.80" height="7.86" fill="#d86090"/>
<rect x="591.30" y="483.33" width="21.90" height="7.86" fill="#f8e0e8"/>
<rect x="613.10" y="483.33" width="10.20" height="7.86" fill="#ec6078"/>
<text x="371.4" y="490.4" font-size="9" text-anchor="end" fill="#505050" font-weight="normal" textLength="35.5" lengthAdjust="spacingAndGlyphs" stroke="#505050" stroke-width="0.06" >PPP1R27</text>
<rect x="376.00" y="491.09" width="24.70" height="7.86" fill="#e8c8e8"/>
<rect x="400.60" y="491.09" width="14.10" height="7.86" fill="#e8c8e8"/>
<rect x="414.60" y="491.09" width="51.30" height="7.86" fill="#e8c8e8"/>
<rect x="465.80" y="491.09" width="9.20" height="7.86" fill="#e8c8e8"/>
<rect x="474.90" y="491.09" width="28.20" height="7.86" fill="#e8c8e4"/>
<rect x="503.00" y="491.09" width="62.90" height="7.86" fill="#e8c8e4"/>
<rect x="565.80" y="491.09" width="7.90" height="7.86" fill="#f4a0a0"/>
<rect x="573.60" y="491.09" width="17.80" height="7.86" fill="#f4a0a0"/>
<rect x="591.30" y="491.09" width="21.90" height="7.86" fill="#f49090"/>
<rect x="613.10" y="491.09" width="10.20" height="7.86" fill="#f4a8a8"/>
<text x="371.4" y="498.2" font-size="9" text-anchor="end" fill="#505050" font-weight="normal" textLength="28.7" lengthAdjust="spacingAndGlyphs" stroke="#505050" stroke-width="0.06" >HMGA1</text>
<rect x="376.00" y="498.85" width="24.70" height="7.86" fill="#ecc0dc"/>
<rect x="400.60" y="498.85" width="14.10" height="7.86" fill="#ecc0dc"/>
<rect x="414.60" y="498.85" width="51.30" height="7.86" fill="#ecc0dc"/>
<rect x="465.80" y="498.85" width="9.20" height="7.86" fill="#f4a8b0"/>
<rect x="474.90" y="498.85" width="28.20" height="7.86" fill="#e8c8e8"/>
<rect x="503.00" y="498.85" width="62.90" height="7.86" fill="#e8c8e8"/>
<rect x="565.80" y="498.85" width="7.90" height="7.86" fill="#e8d4f4"/>
<rect x="573.60" y="498.85" width="17.80" height="7.86" fill="#f49898"/>
<rect x="591.30" y="498.85" width="21.90" height="7.86" fill="#f49898"/>
<rect x="613.10" y="498.85" width="10.20" height="7.86" fill="#f0a8b0"/>
<text x="371.4" y="505.9" font-size="9" text-anchor="end" fill="#505050" font-weight="normal" textLength="27.8" lengthAdjust="spacingAndGlyphs" stroke="#505050" stroke-width="0.06" >SNHG7</text>
<rect x="376.00" y="506.62" width="24.70" height="7.86" fill="#ece0f8"/>
<rect x="400.60" y="506.62" width="14.10" height="7.86" fill="#ece0f8"/>
<rect x="414.60" y="506.62" width="51.30" height="7.86" fill="#ece0f8"/>
<rect x="465.80" y="506.62" width="9.20" height="7.86" fill="#d8c0f4"/>
<rect x="474.90" y="506.62" width="28.20" height="7.86" fill="#e8dcf8"/>
<rect x="503.00" y="506.62" width="62.90" height="7.86" fill="#e8dcf8"/>
<rect x="565.80" y="506.62" width="7.90" height="7.86" fill="#f08090"/>
<rect x="573.60" y="506.62" width="17.80" height="7.86" fill="#f0eaf8"/>
<rect x="591.30" y="506.62" width="21.90" height="7.86" fill="#e84a60"/>
<rect x="613.10" y="506.62" width="10.20" height="7.86" fill="#f07888"/>
<text x="371.4" y="513.7" font-size="9" text-anchor="end" fill="#505050" font-weight="normal" textLength="26.9" lengthAdjust="spacingAndGlyphs" stroke="#505050" stroke-width="0.06" >KCNE5</text>
<rect x="376.00" y="514.38" width="24.70" height="7.86" fill="#ecc0d8"/>
<rect x="400.60" y="514.38" width="14.10" height="7.86" fill="#ecc0d8"/>
<rect x="414.60" y="514.38" width="51.30" height="7.86" fill="#ecc0d8"/>
<rect x="465.80" y="514.38" width="9.20" height="7.86" fill="#ecc0d8"/>
<rect x="474.90" y="514.38" width="28.20" height="7.86" fill="#e8c0d8"/>
<rect x="503.00" y="514.38" width="62.90" height="7.86" fill="#e8c0d8"/>
<rect x="565.80" y="514.38" width="7.90" height="7.86" fill="#f0b0c0"/>
<rect x="573.60" y="514.38" width="17.80" height="7.86" fill="#f8a8a0"/>
<rect x="591.30" y="514.38" width="21.90" height="7.86" fill="#f49090"/>
<rect x="613.10" y="514.38" width="10.20" height="7.86" fill="#f0c0d0"/>
<text x="371.4" y="521.5" font-size="9" text-anchor="end" fill="#505050" font-weight="normal" textLength="27.4" lengthAdjust="spacingAndGlyphs" stroke="#505050" stroke-width="0.06" >C1QBP</text>
<rect x="376.00" y="522.14" width="24.70" height="7.86" fill="#ece0f8"/>
<rect x="400.60" y="522.14" width="14.10" height="7.86" fill="#e8c8e8"/>
<rect x="414.60" y="522.14" width="51.30" height="7.86" fill="#ece0f8"/>
<rect x="465.80" y="522.14" width="9.20" height="7.86" fill="#ece0f8"/>
<rect x="474.90" y="522.14" width="28.20" height="7.86" fill="#ecdcf0"/>
<rect x="503.00" y="522.14" width="62.90" height="7.86" fill="#ecdcf0"/>
<rect x="565.80" y="522.14" width="7.90" height="7.86" fill="#f0a8b8"/>
<rect x="573.60" y="522.14" width="17.80" height="7.86" fill="#f0a8b8"/>
<rect x="591.30" y="522.14" width="21.90" height="7.86" fill="#f07078"/>
<rect x="613.10" y="522.14" width="10.20" height="7.86" fill="#f0a0b0"/>
<text x="371.4" y="529.2" font-size="9" text-anchor="end" fill="#505050" font-weight="normal" textLength="22.4" lengthAdjust="spacingAndGlyphs" stroke="#505050" stroke-width="0.06" >NREP</text>
<rect x="376.00" y="529.90" width="24.70" height="7.86" fill="#e4c8ec"/>
<rect x="400.60" y="529.90" width="14.10" height="7.86" fill="#e8c0e0"/>
<rect x="414.60" y="529.90" width="51.30" height="7.86" fill="#e4c8ec"/>
<rect x="465.80" y="529.90" width="9.20" height="7.86" fill="#e4c8ec"/>
<rect x="474.90" y="529.90" width="28.20" height="7.86" fill="#e8c0dc"/>
<rect x="503.00" y="529.90" width="62.90" height="7.86" fill="#e8c0dc"/>
<rect x="565.80" y="529.90" width="7.90" height="7.86" fill="#f0c0d0"/>
<rect x="573.60" y="529.90" width="17.80" height="7.86" fill="#eccce0"/>
<rect x="591.30" y="529.90" width="21.90" height="7.86" fill="#ec6070"/>
<rect x="613.10" y="529.90" width="10.20" height="7.86" fill="#f0a0b0"/>
<text x="371.4" y="537.0" font-size="9" text-anchor="end" fill="#505050" font-weight="normal" textLength="25.1" lengthAdjust="spacingAndGlyphs" stroke="#505050" stroke-width="0.06" >FABP5</text>
<rect x="376.00" y="537.67" width="24.70" height="7.86" fill="#ece0f8"/>
<rect x="400.60" y="537.67" width="14.10" height="7.86" fill="#f0a8b8"/>
<rect x="414.60" y="537.67" width="51.30" height="7.86" fill="#ece0f8"/>
<rect x="465.80" y="537.67" width="9.20" height="7.86" fill="#f4e4f0"/>
<rect x="474.90" y="537.67" width="28.20" height="7.86" fill="#ece0f8"/>
<rect x="503.00" y="537.67" width="62.90" height="7.86" fill="#ece0f8"/>
<rect x="565.80" y="537.67" width="7.90" height="7.86" fill="#ece0f8"/>
<rect x="573.60" y="537.67" width="17.80" height="7.86" fill="#f06068"/>
<rect x="591.30" y="537.67" width="21.90" height="7.86" fill="#f49098"/>
<rect x="613.10" y="537.67" width="10.20" height="7.86" fill="#e8d4f0"/>
<text x="371.4" y="544.7" font-size="9" text-anchor="end" fill="#505050" font-weight="normal" textLength="28.7" lengthAdjust="spacingAndGlyphs" stroke="#505050" stroke-width="0.06" >PRAME</text>
<rect x="376.00" y="545.43" width="24.70" height="7.86" fill="#e8dcf8"/>
<rect x="400.60" y="545.43" width="14.10" height="7.86" fill="#e8dcf8"/>
<rect x="414.60" y="545.43" width="51.30" height="7.86" fill="#e8dcf8"/>
<rect x="465.80" y="545.43" width="9.20" height="7.86" fill="#e0d0f4"/>
<rect x="474.90" y="545.43" width="28.20" height="7.86" fill="#eadcf8"/>
<rect x="503.00" y="545.43" width="62.90" height="7.86" fill="#eadcf8"/>
<rect x="565.80" y="545.43" width="7.90" height="7.86" fill="#ece4f8"/>
<rect x="573.60" y="545.43" width="17.80" height="7.86" fill="#f0e8f8"/>
<rect x="591.30" y="545.43" width="21.90" height="7.86" fill="#e890b0"/>
<rect x="613.10" y="545.43" width="10.20" height="7.86" fill="#ec4860"/>
<text x="371.4" y="552.5" font-size="9" text-anchor="end" fill="#505050" font-weight="normal" textLength="22.4" lengthAdjust="spacingAndGlyphs" stroke="#505050" stroke-width="0.06" >MSLN</text>
<rect x="376.00" y="553.19" width="24.70" height="7.86" fill="#ecc4dc"/>
<rect x="400.60" y="553.19" width="14.10" height="7.86" fill="#ecc4dc"/>
<rect x="414.60" y="553.19" width="51.30" height="7.86" fill="#ecc4dc"/>
<rect x="465.80" y="553.19" width="9.20" height="7.86" fill="#f4b8c0"/>
<rect x="474.90" y="553.19" width="28.20" height="7.86" fill="#ecc8e0"/>
<rect x="503.00" y="553.19" width="62.90" height="7.86" fill="#ecc8e0"/>
<rect x="565.80" y="553.19" width="7.90" height="7.86" fill="#f0c0d0"/>
<rect x="573.60" y="553.19" width="17.80" height="7.86" fill="#f48080"/>
<rect x="591.30" y="553.19" width="21.90" height="7.86" fill="#f4a0a8"/>
<rect x="613.10" y="553.19" width="10.20" height="7.86" fill="#e8c8e4"/>
<text x="371.4" y="560.3" font-size="9" text-anchor="end" fill="#505050" font-weight="normal" textLength="20.6" lengthAdjust="spacingAndGlyphs" stroke="#505050" stroke-width="0.06" >EBPL</text>
<rect x="376.00" y="560.96" width="24.70" height="7.86" fill="#f4c8d0"/>
<rect x="400.60" y="560.96" width="14.10" height="7.86" fill="#ecd4ec"/>
<rect x="414.60" y="560.96" width="51.30" height="7.86" fill="#ecd4ec"/>
<rect x="465.80" y="560.96" width="9.20" height="7.86" fill="#f0d8e0"/>
<rect x="474.90" y="560.96" width="28.20" height="7.86" fill="#f0d0e0"/>
<rect x="503.00" y="560.96" width="62.90" height="7.86" fill="#f0d0e0"/>
<rect x="565.80" y="560.96" width="7.90" height="7.86" fill="#ecc8dc"/>
<rect x="573.60" y="560.96" width="17.80" height="7.86" fill="#f8d0c8"/>
<rect x="591.30" y="560.96" width="21.90" height="7.86" fill="#f8b8b0"/>
<rect x="613.10" y="560.96" width="10.20" height="7.86" fill="#f88878"/>
<text x="371.4" y="568.0" font-size="9" text-anchor="end" fill="#505050" font-weight="normal" textLength="25.6" lengthAdjust="spacingAndGlyphs" stroke="#505050" stroke-width="0.06" >RPS17</text>
<rect x="376.00" y="568.72" width="24.70" height="7.86" fill="#e0d0f4"/>
<rect x="400.60" y="568.72" width="14.10" height="7.86" fill="#ecc8e4"/>
<rect x="414.60" y="568.72" width="51.30" height="7.86" fill="#ecc8e4"/>
<rect x="465.80" y="568.72" width="9.20" height="7.86" fill="#f4e0e8"/>
<rect x="474.90" y="568.72" width="28.20" height="7.86" fill="#e8c8e8"/>
<rect x="503.00" y="568.72" width="62.90" height="7.86" fill="#e8c8e8"/>
<rect x="565.80" y="568.72" width="7.90" height="7.86" fill="#f07070"/>
<rect x="573.60" y="568.72" width="17.80" height="7.86" fill="#ec98a8"/>
<rect x="591.30" y="568.72" width="21.90" height="7.86" fill="#f8e0e8"/>
<rect x="613.10" y="568.72" width="10.20" height="7.86" fill="#dcb8e0"/>
<text x="371.4" y="575.8" font-size="9" text-anchor="end" fill="#505050" font-weight="normal" textLength="27.4" lengthAdjust="spacingAndGlyphs" stroke="#505050" stroke-width="0.06" >RUNX1</text>
<rect x="376.00" y="576.48" width="24.70" height="7.86" fill="#ecc0d8"/>
<rect x="400.60" y="576.48" width="14.10" height="7.86" fill="#ecb0c8"/>
<rect x="414.60" y="576.48" width="51.30" height="7.86" fill="#ecc0d8"/>
<rect x="465.80" y="576.48" width="9.20" height="7.86" fill="#ecc0d8"/>
<rect x="474.90" y="576.48" width="28.20" height="7.86" fill="#ecc8e0"/>
<rect x="503.00" y="576.48" width="62.90" height="7.86" fill="#ecc8e0"/>
<rect x="565.80" y="576.48" width="7.90" height="7.86" fill="#f04050"/>
<rect x="573.60" y="576.48" width="17.80" height="7.86" fill="#dcb8ec"/>
<rect x="591.30" y="576.48" width="21.90" height="7.86" fill="#f4e0ec"/>
<rect x="613.10" y="576.48" width="10.20" height="7.86" fill="#f07080"/>
<text x="371.4" y="583.6" font-size="9" text-anchor="end" fill="#505050" font-weight="normal" textLength="28.7" lengthAdjust="spacingAndGlyphs" stroke="#505050" stroke-width="0.06" >CITED4</text>
<rect x="376.00" y="584.25" width="24.70" height="7.86" fill="#e4cce8"/>
<rect x="400.60" y="584.25" width="14.10" height="7.86" fill="#e4cce8"/>
<rect x="414.60" y="584.25" width="51.30" height="7.86" fill="#e4cce8"/>
<rect x="465.80" y="584.25" width="9.20" height="7.86" fill="#f0c0c8"/>
<rect x="474.90" y="584.25" width="28.20" height="7.86" fill="#f0c0d0"/>
<rect x="503.00" y="584.25" width="62.90" height="7.86" fill="#e4cce8"/>
<rect x="565.80" y="584.25" width="7.90" height="7.86" fill="#f06070"/>
<rect x="573.60" y="584.25" width="17.80" height="7.86" fill="#e4d0f0"/>
<rect x="591.30" y="584.25" width="21.90" height="7.86" fill="#f8e0e8"/>
<rect x="613.10" y="584.25" width="10.20" height="7.86" fill="#f07080"/>
<text x="371.4" y="591.3" font-size="9" text-anchor="end" fill="#505050" font-weight="normal" textLength="31.8" lengthAdjust="spacingAndGlyphs" stroke="#505050" stroke-width="0.06" >MFSD10</text>
<rect x="376.00" y="592.01" width="24.70" height="7.86" fill="#e8c8e4"/>
<rect x="400.60" y="592.01" width="14.10" height="7.86" fill="#e8c8e4"/>
<rect x="414.60" y="592.01" width="51.30" height="7.86" fill="#e8c8e4"/>
<rect x="465.80" y="592.01" width="9.20" height="7.86" fill="#e8c8e4"/>
<rect x="474.90" y="592.01" width="28.20" height="7.86" fill="#e8c8e4"/>
<rect x="503.00" y="592.01" width="62.90" height="7.86" fill="#e8c8e4"/>
<rect x="565.80" y="592.01" width="7.90" height="7.86" fill="#f0a8b8"/>
<rect x="573.60" y="592.01" width="17.80" height="7.86" fill="#f0a8b8"/>
<rect x="591.30" y="592.01" width="21.90" height="7.86" fill="#f0a0b0"/>
<rect x="613.10" y="592.01" width="10.20" height="7.86" fill="#f0a8b8"/>
<text x="371.4" y="599.1" font-size="9" text-anchor="end" fill="#505050" font-weight="normal" textLength="17.9" lengthAdjust="spacingAndGlyphs" stroke="#505050" stroke-width="0.06" >SRM</text>
<g><rect x="376.00" y="258.2" width="1.11" height="341.6" fill="#ffffff" fill-opacity="0.03"/><rect x="377.31" y="258.2" width="1.19" height="341.6" fill="#6050e0" fill-opacity="0.12"/><rect x="378.58" y="258.2" width="0.94" height="341.6" fill="#ffffff" fill-opacity="0.03"/><rect x="379.97" y="258.2" width="0.62" height="341.6" fill="#9a50a0" fill-opacity="0.06"/><rect x="381.08" y="258.2" width="0.78" height="341.6" fill="#6050e0" fill-opacity="0.11"/><rect x="381.87" y="258.2" width="1.24" height="341.6" fill="#ffffff" fill-opacity="0.12"/><rect x="383.25" y="258.2" width="1.37" height="341.6" fill="#ffffff" fill-opacity="0.07"/><rect x="384.70" y="258.2" width="1.28" height="341.6" fill="#6050e0" fill-opacity="0.11"/><rect x="386.64" y="258.2" width="1.03" height="341.6" fill="#ffffff" fill-opacity="0.16"/><rect x="388.16" y="258.2" width="1.26" height="341.6" fill="#6050e0" fill-opacity="0.11"/><rect x="389.95" y="258.2" width="1.16" height="341.6" fill="#ffffff" fill-opacity="0.04"/><rect x="391.37" y="258.2" width="0.66" height="341.6" fill="#ffffff" fill-opacity="0.06"/><rect x="392.29" y="258.2" width="1.11" height="341.6" fill="#ffffff" fill-opacity="0.08"/><rect x="393.58" y="258.2" width="0.81" height="341.6" fill="#9a50a0" fill-opacity="0.15"/><rect x="394.94" y="258.2" width="0.74" height="341.6" fill="#ffffff" fill-opacity="0.12"/><rect x="396.02" y="258.2" width="1.39" height="341.6" fill="#9a50a0" fill-opacity="0.11"/><rect x="398.03" y="258.2" width="1.27" height="341.6" fill="#ffffff" fill-opacity="0.13"/><rect x="399.33" y="258.2" width="0.85" height="341.6" fill="#ffffff" fill-opacity="0.06"/><rect x="401.03" y="258.2" width="1.30" height="341.6" fill="#9a50a0" fill-opacity="0.07"/><rect x="402.69" y="258.2" width="1.33" height="341.6" fill="#ffffff" fill-opacity="0.09"/><rect x="404.25" y="258.2" width="1.05" height="341.6" fill="#9a50a0" fill-opacity="0.06"/><rect x="406.10" y="258.2" width="0.92" height="341.6" fill="#6050e0" fill-opacity="0.06"/><rect x="407.48" y="258.2" width="0.67" height="341.6" fill="#ffffff" fill-opacity="0.04"/><rect x="408.72" y="258.2" width="1.23" height="341.6" fill="#ffffff" fill-opacity="0.08"/><rect x="410.30" y="258.2" width="1.40" height="341.6" fill="#6050e0" fill-opacity="0.10"/><rect x="412.47" y="258.2" width="0.61" height="341.6" fill="#9a50a0" fill-opacity="0.12"/><rect x="413.56" y="258.2" width="0.81" height="341.6" fill="#ffffff" fill-opacity="0.11"/><rect x="414.76" y="258.2" width="0.96" height="341.6" fill="#6050e0" fill-opacity="0.15"/><rect x="415.96" y="258.2" width="1.00" height="341.6" fill="#6050e0" fill-opacity="0.05"/><rect x="417.75" y="258.2" width="0.84" height="341.6" fill="#9a50a0" fill-opacity="0.11"/><rect x="418.72" y="258.2" width="1.21" height="341.6" fill="#9a50a0" fill-opacity="0.10"/><rect x="420.41" y="258.2" width="0.60" height="341.6" fill="#ffffff" fill-opacity="0.07"/><rect x="421.85" y="258.2" width="1.30" height="341.6" fill="#ffffff" fill-opacity="0.14"/><rect x="423.20" y="258.2" width="1.30" height="341.6" fill="#ffffff" fill-opacity="0.15"/><rect x="424.94" y="258.2" width="0.66" height="341.6" fill="#9a50a0" fill-opacity="0.13"/><rect x="425.71" y="258.2" width="0.98" height="341.6" fill="#ffffff" fill-opacity="0.10"/><rect x="427.48" y="258.2" width="0.94" height="341.6" fill="#9a50a0" fill-opacity="0.06"/><rect x="429.07" y="258.2" width="0.76" height="341.6" fill="#6050e0" fill-opacity="0.07"/><rect x="430.42" y="258.2" width="0.95" height="341.6" fill="#ffffff" fill-opacity="0.10"/><rect x="431.57" y="258.2" width="0.87" height="341.6" fill="#ffffff" fill-opacity="0.11"/><rect x="432.64" y="258.2" width="0.66" height="341.6" fill="#ffffff" fill-opacity="0.11"/><rect x="434.11" y="258.2" width="1.29" height="341.6" fill="#ffffff" fill-opacity="0.04"/><rect x="436.00" y="258.2" width="0.77" height="341.6" fill="#6050e0" fill-opacity="0.05"/><rect x="437.29" y="258.2" width="0.98" height="341.6" fill="#6050e0" fill-opacity="0.13"/><rect x="438.44" y="258.2" width="0.68" height="341.6" fill="#ffffff" fill-opacity="0.09"/><rect x="439.54" y="258.2" width="1.18" height="341.6" fill="#6050e0" fill-opacity="0.12"/><rect x="440.81" y="258.2" width="0.92" height="341.6" fill="#6050e0" fill-opacity="0.07"/><rect x="441.95" y="258.2" width="0.75" height="341.6" fill="#ffffff" fill-opacity="0.09"/><rect x="442.96" y="258.2" width="0.80" height="341.6" fill="#ffffff" fill-opacity="0.15"/><rect x="444.53" y="258.2" width="1.04" height="341.6" fill="#6050e0" fill-opacity="0.04"/><rect x="446.32" y="258.2" width="1.38" height="341.6" fill="#6050e0" fill-opacity="0.15"/><rect x="447.85" y="258.2" width="0.99" height="341.6" fill="#ffffff" fill-opacity="0.06"/><rect x="448.89" y="258.2" width="0.90" height="341.6" fill="#ffffff" fill-opacity="0.16"/><rect x="450.50" y="258.2" width="0.96" height="341.6" fill="#6050e0" fill-opacity="0.08"/><rect x="452.36" y="258.2" width="1.04" height="341.6" fill="#ffffff" fill-opacity="0.12"/><rect x="453.67" y="258.2" width="1.37" height="341.6" fill="#9a50a0" fill-opacity="0.11"/><rect x="455.72" y="258.2" width="0.65" height="341.6" fill="#9a50a0" fill-opacity="0.11"/><rect x="457.13" y="258.2" width="0.73" height="341.6" fill="#ffffff" fill-opacity="0.15"/><rect x="458.03" y="258.2" width="1.08" height="341.6" fill="#ffffff" fill-opacity="0.12"/><rect x="459.21" y="258.2" width="1.31" height="341.6" fill="#9a50a0" fill-opacity="0.06"/><rect x="461.08" y="258.2" width="0.94" height="341.6" fill="#9a50a0" fill-opacity="0.11"/><rect x="462.86" y="258.2" width="0.76" height="341.6" fill="#ffffff" fill-opacity="0.12"/><rect x="463.98" y="258.2" width="1.14" height="341.6" fill="#ffffff" fill-opacity="0.07"/><rect x="465.79" y="258.2" width="0.66" height="341.6" fill="#6050e0" fill-opacity="0.09"/><rect x="467.34" y="258.2" width="0.66" height="341.6" fill="#ffffff" fill-opacity="0.06"/><rect x="468.84" y="258.2" width="1.30" height="341.6" fill="#ffffff" fill-opacity="0.14"/><rect x="470.29" y="258.2" width="1.27" height="341.6" fill="#9a50a0" fill-opacity="0.12"/><rect x="472.44" y="258.2" width="1.12" height="341.6" fill="#6050e0" fill-opacity="0.03"/><rect x="473.84" y="258.2" width="1.13" height="341.6" fill="#ffffff" fill-opacity="0.15"/><rect x="475.07" y="258.2" width="0.69" height="341.6" fill="#ffffff" fill-opacity="0.10"/><rect x="476.30" y="258.2" width="1.17" height="341.6" fill="#9a50a0" fill-opacity="0.06"/><rect x="477.71" y="258.2" width="0.99" height="341.6" fill="#6050e0" fill-opacity="0.15"/><rect x="478.79" y="258.2" width="0.94" height="341.6" fill="#ffffff" fill-opacity="0.07"/><rect x="480.42" y="258.2" width="1.11" height="341.6" fill="#9a50a0" fill-opacity="0.06"/><rect x="482.03" y="258.2" width="0.94" height="341.6" fill="#ffffff" fill-opacity="0.03"/><rect x="483.76" y="258.2" width="1.32" height="341.6" fill="#6050e0" fill-opacity="0.10"/><rect x="485.61" y="258.2" width="0.72" height="341.6" fill="#ffffff" fill-opacity="0.05"/><rect x="487.14" y="258.2" width="1.24" height="341.6" fill="#6050e0" fill-opacity="0.14"/><rect x="488.56" y="258.2" width="0.80" height="341.6" fill="#9a50a0" fill-opacity="0.04"/><rect x="490.16" y="258.2" width="0.93" height="341.6" fill="#ffffff" fill-opacity="0.11"/><rect x="491.92" y="258.2" width="1.29" height="341.6" fill="#6050e0" fill-opacity="0.16"/><rect x="494.01" y="258.2" width="0.62" height="341.6" fill="#ffffff" fill-opacity="0.13"/><rect x="495.46" y="258.2" width="1.24" height="341.6" fill="#6050e0" fill-opacity="0.14"/><rect x="496.95" y="258.2" width="1.23" height="341.6" fill="#6050e0" fill-opacity="0.04"/><rect x="498.95" y="258.2" width="0.78" height="341.6" fill="#9a50a0" fill-opacity="0.14"/><rect x="500.00" y="258.2" width="1.24" height="341.6" fill="#ffffff" fill-opacity="0.06"/><rect x="501.41" y="258.2" width="0.86" height="341.6" fill="#6050e0" fill-opacity="0.14"/><rect x="502.53" y="258.2" width="1.11" height="341.6" fill="#6050e0" fill-opacity="0.08"/><rect x="504.12" y="258.2" width="1.35" height="341.6" fill="#6050e0" fill-opacity="0.04"/><rect x="505.63" y="258.2" width="1.37" height="341.6" fill="#ffffff" fill-opacity="0.06"/><rect x="507.39" y="258.2" width="1.18" height="341.6" fill="#9a50a0" fill-opacity="0.07"/><rect x="509.04" y="258.2" width="0.91" height="341.6" fill="#ffffff" fill-opacity="0.10"/><rect x="510.58" y="258.2" width="0.60" height="341.6" fill="#9a50a0" fill-opacity="0.15"/><rect x="511.83" y="258.2" width="1.19" height="341.6" fill="#ffffff" fill-opacity="0.12"/><rect x="513.09" y="258.2" width="1.13" height="341.6" fill="#ffffff" fill-opacity="0.07"/><rect x="514.98" y="258.2" width="1.18" height="341.6" fill="#ffffff" fill-opacity="0.07"/><rect x="516.53" y="258.2" width="0.92" height="341.6" fill="#ffffff" fill-opacity="0.07"/><rect x="517.83" y="258.2" width="1.35" height="341.6" fill="#6050e0" fill-opacity="0.12"/><rect x="519.73" y="258.2" width="0.84" height="341.6" fill="#ffffff" fill-opacity="0.10"/><rect x="520.83" y="258.2" width="0.94" height="341.6" fill="#9a50a0" fill-opacity="0.11"/><rect x="522.19" y="258.2" width="0.95" height="341.6" fill="#9a50a0" fill-opacity="0.06"/><rect x="523.96" y="258.2" width="1.24" height="341.6" fill="#ffffff" fill-opacity="0.05"/><rect x="525.66" y="258.2" width="1.11" height="341.6" fill="#6050e0" fill-opacity="0.07"/><rect x="527.44" y="258.2" width="1.14" height="341.6" fill="#ffffff" fill-opacity="0.06"/><rect x="528.60" y="258.2" width="0.80" height="341.6" fill="#6050e0" fill-opacity="0.09"/><rect x="529.46" y="258.2" width="0.93" height="341.6" fill="#ffffff" fill-opacity="0.11"/><rect x="531.02" y="258.2" width="1.00" height="341.6" fill="#9a50a0" fill-opacity="0.06"/><rect x="532.02" y="258.2" width="1.20" height="341.6" fill="#ffffff" fill-opacity="0.13"/><rect x="533.61" y="258.2" width="0.74" height="341.6" fill="#9a50a0" fill-opacity="0.15"/><rect x="534.39" y="258.2" width="0.80" height="341.6" fill="#9a50a0" fill-opacity="0.14"/><rect x="535.91" y="258.2" width="1.13" height="341.6" fill="#9a50a0" fill-opacity="0.16"/><rect x="537.90" y="258.2" width="1.31" height="341.6" fill="#9a50a0" fill-opacity="0.11"/><rect x="539.67" y="258.2" width="1.26" height="341.6" fill="#6050e0" fill-opacity="0.10"/><rect x="541.60" y="258.2" width="0.98" height="341.6" fill="#ffffff" fill-opacity="0.06"/><rect x="543.16" y="258.2" width="1.21" height="341.6" fill="#9a50a0" fill-opacity="0.10"/><rect x="544.62" y="258.2" width="0.66" height="341.6" fill="#ffffff" fill-opacity="0.07"/><rect x="545.57" y="258.2" width="1.03" height="341.6" fill="#ffffff" fill-opacity="0.05"/><rect x="547.22" y="258.2" width="1.17" height="341.6" fill="#ffffff" fill-opacity="0.04"/><rect x="548.88" y="258.2" width="0.93" height="341.6" fill="#ffffff" fill-opacity="0.06"/><rect x="550.62" y="258.2" width="1.07" height="341.6" fill="#6050e0" fill-opacity="0.12"/><rect x="552.38" y="258.2" width="0.90" height="341.6" fill="#ffffff" fill-opacity="0.03"/><rect x="553.96" y="258.2" width="1.28" height="341.6" fill="#ffffff" fill-opacity="0.15"/><rect x="555.92" y="258.2" width="1.04" height="341.6" fill="#ffffff" fill-opacity="0.11"/><rect x="557.15" y="258.2" width="0.95" height="341.6" fill="#ffffff" fill-opacity="0.03"/><rect x="558.71" y="258.2" width="0.92" height="341.6" fill="#9a50a0" fill-opacity="0.05"/><rect x="559.75" y="258.2" width="1.10" height="341.6" fill="#ffffff" fill-opacity="0.03"/><rect x="561.36" y="258.2" width="0.62" height="341.6" fill="#ffffff" fill-opacity="0.11"/><rect x="562.39" y="258.2" width="0.64" height="341.6" fill="#ffffff" fill-opacity="0.08"/><rect x="563.33" y="258.2" width="1.21" height="341.6" fill="#9a50a0" fill-opacity="0.08"/><rect x="565.29" y="258.2" width="0.80" height="341.6" fill="#ffffff" fill-opacity="0.04"/><rect x="566.57" y="258.2" width="1.40" height="341.6" fill="#9a50a0" fill-opacity="0.08"/><rect x="568.68" y="258.2" width="1.12" height="341.6" fill="#6050e0" fill-opacity="0.13"/><rect x="569.98" y="258.2" width="0.62" height="341.6" fill="#ffffff" fill-opacity="0.05"/><rect x="571.20" y="258.2" width="1.05" height="341.6" fill="#9a50a0" fill-opacity="0.06"/><rect x="572.94" y="258.2" width="0.73" height="341.6" fill="#9a50a0" fill-opacity="0.11"/><rect x="573.77" y="258.2" width="1.26" height="341.6" fill="#ffffff" fill-opacity="0.16"/><rect x="575.05" y="258.2" width="0.85" height="341.6" fill="#6050e0" fill-opacity="0.12"/><rect x="576.26" y="258.2" width="1.17" height="341.6" fill="#9a50a0" fill-opacity="0.04"/><rect x="578.00" y="258.2" width="0.68" height="341.6" fill="#6050e0" fill-opacity="0.13"/><rect x="579.22" y="258.2" width="0.70" height="341.6" fill="#9a50a0" fill-opacity="0.16"/><rect x="580.23" y="258.2" width="0.94" height="341.6" fill="#9a50a0" fill-opacity="0.08"/><rect x="581.48" y="258.2" width="1.28" height="341.6" fill="#ffffff" fill-opacity="0.14"/><rect x="583.62" y="258.2" width="1.11" height="341.6" fill="#9a50a0" fill-opacity="0.14"/><rect x="585.12" y="258.2" width="1.19" height="341.6" fill="#ffffff" fill-opacity="0.16"/><rect x="587.04" y="258.2" width="1.03" height="341.6" fill="#ffffff" fill-opacity="0.09"/><rect x="588.72" y="258.2" width="0.81" height="341.6" fill="#6050e0" fill-opacity="0.14"/><rect x="589.62" y="258.2" width="1.31" height="341.6" fill="#9a50a0" fill-opacity="0.06"/><rect x="591.47" y="258.2" width="0.90" height="341.6" fill="#6050e0" fill-opacity="0.03"/><rect x="592.54" y="258.2" width="0.77" height="341.6" fill="#ffffff" fill-opacity="0.13"/><rect x="594.10" y="258.2" width="1.16" height="341.6" fill="#ffffff" fill-opacity="0.07"/><rect x="596.11" y="258.2" width="0.67" height="341.6" fill="#9a50a0" fill-opacity="0.12"/><rect x="597.47" y="258.2" width="1.15" height="341.6" fill="#9a50a0" fill-opacity="0.11"/><rect x="599.33" y="258.2" width="0.67" height="341.6" fill="#9a50a0" fill-opacity="0.06"/><rect x="600.28" y="258.2" width="1.07" height="341.6" fill="#9a50a0" fill-opacity="0.09"/><rect x="601.73" y="258.2" width="1.20" height="341.6" fill="#9a50a0" fill-opacity="0.07"/><rect x="603.17" y="258.2" width="0.80" height="341.6" fill="#ffffff" fill-opacity="0.05"/><rect x="604.08" y="258.2" width="1.03" height="341.6" fill="#ffffff" fill-opacity="0.13"/><rect x="605.30" y="258.2" width="0.99" height="341.6" fill="#6050e0" fill-opacity="0.12"/><rect x="606.76" y="258.2" width="0.83" height="341.6" fill="#ffffff" fill-opacity="0.04"/><rect x="607.79" y="258.2" width="0.74" height="341.6" fill="#9a50a0" fill-opacity="0.03"/><rect x="608.78" y="258.2" width="1.38" height="341.6" fill="#9a50a0" fill-opacity="0.10"/><rect x="610.28" y="258.2" width="1.29" height="341.6" fill="#6050e0" fill-opacity="0.09"/><rect x="612.09" y="258.2" width="0.98" height="341.6" fill="#ffffff" fill-opacity="0.09"/><rect x="613.11" y="258.2" width="1.35" height="341.6" fill="#6050e0" fill-opacity="0.09"/><rect x="614.82" y="258.2" width="0.66" height="341.6" fill="#ffffff" fill-opacity="0.11"/><rect x="615.62" y="258.2" width="1.05" height="341.6" fill="#6050e0" fill-opacity="0.07"/><rect x="616.77" y="258.2" width="1.21" height="341.6" fill="#9a50a0" fill-opacity="0.11"/><rect x="618.19" y="258.2" width="1.02" height="341.6" fill="#ffffff" fill-opacity="0.09"/><rect x="619.98" y="258.2" width="1.39" height="341.6" fill="#9a50a0" fill-opacity="0.07"/><rect x="621.92" y="258.2" width="1.19" height="341.6" fill="#ffffff" fill-opacity="0.15"/></g>
<line x1="623.3" y1="258.2" x2="623.3" y2="599.8" stroke="#a0a0a0" stroke-width="0.6"/>
<rect x="375.8" y="245" width="190" height="6.8" fill="#f8766d"/>
<rect x="565.8" y="245" width="57.4" height="6.8" fill="#00bfc4"/>
<line x1="565.8" y1="243.7" x2="565.8" y2="604" stroke="#3a3a3a" stroke-width="1.6" stroke-dasharray="4,2.6"/>
<text x="471.1" y="238.6" font-size="14" text-anchor="middle" fill="#222" font-weight="normal" textLength="80.3" lengthAdjust="spacingAndGlyphs" stroke="#222" stroke-width="0.32" >EOI−enriched</text>
<text x="595.3" y="238.6" font-size="14" text-anchor="middle" fill="#222" font-weight="normal" textLength="75.7" lengthAdjust="spacingAndGlyphs" stroke="#222" stroke-width="0.32" >DX−enriched</text>
<text x="632.4" y="368.6" font-size="10.2" text-anchor="start" fill="#222" font-weight="normal" textLength="24.7" lengthAdjust="spacingAndGlyphs" stroke="#222" stroke-width="0.23" >Gene</text>
<text x="632.4" y="381.5" font-size="10.2" text-anchor="start" fill="#222" font-weight="normal" textLength="51.8" lengthAdjust="spacingAndGlyphs" stroke="#222" stroke-width="0.23" >Expression</text>
<defs><linearGradient id="ge" x1="0" y1="0" x2="0" y2="1"><stop offset="0" stop-color="#ff0d0d"/><stop offset="0.5" stop-color="#ffffff"/><stop offset="1" stop-color="#0d0dff"/></linearGradient></defs>
<rect x="636" y="387.9" width="13.9" height="74.8" fill="url(#ge)"/>
<line x1="636" y1="396.3" x2="638.5" y2="396.3" stroke="#fff" stroke-width="0.6"/>
<line x1="647.4" y1="396.3" x2="649.9" y2="396.3" stroke="#fff" stroke-width="0.6"/>
<text x="655.6" y="399.8" font-size="9.8" text-anchor="start" fill="#222" font-weight="normal" stroke="#222" stroke-width="0.22" >2</text>
<line x1="636" y1="410.8" x2="638.5" y2="410.8" stroke="#fff" stroke-width="0.6"/>
<line x1="647.4" y1="410.8" x2="649.9" y2="410.8" stroke="#fff" stroke-width="0.6"/>
<text x="655.6" y="414.3" font-size="9.8" text-anchor="start" fill="#222" font-weight="normal" stroke="#222" stroke-width="0.22" >1</text>
<line x1="636" y1="425.8" x2="638.5" y2="425.8" stroke="#fff" stroke-width="0.6"/>
<line x1="647.4" y1="425.8" x2="649.9" y2="425.8" stroke="#fff" stroke-width="0.6"/>
<text x="655.6" y="429.3" font-size="9.8" text-anchor="start" fill="#222" font-weight="normal" stroke="#222" stroke-width="0.22" >0</text>
<line x1="636" y1="440.7" x2="638.5" y2="440.7" stroke="#fff" stroke-width="0.6"/>
<line x1="647.4" y1="440.7" x2="649.9" y2="440.7" stroke="#fff" stroke-width="0.6"/>
<text x="655.6" y="444.2" font-size="9.8" text-anchor="start" fill="#222" font-weight="normal" stroke="#222" stroke-width="0.22" >−1</text>
<line x1="636" y1="455.7" x2="638.5" y2="455.7" stroke="#fff" stroke-width="0.6"/>
<line x1="647.4" y1="455.7" x2="649.9" y2="455.7" stroke="#fff" stroke-width="0.6"/>
<text x="655.6" y="459.2" font-size="9.8" text-anchor="start" fill="#222" font-weight="normal" stroke="#222" stroke-width="0.22" >−2</text>
<text x="322.1" y="239.0" font-size="16" font-weight="bold" fill="#111" stroke="#111" stroke-width="0.45">e</text><rect x="333.0" y="236.2" width="3.0" height="2.8" fill="#111"/>
<circle cx="540.2" cy="616.7" r="3.5" fill="#ef3424"/><path d="M535.90,621.20 L544.50,621.20 Q546.30,621.20 546.80,622.80 L549.10,632.00 Q549.20,633.90 547.80,633.90 Q546.80,633.90 546.60,632.50 L545.00,626.70 L544.60,647.00 L541.20,647.00 L541.20,633.80 L539.20,633.80 L539.20,647.00 L535.80,647.00 L535.40,626.70 L533.80,632.50 Q533.60,633.90 532.60,633.90 Q531.20,633.90 531.30,632.00 L533.60,622.80 Q534.10,621.20 535.90,621.20 Z" fill="#ef3424"/><text x="540.5" y="630.9" font-size="8.4" text-anchor="middle" fill="#f5a51c" font-weight="normal" stroke="#f5a51c" stroke-width="0.19" >3</text>
<circle cx="559.6" cy="616.7" r="3.5" fill="#a31a22"/><path d="M555.30,621.20 L563.90,621.20 Q565.70,621.20 566.20,622.80 L568.50,632.00 Q568.60,633.90 567.20,633.90 Q566.20,633.90 566.00,632.50 L564.40,626.70 L564.00,647.00 L560.60,647.00 L560.60,633.80 L558.60,633.80 L558.60,647.00 L555.20,647.00 L554.80,626.70 L553.20,632.50 Q553.00,633.90 552.00,633.90 Q550.60,633.90 550.70,632.00 L553.00,622.80 Q553.50,621.20 555.30,621.20 Z" fill="#a31a22"/><text x="559.9" y="630.9" font-size="8.4" text-anchor="middle" fill="#e29a22" font-weight="normal" stroke="#e29a22" stroke-width="0.19" >5</text>
<circle cx="579.1" cy="616.7" r="3.5" fill="#d8202c"/><path d="M574.80,621.20 L583.40,621.20 Q585.20,621.20 585.70,622.80 L588.00,632.00 Q588.10,633.90 586.70,633.90 Q585.70,633.90 585.50,632.50 L583.90,626.70 L583.50,647.00 L580.10,647.00 L580.10,633.80 L578.10,633.80 L578.10,647.00 L574.70,647.00 L574.30,626.70 L572.70,632.50 Q572.50,633.90 571.50,633.90 Q570.10,633.90 570.20,632.00 L572.50,622.80 Q573.00,621.20 574.80,621.20 Z" fill="#d8202c"/><text x="579.4" y="630.9" font-size="8.4" text-anchor="middle" fill="#f0a020" font-weight="normal" stroke="#f0a020" stroke-width="0.19" >6</text>
<circle cx="598.4" cy="616.7" r="3.5" fill="#3d6fc6"/><path d="M594.10,621.20 L602.70,621.20 Q604.50,621.20 605.00,622.80 L607.30,632.00 Q607.40,633.90 606.00,633.90 Q605.00,633.90 604.80,632.50 L603.20,626.70 L602.80,647.00 L599.40,647.00 L599.40,633.80 L597.40,633.80 L597.40,647.00 L594.00,647.00 L593.60,626.70 L592.00,632.50 Q591.80,633.90 590.80,633.90 Q589.40,633.90 589.50,632.00 L591.80,622.80 Q592.30,621.20 594.10,621.20 Z" fill="#3d6fc6"/><text x="598.5" y="630.9" font-size="8.4" text-anchor="middle" fill="#c5d53c" font-weight="normal" textLength="8.3" lengthAdjust="spacingAndGlyphs" stroke="#c5d53c" stroke-width="0.19" >14</text>
</svg></body></html>
